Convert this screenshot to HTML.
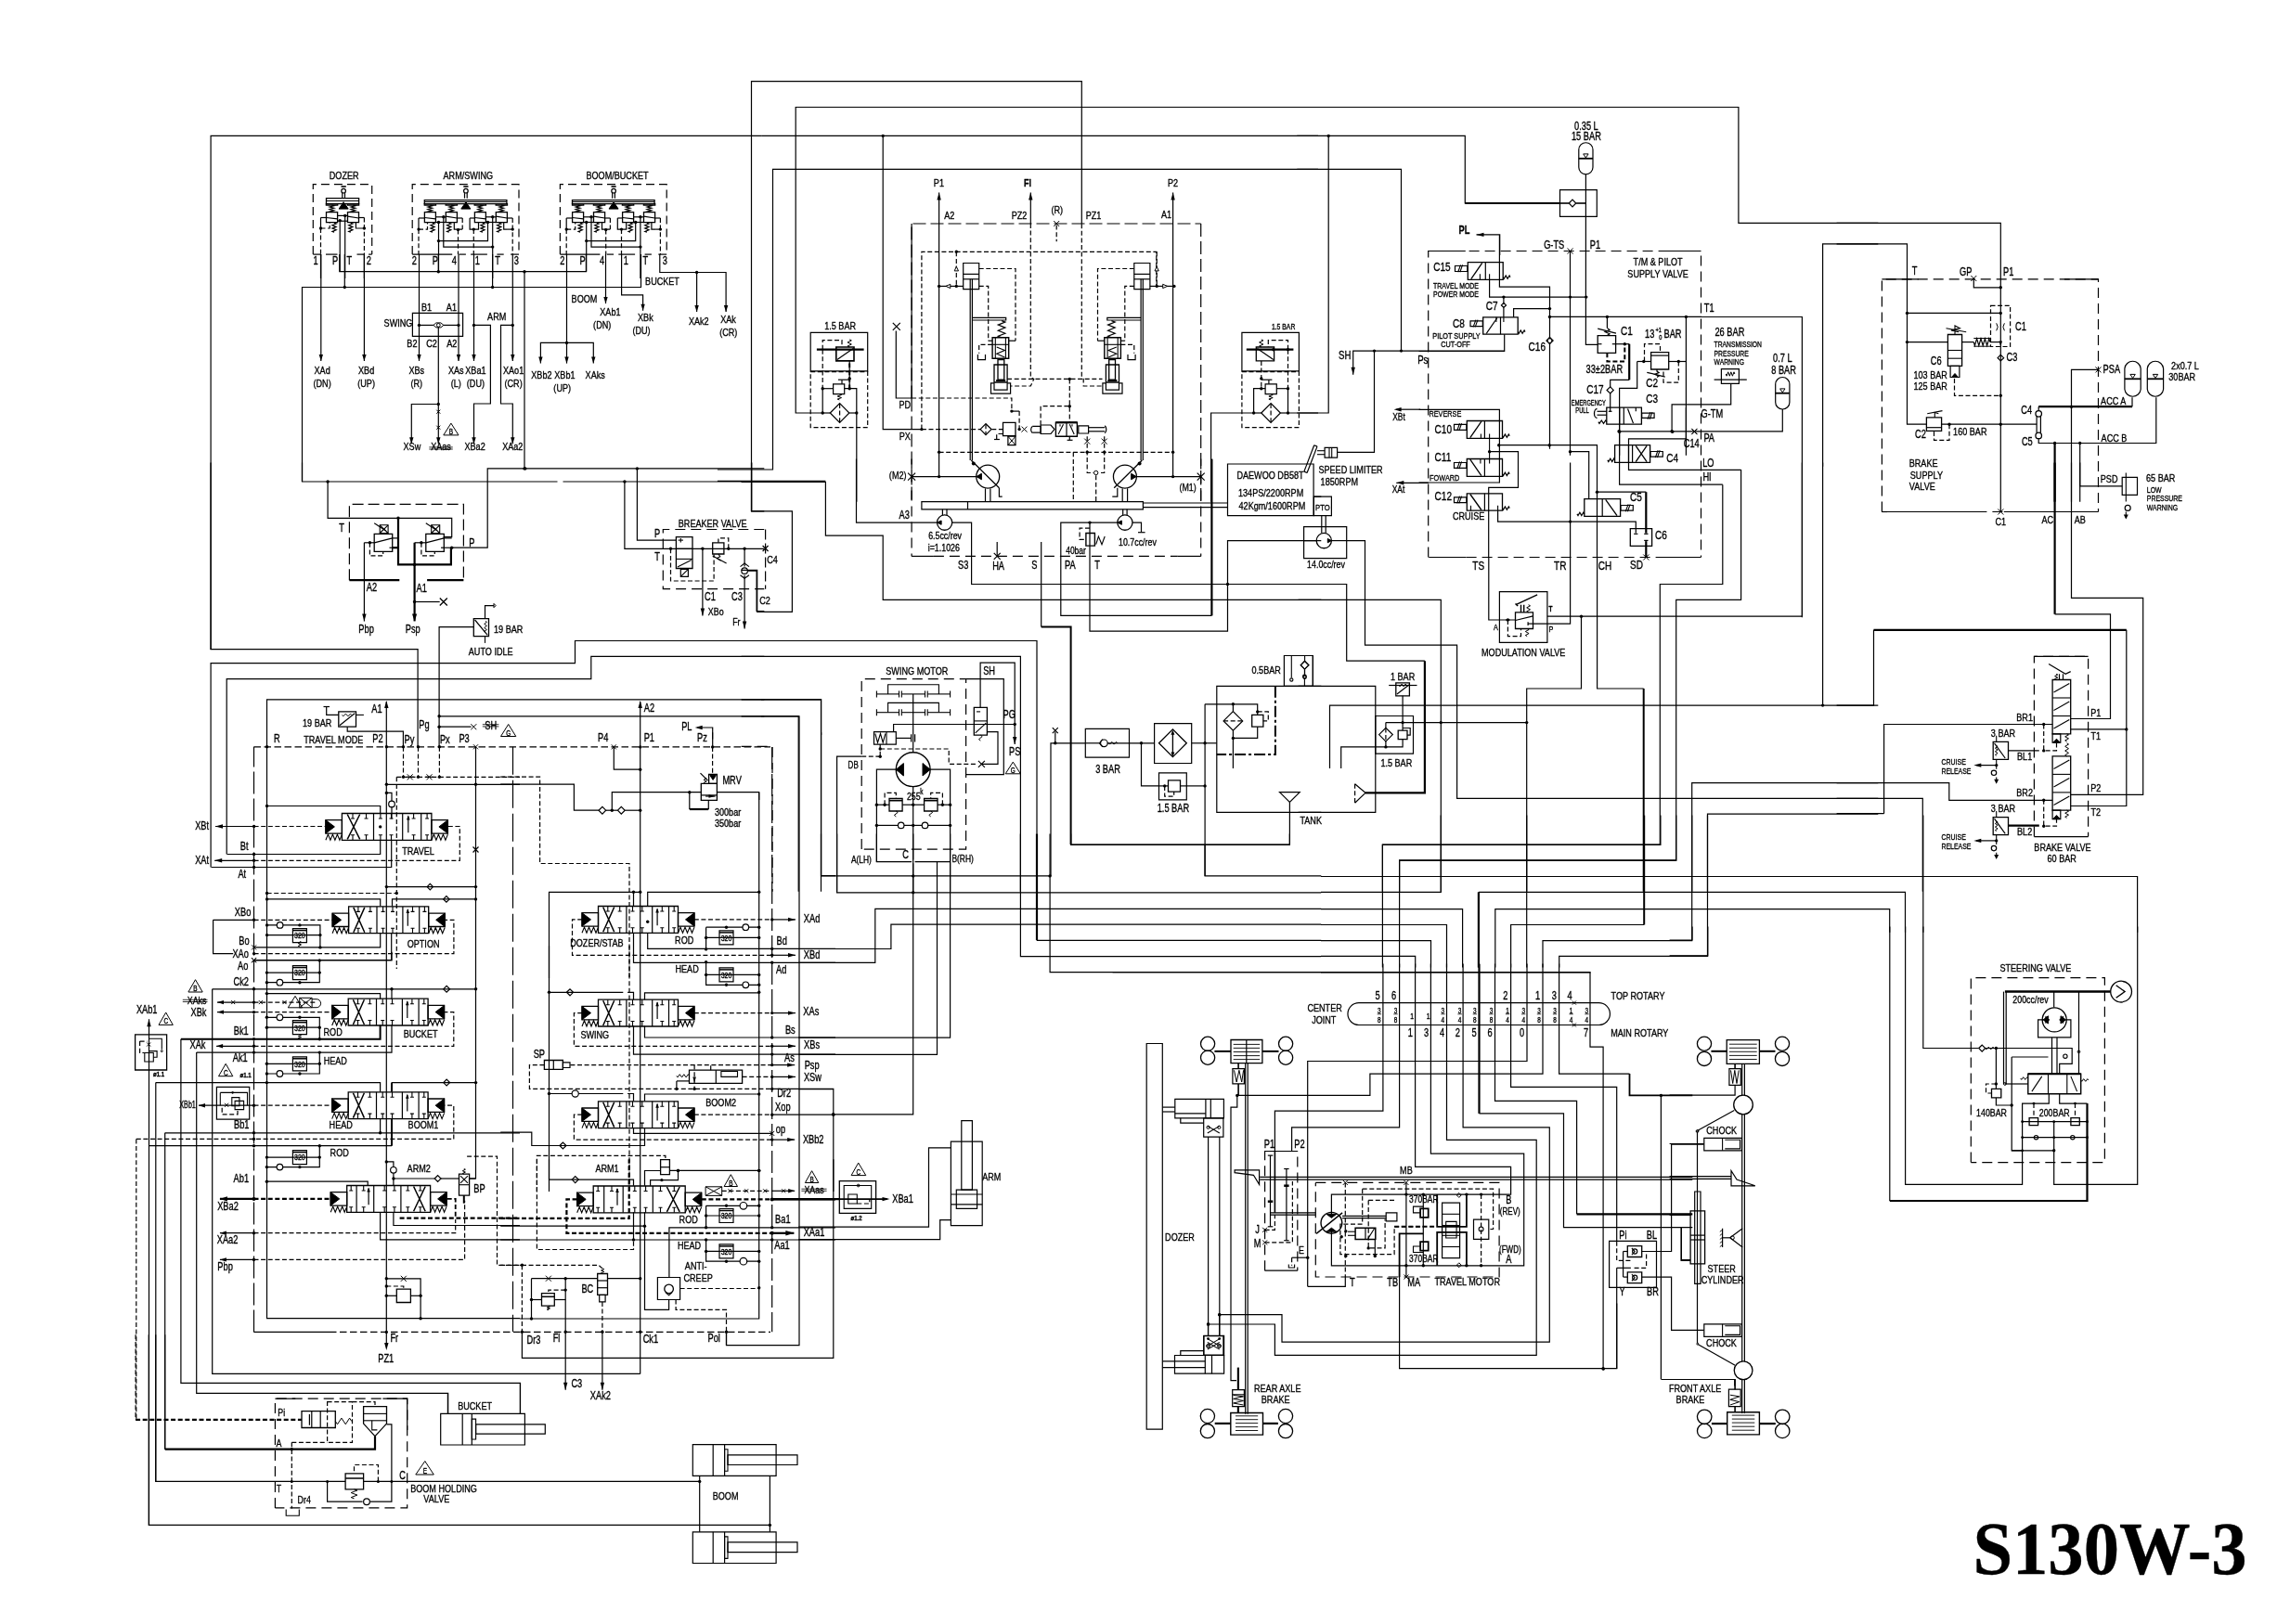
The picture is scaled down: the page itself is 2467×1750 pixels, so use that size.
<!DOCTYPE html>
<html><head><meta charset="utf-8"><style>
html,body{margin:0;padding:0;background:#fff}
svg{display:block;will-change:transform}
text{font-family:"Liberation Sans",sans-serif;fill:#000;stroke:#000;stroke-width:.35px;stroke-linejoin:round}
</style></head><body>
<svg width="2467" height="1750" viewBox="0 0 2467 1750" stroke="#000" fill="none" stroke-linecap="butt" stroke-linejoin="miter">
<rect x="0" y="0" width="2467" height="1750" fill="#fff" stroke="none"/>
<circle cx="370.1" cy="205.7" r="2.3055963110459023" fill="none" stroke-width="1.2"/>
<path d="M367.5 201.0L372.8 201.0" stroke-width="1.6" fill="none"/>
<path d="M368.8 208.1L368.8 213.7" stroke-width="1.2" fill="none"/>
<path d="M371.5 208.1L371.5 213.7" stroke-width="1.2" fill="none"/>
<path d="M351.5 213.7H386.6V219.6H351.5Z" stroke-width="1.3" fill="none"/>
<path d="M351.5 216.5L386.6 216.5" stroke-width="1.1" fill="none"/>
<polygon points="370.1,217.7 365.1,225.1 375.2,225.1" fill="#000" stroke-width="1"/>
<path d="M351.5 228.7H363.6V239.7H351.5Z" stroke-width="1.3" fill="none"/>
<path d="M351.3 219.6L363.8 219.6L363.8 221.1L351.3 221.1Z" stroke-width="1.1" fill="none"/>
<path d="M357.5 221.1L359.8 221.7L355.2 223.0L359.8 224.3L355.2 225.5L359.8 226.8L355.2 228.1L357.5 228.7" stroke-width="1.2" fill="none"/>
<path d="M351.5 234.5L363.6 235.8" stroke-width="1.2" fill="none"/>
<path d="M360.1 240.3L362.2 241.1L358.0 242.7L362.2 244.4L358.0 246.1L362.2 247.7L358.0 249.4L360.1 250.2" stroke-width="1.2" fill="none"/>
<path d="M374.5 228.7H386.5V239.7H374.5Z" stroke-width="1.3" fill="none"/>
<path d="M374.3 219.6L386.7 219.6L386.7 221.1L374.3 221.1Z" stroke-width="1.1" fill="none"/>
<path d="M380.5 221.1L382.8 221.7L378.2 223.0L382.8 224.3L378.2 225.5L382.8 226.8L378.2 228.1L380.5 228.7" stroke-width="1.2" fill="none"/>
<path d="M374.5 233.2L386.5 235.0" stroke-width="1.2" fill="none"/>
<path d="M377.8 240.3L379.9 241.1L375.7 242.7L379.9 244.4L375.7 246.1L379.9 247.7L375.7 249.4L377.8 250.2" stroke-width="1.2" fill="none"/>
<path d="M337.3 274.1L337.3 198.7L400.7 198.7L400.7 274.1" stroke-width="1.2" fill="none" stroke-dasharray="9 5"/>
<path d="M337.3 274.1L345.5 274.1" stroke-width="1.2" fill="none"/>
<path d="M351.0 274.1L363.5 274.1" stroke-width="1.2" fill="none"/>
<path d="M384.5 274.1L392.4 274.1" stroke-width="1.2" fill="none"/>
<path d="M397.1 274.1L400.7 274.1" stroke-width="1.2" fill="none"/>
<path d="M345.5 234.5L351.5 234.5" stroke-width="1.2" fill="none"/>
<path d="M345.5 234.5L345.5 246.0" stroke-width="1.2" fill="none"/>
<circle cx="345.5" cy="246.0" r="1.7" fill="#000" stroke="none"/>
<path d="M345.5 246.0L345.5 274.1" stroke-width="1.2" fill="none" stroke-dasharray="5 2.6"/>
<path d="M345.5 246.0L355.2 246.0L355.2 239.7" stroke-width="1.2" fill="none" stroke-dasharray="5 2.6"/>
<path d="M345.5 274.1L345.5 300.0" stroke-width="1.2" fill="none"/>
<path d="M386.6 234.5L392.4 234.5" stroke-width="1.2" fill="none"/>
<path d="M383.4 239.7L383.4 246.0L392.4 246.0" stroke-width="1.2" fill="none"/>
<circle cx="392.4" cy="246.0" r="1.7" fill="#000" stroke="none"/>
<path d="M392.4 234.5L392.4 274.1" stroke-width="1.2" fill="none" stroke-dasharray="5 2.6"/>
<path d="M392.4 274.1L392.4 300.0" stroke-width="1.2" fill="none"/>
<path d="M363.5 232.4L374.5 232.4" stroke-width="1.2" fill="none"/>
<path d="M363.5 238.2L374.5 238.2" stroke-width="1.2" fill="none"/>
<circle cx="371.7" cy="232.4" r="1.7" fill="#000" stroke="none"/>
<circle cx="366.2" cy="237.6" r="1.7" fill="#000" stroke="none"/>
<path d="M366.2 237.6L366.2 292.7" stroke-width="1.2" fill="none"/>
<path d="M371.7 232.4L371.7 300.0" stroke-width="1.2" fill="none"/>
<circle cx="501.9" cy="205.7" r="2.3055963110459023" fill="none" stroke-width="1.2"/>
<path d="M499.3 201.0L504.5 201.0" stroke-width="1.6" fill="none"/>
<path d="M500.5 208.1L500.5 213.7" stroke-width="1.2" fill="none"/>
<path d="M503.2 208.1L503.2 213.7" stroke-width="1.2" fill="none"/>
<path d="M457.3 215.6H545.9V219.6H457.3Z" stroke-width="1.3" fill="none"/>
<path d="M457.3 217.5L545.9 217.5" stroke-width="1.1" fill="none"/>
<polygon points="501.9,217.7 496.8,225.1 506.9,225.1" fill="#000" stroke-width="1"/>
<path d="M457.4 228.7H469.4V239.7H457.4Z" stroke-width="1.3" fill="none"/>
<path d="M457.2 219.6L469.6 219.6L469.6 221.1L457.2 221.1Z" stroke-width="1.1" fill="none"/>
<path d="M463.4 221.1L465.7 221.7L461.1 223.0L465.7 224.3L461.1 225.5L465.7 226.8L461.1 228.1L463.4 228.7" stroke-width="1.2" fill="none"/>
<path d="M457.4 234.5L469.4 235.8" stroke-width="1.2" fill="none"/>
<path d="M466.0 240.3L468.1 241.1L463.9 242.7L468.1 244.4L463.9 246.1L468.1 247.7L463.9 249.4L466.0 250.2" stroke-width="1.2" fill="none"/>
<path d="M480.3 228.7H492.4V239.7H480.3Z" stroke-width="1.3" fill="none"/>
<path d="M480.1 219.6L492.6 219.6L492.6 221.1L480.1 221.1Z" stroke-width="1.1" fill="none"/>
<path d="M486.3 221.1L488.6 221.7L484.0 223.0L488.6 224.3L484.0 225.5L488.6 226.8L484.0 228.1L486.3 228.7" stroke-width="1.2" fill="none"/>
<path d="M480.3 233.2L492.4 235.0" stroke-width="1.2" fill="none"/>
<path d="M483.7 240.3L485.8 241.1L481.6 242.7L485.8 244.4L481.6 246.1L485.8 247.7L481.6 249.4L483.7 250.2" stroke-width="1.2" fill="none"/>
<path d="M511.4 228.7H523.4V239.7H511.4Z" stroke-width="1.3" fill="none"/>
<path d="M511.1 219.6L523.6 219.6L523.6 221.1L511.1 221.1Z" stroke-width="1.1" fill="none"/>
<path d="M517.3 221.1L519.6 221.7L515.0 223.0L519.6 224.3L515.0 225.5L519.6 226.8L515.0 228.1L517.3 228.7" stroke-width="1.2" fill="none"/>
<path d="M511.4 234.5L523.4 235.8" stroke-width="1.2" fill="none"/>
<path d="M519.9 240.3L522.0 241.1L517.9 242.7L522.0 244.4L517.9 246.1L522.0 247.7L517.9 249.4L519.9 250.2" stroke-width="1.2" fill="none"/>
<path d="M534.3 228.7H546.4V239.7H534.3Z" stroke-width="1.3" fill="none"/>
<path d="M534.1 219.6L546.6 219.6L546.6 221.1L534.1 221.1Z" stroke-width="1.1" fill="none"/>
<path d="M540.3 221.1L542.6 221.7L538.0 223.0L542.6 224.3L538.0 225.5L542.6 226.8L538.0 228.1L540.3 228.7" stroke-width="1.2" fill="none"/>
<path d="M534.3 233.2L546.4 235.0" stroke-width="1.2" fill="none"/>
<path d="M537.7 240.3L539.8 241.1L535.6 242.7L539.8 244.4L535.6 246.1L539.8 247.7L535.6 249.4L537.7 250.2" stroke-width="1.2" fill="none"/>
<path d="M444.2 274.1L444.2 198.7L559.0 198.7L559.0 274.1" stroke-width="1.2" fill="none" stroke-dasharray="9 5"/>
<path d="M444.2 274.1L487.2 274.1" stroke-width="1.2" fill="none"/>
<path d="M494.5 274.1L501.9 274.1" stroke-width="1.2" fill="none"/>
<path d="M507.1 274.1L524.9 274.1" stroke-width="1.2" fill="none"/>
<path d="M535.4 274.1L542.7 274.1" stroke-width="1.2" fill="none"/>
<path d="M550.1 274.1L559.0 274.1" stroke-width="1.2" fill="none"/>
<path d="M451.0 235.0L457.3 235.0" stroke-width="1.2" fill="none"/>
<path d="M451.0 235.0L451.0 247.1" stroke-width="1.2" fill="none"/>
<circle cx="451.0" cy="247.1" r="1.7" fill="#000" stroke="none"/>
<path d="M451.0 247.1L451.0 274.1" stroke-width="1.2" fill="none" stroke-dasharray="5 2.6"/>
<path d="M451.0 247.1L460.5 247.1L460.5 239.7" stroke-width="1.2" fill="none" stroke-dasharray="5 2.6"/>
<path d="M492.4 235.0L498.2 235.0" stroke-width="1.2" fill="none"/>
<path d="M489.3 239.7L489.3 247.1L498.2 247.1" stroke-width="1.2" fill="none"/>
<path d="M498.2 235.0L498.2 247.1" stroke-width="1.2" fill="none" stroke-dasharray="5 2.6"/>
<circle cx="493.5" cy="247.6" r="1.7" fill="#000" stroke="none"/>
<path d="M493.5 247.6L493.5 274.1" stroke-width="1.2" fill="none" stroke-dasharray="5 2.6"/>
<path d="M506.1 235.0L511.8 235.0" stroke-width="1.2" fill="none"/>
<path d="M506.1 235.0L506.1 247.1L515.5 247.1L515.5 239.7" stroke-width="1.2" fill="none"/>
<circle cx="510.3" cy="247.1" r="1.7" fill="#000" stroke="none"/>
<path d="M510.3 247.1L510.3 274.1" stroke-width="1.2" fill="none" stroke-dasharray="5 2.6"/>
<path d="M545.9 235.0L552.2 235.0" stroke-width="1.2" fill="none"/>
<path d="M542.7 239.7L542.7 247.1L546.9 247.1" stroke-width="1.2" fill="none"/>
<path d="M552.2 235.0L552.2 274.1" stroke-width="1.2" fill="none" stroke-dasharray="5 2.6"/>
<path d="M546.9 247.1L552.2 247.1" stroke-width="1.2" fill="none" stroke-dasharray="5 2.6"/>
<circle cx="552.2" cy="247.1" r="1.7" fill="#000" stroke="none"/>
<path d="M469.4 233.8L480.4 233.8" stroke-width="1.2" fill="none"/>
<path d="M469.4 239.5L480.4 239.5" stroke-width="1.2" fill="none"/>
<path d="M522.8 233.8L534.4 233.8" stroke-width="1.2" fill="none"/>
<path d="M522.8 239.5L534.4 239.5" stroke-width="1.2" fill="none"/>
<circle cx="472.5" cy="239.5" r="1.7" fill="#000" stroke="none"/>
<circle cx="477.8" cy="233.8" r="1.7" fill="#000" stroke="none"/>
<circle cx="525.5" cy="239.5" r="1.7" fill="#000" stroke="none"/>
<circle cx="530.7" cy="233.8" r="1.7" fill="#000" stroke="none"/>
<circle cx="472.5" cy="259.6" r="1.7" fill="#000" stroke="none"/>
<circle cx="530.7" cy="266.1" r="1.7" fill="#000" stroke="none"/>
<path d="M472.5 239.5L472.5 292.7" stroke-width="1.2" fill="none"/>
<path d="M472.5 259.6L525.5 259.6L525.5 239.5" stroke-width="1.2" fill="none"/>
<path d="M477.8 233.8L477.8 266.1L530.7 266.1" stroke-width="1.2" fill="none"/>
<path d="M530.7 233.8L530.7 300.0" stroke-width="1.2" fill="none"/>
<circle cx="661.1" cy="205.7" r="2.3055963110459023" fill="none" stroke-width="1.2"/>
<path d="M658.5 201.0L663.7 201.0" stroke-width="1.6" fill="none"/>
<path d="M659.7 208.1L659.7 213.7" stroke-width="1.2" fill="none"/>
<path d="M662.4 208.1L662.4 213.7" stroke-width="1.2" fill="none"/>
<path d="M616.5 215.6H705.1V219.6H616.5Z" stroke-width="1.3" fill="none"/>
<path d="M616.5 217.5L705.1 217.5" stroke-width="1.1" fill="none"/>
<polygon points="661.1,217.7 656.0,225.1 666.1,225.1" fill="#000" stroke-width="1"/>
<path d="M616.6 228.7H628.6V239.7H616.6Z" stroke-width="1.3" fill="none"/>
<path d="M616.4 219.6L628.8 219.6L628.8 221.1L616.4 221.1Z" stroke-width="1.1" fill="none"/>
<path d="M622.6 221.1L624.9 221.7L620.3 223.0L624.9 224.3L620.3 225.5L624.9 226.8L620.3 228.1L622.6 228.7" stroke-width="1.2" fill="none"/>
<path d="M616.6 234.5L628.6 235.8" stroke-width="1.2" fill="none"/>
<path d="M625.2 240.3L627.3 241.1L623.1 242.7L627.3 244.4L623.1 246.1L627.3 247.7L623.1 249.4L625.2 250.2" stroke-width="1.2" fill="none"/>
<path d="M639.5 228.7H651.6V239.7H639.5Z" stroke-width="1.3" fill="none"/>
<path d="M639.3 219.6L651.8 219.6L651.8 221.1L639.3 221.1Z" stroke-width="1.1" fill="none"/>
<path d="M645.5 221.1L647.8 221.7L643.2 223.0L647.8 224.3L643.2 225.5L647.8 226.8L643.2 228.1L645.5 228.7" stroke-width="1.2" fill="none"/>
<path d="M639.5 233.2L651.6 235.0" stroke-width="1.2" fill="none"/>
<path d="M642.9 240.3L645.0 241.1L640.8 242.7L645.0 244.4L640.8 246.1L645.0 247.7L640.8 249.4L642.9 250.2" stroke-width="1.2" fill="none"/>
<path d="M670.6 228.7H682.6V239.7H670.6Z" stroke-width="1.3" fill="none"/>
<path d="M670.3 219.6L682.8 219.6L682.8 221.1L670.3 221.1Z" stroke-width="1.1" fill="none"/>
<path d="M676.5 221.1L678.8 221.7L674.2 223.0L678.8 224.3L674.2 225.5L678.8 226.8L674.2 228.1L676.5 228.7" stroke-width="1.2" fill="none"/>
<path d="M670.6 234.5L682.6 235.8" stroke-width="1.2" fill="none"/>
<path d="M679.1 240.3L681.2 241.1L677.1 242.7L681.2 244.4L677.1 246.1L681.2 247.7L677.1 249.4L679.1 250.2" stroke-width="1.2" fill="none"/>
<path d="M693.5 228.7H705.6V239.7H693.5Z" stroke-width="1.3" fill="none"/>
<path d="M693.3 219.6L705.8 219.6L705.8 221.1L693.3 221.1Z" stroke-width="1.1" fill="none"/>
<path d="M699.5 221.1L701.8 221.7L697.2 223.0L701.8 224.3L697.2 225.5L701.8 226.8L697.2 228.1L699.5 228.7" stroke-width="1.2" fill="none"/>
<path d="M693.5 233.2L705.6 235.0" stroke-width="1.2" fill="none"/>
<path d="M696.9 240.3L699.0 241.1L694.8 242.7L699.0 244.4L694.8 246.1L699.0 247.7L694.8 249.4L696.9 250.2" stroke-width="1.2" fill="none"/>
<path d="M603.4 274.1L603.4 198.7L718.2 198.7L718.2 274.1" stroke-width="1.2" fill="none" stroke-dasharray="9 5"/>
<path d="M603.4 274.1L646.4 274.1" stroke-width="1.2" fill="none"/>
<path d="M653.7 274.1L661.1 274.1" stroke-width="1.2" fill="none"/>
<path d="M666.3 274.1L684.1 274.1" stroke-width="1.2" fill="none"/>
<path d="M694.6 274.1L701.9 274.1" stroke-width="1.2" fill="none"/>
<path d="M709.3 274.1L718.2 274.1" stroke-width="1.2" fill="none"/>
<path d="M610.2 235.0L616.5 235.0" stroke-width="1.2" fill="none"/>
<path d="M610.2 235.0L610.2 247.1" stroke-width="1.2" fill="none"/>
<circle cx="610.2" cy="247.1" r="1.7" fill="#000" stroke="none"/>
<path d="M610.2 247.1L610.2 274.1" stroke-width="1.2" fill="none" stroke-dasharray="5 2.6"/>
<path d="M610.2 247.1L619.7 247.1L619.7 239.7" stroke-width="1.2" fill="none" stroke-dasharray="5 2.6"/>
<path d="M651.6 235.0L657.4 235.0" stroke-width="1.2" fill="none"/>
<path d="M648.5 239.7L648.5 247.1L657.4 247.1" stroke-width="1.2" fill="none"/>
<path d="M657.4 235.0L657.4 247.1" stroke-width="1.2" fill="none" stroke-dasharray="5 2.6"/>
<circle cx="652.7" cy="247.6" r="1.7" fill="#000" stroke="none"/>
<path d="M652.7 247.6L652.7 274.1" stroke-width="1.2" fill="none" stroke-dasharray="5 2.6"/>
<path d="M665.3 235.0L671.0 235.0" stroke-width="1.2" fill="none"/>
<path d="M665.3 235.0L665.3 247.1L674.7 247.1L674.7 239.7" stroke-width="1.2" fill="none"/>
<circle cx="669.5" cy="247.1" r="1.7" fill="#000" stroke="none"/>
<path d="M669.5 247.1L669.5 274.1" stroke-width="1.2" fill="none" stroke-dasharray="5 2.6"/>
<path d="M705.1 235.0L711.4 235.0" stroke-width="1.2" fill="none"/>
<path d="M701.9 239.7L701.9 247.1L706.1 247.1" stroke-width="1.2" fill="none"/>
<path d="M711.4 235.0L711.4 274.1" stroke-width="1.2" fill="none" stroke-dasharray="5 2.6"/>
<path d="M706.1 247.1L711.4 247.1" stroke-width="1.2" fill="none" stroke-dasharray="5 2.6"/>
<circle cx="711.4" cy="247.1" r="1.7" fill="#000" stroke="none"/>
<path d="M628.6 233.8L639.6 233.8" stroke-width="1.2" fill="none"/>
<path d="M628.6 239.5L639.6 239.5" stroke-width="1.2" fill="none"/>
<path d="M682.0 233.8L693.6 233.8" stroke-width="1.2" fill="none"/>
<path d="M682.0 239.5L693.6 239.5" stroke-width="1.2" fill="none"/>
<circle cx="631.7" cy="239.5" r="1.7" fill="#000" stroke="none"/>
<circle cx="637.0" cy="233.8" r="1.7" fill="#000" stroke="none"/>
<circle cx="684.7" cy="239.5" r="1.7" fill="#000" stroke="none"/>
<circle cx="689.9" cy="233.8" r="1.7" fill="#000" stroke="none"/>
<circle cx="631.7" cy="259.6" r="1.7" fill="#000" stroke="none"/>
<circle cx="689.9" cy="266.1" r="1.7" fill="#000" stroke="none"/>
<path d="M631.7 239.5L631.7 292.7" stroke-width="1.2" fill="none"/>
<path d="M631.7 259.6L684.7 259.6L684.7 239.5" stroke-width="1.2" fill="none"/>
<path d="M637.0 233.8L637.0 266.1L689.9 266.1" stroke-width="1.2" fill="none"/>
<path d="M689.9 233.8L689.9 300.0" stroke-width="1.2" fill="none"/>
<text transform="translate(370.7,193.3) scale(0.781,1)" text-anchor="middle" font-size="11.64">DOZER</text>
<text transform="translate(504.3,193.3) scale(0.781,1)" text-anchor="middle" font-size="11.64">ARM/SWING</text>
<text transform="translate(665.0,192.7) scale(0.781,1)" text-anchor="middle" font-size="11.64">BOOM/BUCKET</text>
<text transform="translate(340.1,284.6) scale(0.781,1)" text-anchor="middle" font-size="11.85">1</text>
<text transform="translate(361.2,284.6) scale(0.781,1)" text-anchor="middle" font-size="11.85">P</text>
<text transform="translate(376.4,284.6) scale(0.781,1)" text-anchor="middle" font-size="11.85">T</text>
<text transform="translate(397.3,284.6) scale(0.781,1)" text-anchor="middle" font-size="11.85">2</text>
<text transform="translate(446.3,284.6) scale(0.781,1)" text-anchor="middle" font-size="11.85">2</text>
<text transform="translate(468.8,284.6) scale(0.781,1)" text-anchor="middle" font-size="11.85">P</text>
<text transform="translate(489.4,284.6) scale(0.781,1)" text-anchor="middle" font-size="11.85">4</text>
<text transform="translate(514.3,284.6) scale(0.781,1)" text-anchor="middle" font-size="11.85">1</text>
<text transform="translate(536.0,284.6) scale(0.781,1)" text-anchor="middle" font-size="11.85">T</text>
<text transform="translate(556.3,284.6) scale(0.781,1)" text-anchor="middle" font-size="11.85">3</text>
<text transform="translate(605.9,284.6) scale(0.781,1)" text-anchor="middle" font-size="11.85">2</text>
<text transform="translate(627.6,284.6) scale(0.781,1)" text-anchor="middle" font-size="11.85">P</text>
<text transform="translate(648.5,284.6) scale(0.781,1)" text-anchor="middle" font-size="11.85">4</text>
<text transform="translate(674.2,284.6) scale(0.781,1)" text-anchor="middle" font-size="11.85">1</text>
<text transform="translate(695.4,284.6) scale(0.781,1)" text-anchor="middle" font-size="11.85">T</text>
<text transform="translate(716.2,284.6) scale(0.781,1)" text-anchor="middle" font-size="11.85">3</text>
<path d="M820.0 146.4L227.1 146.4L227.1 700.0" stroke-width="1.2" fill="none"/>
<path d="M365.8 274.0L365.8 292.7L631.4 292.7L631.4 274.0" stroke-width="1.2" fill="none"/>
<circle cx="472.3" cy="292.7" r="1.7" fill="#000" stroke="none"/>
<circle cx="565.0" cy="292.7" r="1.7" fill="#000" stroke="none"/>
<path d="M690.5 274.0L690.5 309.5L325.5 309.5L325.5 519.0" stroke-width="1.2" fill="none"/>
<circle cx="371.3" cy="309.5" r="1.7" fill="#000" stroke="none"/>
<circle cx="530.6" cy="309.5" r="1.7" fill="#000" stroke="none"/>
<path d="M371.3 274.0L371.3 309.5" stroke-width="1.2" fill="none"/>
<path d="M472.3 274.0L472.3 292.7" stroke-width="1.2" fill="none"/>
<path d="M530.6 274.0L530.6 309.5" stroke-width="1.2" fill="none"/>
<path d="M345.8 274.0L345.8 388.9" stroke-width="1.2" fill="none"/>
<polygon points="345.8,388.9 343.6,381.9 348.0,381.9" fill="#000" stroke="none"/>
<path d="M392.4 274.0L392.4 388.9" stroke-width="1.2" fill="none"/>
<polygon points="392.4,388.9 390.2,381.9 394.6,381.9" fill="#000" stroke="none"/>
<path d="M451.5 274.0L451.5 388.9" stroke-width="1.2" fill="none"/>
<polygon points="451.5,388.9 449.3,381.9 453.7,381.9" fill="#000" stroke="none"/>
<path d="M494.0 274.0L494.0 388.9" stroke-width="1.2" fill="none"/>
<polygon points="494.0,388.9 491.8,381.9 496.2,381.9" fill="#000" stroke="none"/>
<path d="M510.5 274.0L510.5 388.9" stroke-width="1.2" fill="none"/>
<polygon points="510.5,388.9 508.3,381.9 512.7,381.9" fill="#000" stroke="none"/>
<path d="M552.3 274.0L552.3 388.9" stroke-width="1.2" fill="none"/>
<polygon points="552.3,388.9 550.1,381.9 554.5,381.9" fill="#000" stroke="none"/>
<path d="M610.5 274.0L610.5 391.6" stroke-width="1.2" fill="none"/>
<path d="M582.4 391.6L582.4 369.4L639.3 369.4L639.3 391.6" stroke-width="1.2" fill="none"/>
<circle cx="610.5" cy="369.4" r="1.7" fill="#000" stroke="none"/>
<polygon points="582.4,391.6 580.2,384.6 584.6,384.6" fill="#000" stroke="none"/>
<polygon points="610.5,391.6 608.3,384.6 612.7,384.6" fill="#000" stroke="none"/>
<polygon points="639.3,391.6 637.1,384.6 641.5,384.6" fill="#000" stroke="none"/>
<path d="M652.5 274.0L652.5 327.1" stroke-width="1.2" fill="none"/>
<polygon points="652.5,327.1 650.3,320.1 654.7,320.1" fill="#000" stroke="none"/>
<path d="M669.6 274.0L669.6 317.9L692.6 317.9L692.6 334.7" stroke-width="1.2" fill="none"/>
<polygon points="692.6,334.7 690.4,327.7 694.8,327.7" fill="#000" stroke="none"/>
<path d="M710.8 274.0L710.8 293.5L782.1 293.5L782.1 336.1" stroke-width="1.2" fill="none"/>
<path d="M750.6 293.5L750.6 336.1" stroke-width="1.2" fill="none"/>
<circle cx="750.6" cy="293.5" r="1.7" fill="#000" stroke="none"/>
<polygon points="782.1,336.1 779.9,329.1 784.3,329.1" fill="#000" stroke="none"/>
<polygon points="750.6,336.1 748.4,329.1 752.8,329.1" fill="#000" stroke="none"/>
<path d="M444.4 337.4H498.6V362.4H444.4Z" stroke-width="1.2" fill="none"/>
<path d="M451.5 350.4L466.9 350.4" stroke-width="1.2" fill="none"/>
<path d="M477.8 350.4L494.0 350.4" stroke-width="1.2" fill="none"/>
<circle cx="451.5" cy="350.4" r="1.7" fill="#000" stroke="none"/>
<circle cx="494.0" cy="350.4" r="1.7" fill="#000" stroke="none"/>
<path d="M466.9 350.4l3 -2.5h5l3 2.5l-3 2.5h-5z" stroke-width="1" fill="none"/>
<circle cx="472.3" cy="350.4" r="1.8968647535430723" fill="none" stroke-width="1"/>
<path d="M472.3 352.3L472.3 478.3" stroke-width="1.2" fill="none"/>
<path d="M472.3 435.5L443.3 435.5L443.3 478.3" stroke-width="1.2" fill="none"/>
<circle cx="472.3" cy="435.5" r="1.7" fill="#000" stroke="none"/>
<polygon points="443.3,478.3 441.1,471.3 445.5,471.3" fill="#000" stroke="none"/>
<polygon points="472.3,478.3 470.1,471.3 474.5,471.3" fill="#000" stroke="none"/>
<path d="M470.3 441.7L474.3 445.7M470.3 445.7L474.3 441.7" stroke-width="1" fill="none"/>
<path d="M470.3 458.7L474.3 462.7M470.3 462.7L474.3 458.7" stroke-width="1" fill="none"/>
<path d="M510.5 350.4L528.4 350.4L528.4 435.0L510.5 435.0L510.5 478.3" stroke-width="1.2" fill="none"/>
<circle cx="510.5" cy="350.4" r="1.7" fill="#000" stroke="none"/>
<polygon points="510.5,478.3 508.3,471.3 512.7,471.3" fill="#000" stroke="none"/>
<path d="M552.3 350.4L539.5 350.4L539.5 435.0L552.3 435.0L552.3 478.3" stroke-width="1.2" fill="none"/>
<circle cx="552.3" cy="350.4" r="1.7" fill="#000" stroke="none"/>
<polygon points="552.3,478.3 550.1,471.3 554.5,471.3" fill="#000" stroke="none"/>
<path d="M565.0 292.7L565.0 504.9" stroke-width="1.2" fill="none"/>
<circle cx="565.0" cy="504.9" r="1.7" fill="#000" stroke="none"/>
<text transform="translate(459.6,335.3) scale(0.781,1)" text-anchor="middle" font-size="11.64">B1</text>
<text transform="translate(486.4,335.3) scale(0.781,1)" text-anchor="middle" font-size="11.64">A1</text>
<text transform="translate(429.0,352.3) scale(0.781,1)" text-anchor="middle" font-size="11.64">SWING</text>
<text transform="translate(443.9,373.5) scale(0.781,1)" text-anchor="middle" font-size="11.64">B2</text>
<text transform="translate(465.0,373.5) scale(0.781,1)" text-anchor="middle" font-size="11.64">C2</text>
<text transform="translate(486.7,373.5) scale(0.781,1)" text-anchor="middle" font-size="11.64">A2</text>
<text transform="translate(535.2,345.0) scale(0.781,1)" text-anchor="middle" font-size="11.64">ARM</text>
<text transform="translate(629.5,326.1) scale(0.781,1)" text-anchor="middle" font-size="11.64">BOOM</text>
<text transform="translate(713.5,307.1) scale(0.781,1)" text-anchor="middle" font-size="11.64">BUCKET</text>
<text transform="translate(347.1,403.0) scale(0.781,1)" text-anchor="middle" font-size="11.64">XAd</text>
<text transform="translate(347.1,417.4) scale(0.781,1)" text-anchor="middle" font-size="11.64">(DN)</text>
<text transform="translate(394.6,403.0) scale(0.781,1)" text-anchor="middle" font-size="11.64">XBd</text>
<text transform="translate(394.6,417.4) scale(0.781,1)" text-anchor="middle" font-size="11.64">(UP)</text>
<text transform="translate(448.8,403.0) scale(0.781,1)" text-anchor="middle" font-size="11.64">XBs</text>
<text transform="translate(448.8,417.4) scale(0.781,1)" text-anchor="middle" font-size="11.64">(R)</text>
<text transform="translate(491.3,403.0) scale(0.781,1)" text-anchor="middle" font-size="11.64">XAs</text>
<text transform="translate(491.3,417.4) scale(0.781,1)" text-anchor="middle" font-size="11.64">(L)</text>
<text transform="translate(512.4,403.0) scale(0.781,1)" text-anchor="middle" font-size="11.64">XBa1</text>
<text transform="translate(512.4,417.4) scale(0.781,1)" text-anchor="middle" font-size="11.64">(DU)</text>
<text transform="translate(553.1,403.0) scale(0.781,1)" text-anchor="middle" font-size="11.64">XAo1</text>
<text transform="translate(553.1,417.4) scale(0.781,1)" text-anchor="middle" font-size="11.64">(CR)</text>
<text transform="translate(583.4,407.9) scale(0.781,1)" text-anchor="middle" font-size="11.64">XBb2</text>
<text transform="translate(608.4,407.9) scale(0.781,1)" text-anchor="middle" font-size="11.64">XBb1</text>
<text transform="translate(605.7,422.0) scale(0.781,1)" text-anchor="middle" font-size="11.64">(UP)</text>
<text transform="translate(641.2,407.9) scale(0.781,1)" text-anchor="middle" font-size="11.64">XAks</text>
<text transform="translate(657.4,340.1) scale(0.781,1)" text-anchor="middle" font-size="11.64">XAb1</text>
<text transform="translate(648.7,354.2) scale(0.781,1)" text-anchor="middle" font-size="11.64">(DN)</text>
<text transform="translate(695.4,345.6) scale(0.781,1)" text-anchor="middle" font-size="11.64">XBk</text>
<text transform="translate(691.0,359.7) scale(0.781,1)" text-anchor="middle" font-size="11.64">(DU)</text>
<text transform="translate(752.8,349.6) scale(0.781,1)" text-anchor="middle" font-size="11.64">XAk2</text>
<text transform="translate(784.5,348.3) scale(0.781,1)" text-anchor="middle" font-size="11.64">XAk</text>
<text transform="translate(784.8,362.4) scale(0.781,1)" text-anchor="middle" font-size="11.64">(CR)</text>
<text transform="translate(443.9,485.1) scale(0.781,1)" text-anchor="middle" font-size="11.64">XSw</text>
<text transform="translate(475.0,485.1) scale(0.781,1)" text-anchor="middle" font-size="11.64">XAas</text>
<path d="M462.3 481.9L487.8 481.9" stroke-width="0.8" fill="none"/>
<path d="M462.3 484.0L487.8 484.0" stroke-width="0.8" fill="none"/>
<text transform="translate(511.6,485.1) scale(0.781,1)" text-anchor="middle" font-size="11.64">XBa2</text>
<text transform="translate(552.3,485.1) scale(0.781,1)" text-anchor="middle" font-size="11.64">XAa2</text>
<path d="M477.8 468.9L485.9 456.1L494.0 468.9Z" stroke-width="1" fill="none"/>
<text transform="translate(485.9,468.0) scale(0.781,1)" text-anchor="middle" font-size="8.24">B</text>
<path d="M809.5 551.0L809.5 87.6L1165.3 87.6L1165.3 241.2" stroke-width="1.2" fill="none"/>
<path d="M1420.0 115.5L857.2 115.5L857.2 445.0L886.2 445.0" stroke-width="1.2" fill="none"/>
<path d="M820.1 146.4L1420.0 146.4" stroke-width="1.2" fill="none"/>
<circle cx="951.2" cy="146.4" r="1.7" fill="#000" stroke="none"/>
<path d="M951.2 146.4L951.2 462.6L992.9 462.6" stroke-width="1.2" fill="none"/>
<circle cx="992.9" cy="462.6" r="1.7" fill="#000" stroke="none"/>
<path d="M1420.0 182.4L832.5 182.4L832.5 506.0L772.9 506.0" stroke-width="1.2" fill="none"/>
<path d="M772.9 518.4L889.4 518.4" stroke-width="1.2" fill="none"/>
<path d="M982.1 429.6L982.1 241.0L1293.7 241.0" stroke-width="1.2" fill="none" stroke-dasharray="14 5"/>
<path d="M982.1 241.0L982.1 429.6" stroke-width="1.2" fill="none"/>
<path d="M982.1 429.6L982.1 540.7" stroke-width="1.2" fill="none" stroke-dasharray="14 5"/>
<path d="M1293.7 241.0L1293.7 540.7" stroke-width="1.2" fill="none" stroke-dasharray="14 5"/>
<path d="M992.9 462.6L992.9 271.3L1245.8 271.3L1245.8 308.4" stroke-width="1.2" fill="none" stroke-dasharray="5 2.6"/>
<path d="M1011.6 207.4L1011.6 513.6" stroke-width="1.2" fill="none"/>
<path d="M1263.6 207.4L1263.6 513.6" stroke-width="1.2" fill="none"/>
<path d="M1110.3 207.4L1110.3 241.0" stroke-width="1.2" fill="none"/>
<polygon points="1011.6,207.4 1009.4,215.4 1013.8,215.4" fill="#000" stroke="none"/>
<polygon points="1110.3,207.4 1108.1,215.4 1112.5,215.4" fill="#000" stroke="none"/>
<polygon points="1263.6,207.4 1261.4,215.4 1265.8,215.4" fill="#000" stroke="none"/>
<path d="M1110.3 241.0L1110.3 406.5L1113.8 408.4L1110.3 416.0L1088.6 416.0" stroke-width="1.2" fill="none" stroke-dasharray="5 2.6"/>
<path d="M1165.3 241.2L1165.3 406.5L1167.2 408.4L1167.2 416.0L1187.5 416.0" stroke-width="1.2" fill="none" stroke-dasharray="5 2.6"/>
<text transform="translate(1011.4,200.6) scale(0.781,1)" text-anchor="middle" font-size="11.64">P1</text>
<text transform="translate(1107.0,200.6) scale(0.781,1)" text-anchor="middle" font-size="11.64" font-weight="bold">Fl</text>
<text transform="translate(1263.6,200.6) scale(0.781,1)" text-anchor="middle" font-size="11.64">P2</text>
<text transform="translate(1022.7,236.4) scale(0.781,1)" text-anchor="middle" font-size="11.64">A2</text>
<text transform="translate(1098.1,235.8) scale(0.781,1)" text-anchor="middle" font-size="11.64">PZ2</text>
<text transform="translate(1138.7,229.6) scale(0.781,1)" text-anchor="middle" font-size="11.64">(R)</text>
<text transform="translate(1178.0,235.8) scale(0.781,1)" text-anchor="middle" font-size="11.64">PZ1</text>
<text transform="translate(1256.6,235.0) scale(0.781,1)" text-anchor="middle" font-size="11.64">A1</text>
<path d="M1135.2 238.0L1141.2 244.0M1135.2 244.0L1141.2 238.0" stroke-width="1" fill="none"/>
<path d="M1138.2 242.6L1138.2 260.2" stroke-width="1.2" fill="none" stroke-dasharray="5 2.6"/>
<path d="M1037.7 283.5H1054.7V311.7H1037.7Z" stroke-width="1.2" fill="none"/>
<path d="M1037.7 295.4L1054.7 295.4" stroke-width="1.2" fill="none"/>
<path d="M1037.7 300.8L1054.7 300.8" stroke-width="1.2" fill="none"/>
<path d="M1045.2 300.8L1045.2 496.0" stroke-width="1.2" fill="none"/>
<path d="M1047.4 300.8L1047.4 496.0" stroke-width="1.2" fill="none"/>
<path d="M1011.6 308.4L1037.7 308.4" stroke-width="1.2" fill="none"/>
<circle cx="1011.6" cy="308.4" r="1.7" fill="#000" stroke="none"/>
<circle cx="1030.3" cy="308.4" r="1.7" fill="#000" stroke="none"/>
<path d="M1019.0 308.4L1023.8 306.3L1023.8 310.6Z" stroke-width="1" fill="#fff"/>
<path d="M1030.3 271.3L1030.3 308.4" stroke-width="1.2" fill="none" stroke-dasharray="5 2.6"/>
<path d="M1054.7 289.5L1094.0 289.5L1094.0 367.2" stroke-width="1.2" fill="none" stroke-dasharray="5 2.6"/>
<path d="M1054.7 308.4L1064.7 308.4L1064.7 367.2" stroke-width="1.2" fill="none" stroke-dasharray="5 2.6"/>
<path d="M1028.2 291.9L1030.3 287.3L1032.5 291.9Z" stroke-width="1" fill="#fff"/>
<path d="M1047.4 342.3L1083.7 342.3L1083.7 345.0L1047.4 345.0" stroke-width="1.2" fill="none"/>
<path d="M1079.1 345.6L1082.9 347.1L1075.3 350.1L1082.9 353.1L1075.3 356.2L1082.9 359.2L1075.3 362.2L1079.1 363.7" stroke-width="1.2" fill="none"/>
<path d="M1069.1 363.7H1086.7V386.2H1069.1Z" stroke-width="1.4" fill="none"/>
<path d="M1069.1 371.3L1086.7 371.3" stroke-width="1.1" fill="none"/>
<path d="M1072.3 363.7L1072.3 386.2" stroke-width="1.1" fill="none"/>
<path d="M1083.4 363.7L1083.4 386.2" stroke-width="1.1" fill="none"/>
<path d="M1073.7 374.0L1082.4 377.5L1073.7 381.3L1082.4 384.9" stroke-width="1.1" fill="none"/>
<path d="M1064.7 367.2L1069.1 367.2" stroke-width="1.2" fill="none"/>
<path d="M1086.7 367.2L1094.0 367.2" stroke-width="1.2" fill="none"/>
<path d="M1069.1 371.3L1054.7 371.3L1054.7 380.8" stroke-width="1.2" fill="none" stroke-dasharray="5 2.6"/>
<path d="M1053.4 382.1L1053.4 387.6L1061.5 387.6L1061.5 382.1" stroke-width="1.2" fill="none"/>
<path d="M1071.0 393.0H1085.1V412.0H1071.0Z" stroke-width="1.3" fill="none"/>
<path d="M1075.0 387.6H1081.8V409.2H1075.0Z" stroke-width="1.3" fill="none"/>
<path d="M1073.1 410.1L1083.2 410.1" stroke-width="2" fill="none"/>
<path d="M1067.5 412.8L1067.5 424.1L1088.6 424.1L1088.6 412.8L1085.1 412.8L1085.1 420.1L1071.0 420.1L1071.0 412.8Z" stroke-width="1.2" fill="none"/>
<path d="M1238.9 283.5H1221.8V311.7H1238.9Z" stroke-width="1.2" fill="none"/>
<path d="M1238.9 295.4L1221.8 295.4" stroke-width="1.2" fill="none"/>
<path d="M1238.9 300.8L1221.8 300.8" stroke-width="1.2" fill="none"/>
<path d="M1231.3 300.8L1231.3 496.0" stroke-width="1.2" fill="none"/>
<path d="M1229.1 300.8L1229.1 496.0" stroke-width="1.2" fill="none"/>
<path d="M1264.9 308.4L1238.9 308.4" stroke-width="1.2" fill="none"/>
<circle cx="1264.9" cy="308.4" r="1.7" fill="#000" stroke="none"/>
<circle cx="1246.2" cy="308.4" r="1.7" fill="#000" stroke="none"/>
<path d="M1257.6 308.4L1252.7 306.3L1252.7 310.6Z" stroke-width="1" fill="#fff"/>
<path d="M1246.2 271.3L1246.2 308.4" stroke-width="1.2" fill="none" stroke-dasharray="5 2.6"/>
<path d="M1221.8 289.5L1182.5 289.5L1182.5 367.2" stroke-width="1.2" fill="none" stroke-dasharray="5 2.6"/>
<path d="M1221.8 308.4L1211.8 308.4L1211.8 367.2" stroke-width="1.2" fill="none" stroke-dasharray="5 2.6"/>
<path d="M1248.3 291.9L1246.2 287.3L1244.0 291.9Z" stroke-width="1" fill="#fff"/>
<path d="M1229.1 342.3L1192.8 342.3L1192.8 345.0L1229.1 345.0" stroke-width="1.2" fill="none"/>
<path d="M1197.4 345.6L1201.2 347.1L1193.6 350.1L1201.2 353.1L1193.6 356.2L1201.2 359.2L1193.6 362.2L1197.4 363.7" stroke-width="1.2" fill="none"/>
<path d="M1207.4 363.7H1189.8V386.2H1207.4Z" stroke-width="1.4" fill="none"/>
<path d="M1207.4 371.3L1189.8 371.3" stroke-width="1.1" fill="none"/>
<path d="M1204.2 363.7L1204.2 386.2" stroke-width="1.1" fill="none"/>
<path d="M1193.1 363.7L1193.1 386.2" stroke-width="1.1" fill="none"/>
<path d="M1202.8 374.0L1194.1 377.5L1202.8 381.3L1194.1 384.9" stroke-width="1.1" fill="none"/>
<path d="M1211.8 367.2L1207.4 367.2" stroke-width="1.2" fill="none"/>
<path d="M1189.8 367.2L1182.5 367.2" stroke-width="1.2" fill="none"/>
<path d="M1207.4 371.3L1221.8 371.3L1221.8 380.8" stroke-width="1.2" fill="none" stroke-dasharray="5 2.6"/>
<path d="M1223.1 382.1L1223.1 387.6L1215.0 387.6L1215.0 382.1" stroke-width="1.2" fill="none"/>
<path d="M1205.5 393.0H1191.4V412.0H1205.5Z" stroke-width="1.3" fill="none"/>
<path d="M1201.5 387.6H1194.7V409.2H1201.5Z" stroke-width="1.3" fill="none"/>
<path d="M1203.4 410.1L1193.3 410.1" stroke-width="2" fill="none"/>
<path d="M1209.0 412.8L1209.0 424.1L1187.9 424.1L1187.9 412.8L1191.4 412.8L1191.4 420.1L1205.5 420.1L1205.5 412.8Z" stroke-width="1.2" fill="none"/>
<circle cx="1030.3" cy="271.3" r="1.7" fill="#000" stroke="none"/>
<path d="M1085.1 408.4L1187.5 408.4" stroke-width="1.2" fill="none" stroke-dasharray="5 2.6"/>
<circle cx="1152.3" cy="408.4" r="1.7" fill="#000" stroke="none"/>
<circle cx="1152.3" cy="437.7" r="1.7" fill="#000" stroke="none"/>
<path d="M1152.3 408.4L1152.3 455.3" stroke-width="1.2" fill="none" stroke-dasharray="5 2.6"/>
<path d="M1121.1 458.0L1121.1 437.7L1152.3 437.7" stroke-width="1.2" fill="none" stroke-dasharray="5 2.6"/>
<path d="M961.8 347.8L969.8 355.8M961.8 355.8L969.8 347.8" stroke-width="1.2" fill="none"/>
<path d="M965.3 356.4L965.3 429.0L982.1 429.0" stroke-width="1.2" fill="none"/>
<path d="M982.1 429.0L1089.9 429.0L1089.9 443.1" stroke-width="1.2" fill="none" stroke-dasharray="5 2.6"/>
<path d="M1098.1 443.1L1098.1 462.6" stroke-width="1.2" fill="none" stroke-dasharray="5 2.6"/>
<path d="M1089.9 443.1L1098.1 443.1" stroke-width="1.2" fill="none"/>
<circle cx="1089.9" cy="443.1" r="1.7" fill="#000" stroke="none"/>
<circle cx="1098.1" cy="462.6" r="1.7" fill="#000" stroke="none"/>
<path d="M992.9 462.6L1056.1 462.6" stroke-width="1.2" fill="none" stroke-dasharray="5 2.6"/>
<path d="M1068.3 462.6L1080.5 462.6" stroke-width="1.2" fill="none" stroke-dasharray="5 2.6"/>
<path d="M1056.1 462.6L1062.0 456.7L1068.0 462.6L1062.0 468.6Z" stroke-width="1.2" fill="none"/>
<path d="M1062.0 457.2L1062.0 468.0" stroke-width="1.2" fill="none" stroke-dasharray="5 2.6"/>
<path d="M1080.5 455.3H1094.0V469.7H1080.5Z" stroke-width="1.3" fill="none"/>
<path d="M1085.9 470.2H1094.0V479.7H1085.9Z" stroke-width="1.2" fill="none"/>
<path d="M1085.9 470.2L1094.0 479.7" stroke-width="1" fill="none"/>
<path d="M1085.9 479.7L1094.0 470.2" stroke-width="1" fill="none"/>
<path d="M1080.5 467.5L1073.7 467.5L1073.7 472.9" stroke-width="1.2" fill="none" stroke-dasharray="5 2.6"/>
<path d="M1071.0 473.5L1076.9 473.5" stroke-width="1.2" fill="none"/>
<path d="M1100.5 459.6L1106.5 465.6M1100.5 465.6L1106.5 459.6" stroke-width="1" fill="none"/>
<path d="M1112.2 459.4a3 4 0 0 0 0 7" stroke-width="1.2" fill="none"/>
<path d="M1112.2 459.4L1121.1 459.4L1121.1 466.1L1112.2 466.1" stroke-width="1.2" fill="none"/>
<path d="M1121.1 458.0L1121.1 467.5L1132.0 467.5L1136.0 462.6L1132.0 458.0L1121.1 458.0" stroke-width="1.2" fill="none"/>
<path d="M1137.4 455.3H1160.4V470.2H1137.4Z" stroke-width="1.4" fill="none"/>
<path d="M1149.0 455.3L1149.0 470.2" stroke-width="1.2" fill="none"/>
<path d="M1140.1 468.0L1145.5 457.2" stroke-width="1.1" fill="none"/>
<path d="M1152.3 457.2L1157.2 468.0" stroke-width="1.1" fill="none"/>
<path d="M1142.0 457.2L1142.0 459.4" stroke-width="1.1" fill="none"/>
<path d="M1155.0 457.2L1155.0 459.4" stroke-width="1.1" fill="none"/>
<path d="M1137.4 455.3L1160.4 455.3" stroke-width="2.2" fill="none"/>
<path d="M1161.8 458.8H1172.6V467.0H1161.8Z" stroke-width="1.2" fill="none"/>
<path d="M1172.6 460.7L1190.2 460.7" stroke-width="1.2" fill="none"/>
<path d="M1172.6 464.8L1190.2 464.8" stroke-width="1.2" fill="none"/>
<path d="M1190.2 458.8a3 4.5 0 0 1 0 8" stroke-width="1.2" fill="none"/>
<path d="M1152.3 470.2L1152.3 474.3" stroke-width="1.2" fill="none"/>
<path d="M1149.6 474.3L1155.5 474.3" stroke-width="1.2" fill="none"/>
<path d="M1168.2 472.6L1174.2 478.6M1168.2 478.6L1174.2 472.6" stroke-width="1" fill="none"/>
<path d="M1186.7 472.6L1192.7 478.6M1186.7 478.6L1192.7 472.6" stroke-width="1" fill="none"/>
<circle cx="1171.2" cy="487.3" r="1.7" fill="#000" stroke="none"/>
<circle cx="1189.7" cy="487.3" r="1.7" fill="#000" stroke="none"/>
<circle cx="1011.6" cy="487.3" r="1.7" fill="#000" stroke="none"/>
<circle cx="1263.6" cy="487.3" r="1.7" fill="#000" stroke="none"/>
<path d="M1011.6 487.3L1263.6 487.3" stroke-width="1.2" fill="none" stroke-dasharray="5 2.6"/>
<path d="M1156.3 487.3L1156.3 540.7" stroke-width="1.2" fill="none" stroke-dasharray="5 2.6"/>
<path d="M1171.2 470.2L1171.2 509.5L1178.0 509.5" stroke-width="1.2" fill="none" stroke-dasharray="5 2.6"/>
<path d="M1189.7 470.2L1189.7 509.5L1183.4 509.5" stroke-width="1.2" fill="none" stroke-dasharray="5 2.6"/>
<path d="M1180.7 512.2L1180.7 540.7" stroke-width="1.2" fill="none" stroke-dasharray="5 2.6"/>
<circle cx="1180.7" cy="509.5" r="2.167845432620654" fill="none" stroke-width="1"/>
<circle cx="1064.2" cy="513.6" r="12.465111237568761" fill="none" stroke-width="1.3"/>
<circle cx="1211.9" cy="513.6" r="12.465111237568761" fill="none" stroke-width="1.3"/>
<path d="M982.1 513.6L1052.0 513.6" stroke-width="1.2" fill="none"/>
<path d="M1224.1 513.6L1293.7 513.6" stroke-width="1.2" fill="none"/>
<circle cx="1011.6" cy="513.6" r="1.7" fill="#000" stroke="none"/>
<circle cx="1263.6" cy="513.6" r="1.7" fill="#000" stroke="none"/>
<polygon points="1052.0,513.6 1057.4,510.3 1057.4,516.8" fill="#000" stroke-width="1"/>
<polygon points="1224.1,513.6 1218.7,510.3 1218.7,516.8" fill="#000" stroke-width="1"/>
<path d="M1046.3 496.0L1076.4 525.8" stroke-width="1.3" fill="none"/>
<path d="M1230.3 496.0L1200.2 525.8" stroke-width="1.3" fill="none"/>
<circle cx="1048.8" cy="499.5" r="2" fill="#000" stroke="none"/>
<circle cx="1227.6" cy="499.5" r="2" fill="#000" stroke="none"/>
<path d="M978.1 509.6L986.1 517.6M978.1 517.6L986.1 509.6" stroke-width="1.2" fill="none"/>
<path d="M1289.7 509.6L1297.7 517.6M1289.7 517.6L1297.7 509.6" stroke-width="1.2" fill="none"/>
<text transform="translate(967.2,516.0) scale(0.781,1)" text-anchor="middle" font-size="11.64">(M2)</text>
<text transform="translate(974.8,440.4) scale(0.781,1)" text-anchor="middle" font-size="11.64">PD</text>
<text transform="translate(974.8,474.3) scale(0.781,1)" text-anchor="middle" font-size="11.64">PX</text>
<path d="M873.2 358.3H934.7V399.8H873.2Z" stroke-width="1.2" fill="none"/>
<path d="M873.2 400.6H934.7V460.7H873.2Z" stroke-width="1.2" fill="none" stroke-dasharray="5 2.6"/>
<text transform="translate(905.1,355.3) scale(0.781,1)" text-anchor="middle" font-size="11.64">1.5 BAR</text>
<path d="M1337.9 358.3H1399.4V399.8H1337.9Z" stroke-width="1.2" fill="none"/>
<path d="M1337.9 400.6H1399.4V460.7H1337.9Z" stroke-width="1.2" fill="none" stroke-dasharray="5 2.6"/>
<text transform="translate(1382.6,355.3) scale(0.781,1)" text-anchor="middle" font-size="8.76">1.5 BAR</text>
<path d="M879.9 376.7L930.6 376.7" stroke-width="2.2" fill="none"/>
<path d="M900.8 374.0H920.0V388.9H900.8Z" stroke-width="1.6" fill="none"/>
<path d="M901.9 387.6L919.2 375.4" stroke-width="1.2" fill="none"/>
<path d="M915.2 365.9L917.3 366.9L913.0 368.9L917.3 371.0L913.0 373.0L915.2 374.0" stroke-width="1" fill="none"/>
<path d="M886.2 376.7L886.2 366.7L907.0 366.7L907.0 374.0" stroke-width="1.2" fill="none" stroke-dasharray="5 2.6"/>
<path d="M886.2 376.7L886.2 418.7" stroke-width="1.2" fill="none" stroke-dasharray="5 2.6"/>
<path d="M915.2 388.9L915.2 418.7" stroke-width="1.2" fill="none" stroke-dasharray="5 2.6"/>
<path d="M915.2 391.6L915.2 418.7" stroke-width="2" fill="none" stroke-dasharray="5 2.6"/>
<path d="M897.6 413.8H909.7V424.7H897.6Z" stroke-width="1.2" fill="none"/>
<path d="M907.0 409.2L907.0 413.8" stroke-width="1.2" fill="none"/>
<path d="M903.0 409.2L915.2 409.2" stroke-width="1.2" fill="none"/>
<path d="M904.3 424.7L906.5 425.5L902.2 427.0L906.5 428.6L902.2 430.1L904.3 430.9" stroke-width="1" fill="none"/>
<circle cx="886.2" cy="418.7" r="1.7" fill="#000" stroke="none"/>
<circle cx="915.2" cy="418.7" r="1.7" fill="#000" stroke="none"/>
<circle cx="915.2" cy="407.9" r="1.7" fill="#000" stroke="none"/>
<circle cx="886.2" cy="445.0" r="1.7" fill="#000" stroke="none"/>
<circle cx="922.8" cy="445.0" r="1.7" fill="#000" stroke="none"/>
<path d="M886.2 418.7L897.6 418.7" stroke-width="1.2" fill="none"/>
<path d="M909.7 418.7L922.8 418.7L922.8 540.7" stroke-width="1.2" fill="none"/>
<path d="M886.2 418.7L886.2 445.0" stroke-width="1.2" fill="none"/>
<path d="M886.2 445.0L894.3 445.0" stroke-width="1.2" fill="none"/>
<path d="M915.2 445.0L922.8 445.0" stroke-width="1.2" fill="none"/>
<path d="M894.3 445.0L904.6 434.7L914.9 445.0L904.6 455.3Z" stroke-width="1.2" fill="none"/>
<path d="M904.6 435.0L904.6 455.3" stroke-width="1.2" fill="none" stroke-dasharray="5 2.6"/>
<path d="M1342.8 376.7L1393.4 376.7" stroke-width="2.2" fill="none"/>
<path d="M1353.3 374.0H1372.6V388.9H1353.3Z" stroke-width="1.3" fill="none"/>
<path d="M1354.4 375.4L1371.8 387.6" stroke-width="1.2" fill="none"/>
<path d="M1358.8 365.9L1360.9 366.9L1356.6 368.9L1360.9 371.0L1356.6 373.0L1358.8 374.0" stroke-width="1" fill="none"/>
<path d="M1387.5 376.7L1387.5 366.7L1366.3 366.7L1366.3 374.0" stroke-width="1.2" fill="none" stroke-dasharray="5 2.6"/>
<path d="M1387.5 376.7L1387.5 418.7" stroke-width="1.2" fill="none" stroke-dasharray="5 2.6"/>
<path d="M1358.8 388.9L1358.8 418.7" stroke-width="1.2" fill="none" stroke-dasharray="5 2.6"/>
<path d="M1363.1 413.8H1375.3V424.7H1363.1Z" stroke-width="1.2" fill="none"/>
<path d="M1366.9 409.2L1366.9 413.8" stroke-width="1.2" fill="none"/>
<path d="M1358.8 409.2L1370.4 409.2" stroke-width="1.2" fill="none"/>
<path d="M1369.1 424.7L1371.2 425.5L1366.9 427.0L1371.2 428.6L1366.9 430.1L1369.1 430.9" stroke-width="1" fill="none"/>
<circle cx="1387.5" cy="418.7" r="1.7" fill="#000" stroke="none"/>
<circle cx="1358.8" cy="418.7" r="1.7" fill="#000" stroke="none"/>
<circle cx="1358.8" cy="407.9" r="1.7" fill="#000" stroke="none"/>
<circle cx="1387.5" cy="445.0" r="1.7" fill="#000" stroke="none"/>
<circle cx="1350.6" cy="445.0" r="1.7" fill="#000" stroke="none"/>
<circle cx="1387.5" cy="376.7" r="1.7" fill="#000" stroke="none"/>
<circle cx="1371.8" cy="376.7" r="1.7" fill="#000" stroke="none"/>
<path d="M1375.3 418.7L1387.5 418.7" stroke-width="1.2" fill="none"/>
<path d="M1363.1 418.7L1350.6 418.7L1350.6 445.0" stroke-width="1.2" fill="none"/>
<path d="M1387.5 418.7L1387.5 445.0" stroke-width="1.2" fill="none"/>
<path d="M1387.5 445.0L1420.0 445.0" stroke-width="1.2" fill="none"/>
<path d="M1350.6 445.0L1358.8 445.0" stroke-width="1.2" fill="none"/>
<path d="M1379.4 445.0L1387.5 445.0" stroke-width="1.2" fill="none"/>
<path d="M1304.6 540.7L1304.6 445.0L1350.6 445.0" stroke-width="1.2" fill="none"/>
<path d="M1358.8 445.0L1369.1 434.7L1379.4 445.0L1369.1 455.3Z" stroke-width="1.2" fill="none"/>
<path d="M1369.1 435.0L1369.1 455.3" stroke-width="1.2" fill="none" stroke-dasharray="5 2.6"/>
<path d="M1397.3 115.5L1872.9 115.5L1872.9 240.4L2023.3 240.4" stroke-width="1.2" fill="none"/>
<path d="M1397.3 146.4L1578.3 146.4L1578.3 219.0L1680.5 219.0" stroke-width="1.2" fill="none"/>
<path d="M1578.3 219.0L1680.5 219.0" stroke-width="1.8" fill="none"/>
<circle cx="1431.2" cy="146.4" r="1.7" fill="#000" stroke="none"/>
<path d="M1431.2 146.4L1431.2 445.0L1397.3 445.0" stroke-width="1.2" fill="none"/>
<path d="M1397.3 182.4L1509.5 182.4L1509.5 378.1" stroke-width="1.2" fill="none"/>
<path d="M1457.7 403.8L1457.7 378.1L1620.8 378.1" stroke-width="1.2" fill="none"/>
<polygon points="1457.7,403.8 1455.5,395.8 1459.9,395.8" fill="#000" stroke="none"/>
<circle cx="1480.5" cy="378.1" r="1.7" fill="#000" stroke="none"/>
<circle cx="1509.5" cy="378.1" r="1.7" fill="#000" stroke="none"/>
<path d="M1480.5 378.1L1480.5 487.3L1440.6 487.3" stroke-width="1.2" fill="none"/>
<text transform="translate(1448.8,386.8) scale(0.781,1)" text-anchor="middle" font-size="12.36">SH</text>
<text transform="translate(1532.8,391.6) scale(0.781,1)" text-anchor="middle" font-size="12.36">Ps</text>
<path d="M1700.8 161.3a7.6 7.6 0 0 1 15.2 0V180.3a7.6 7.6 0 0 1 -15.2 0Z" stroke-width="1.2" fill="none"/>
<path d="M1700.8 170.8L1716.0 170.8" stroke-width="1.8" fill="none"/>
<path d="M1705.7 165.9L1711.1 165.9L1708.4 170.0Z" stroke-width="1" fill="none"/>
<text transform="translate(1708.9,139.6) scale(0.781,1)" text-anchor="middle" font-size="11.85">0.35 L</text>
<text transform="translate(1708.9,151.0) scale(0.781,1)" text-anchor="middle" font-size="11.85">15 BAR</text>
<path d="M1680.5 204.7H1720.3V233.4H1680.5Z" stroke-width="1.2" fill="none"/>
<path d="M1680.5 219.0L1689.9 219.0" stroke-width="1.6" fill="none"/>
<path d="M1698.1 219.0L1708.4 219.0" stroke-width="1.6" fill="none"/>
<path d="M1690.2 219.0L1694.0 215.2L1697.8 219.0L1694.0 222.8Z" stroke-width="1.2" fill="none"/>
<path d="M1708.4 187.9L1708.4 371.3L1721.1 371.3" stroke-width="1.2" fill="none"/>
<path d="M1590.5 252.9L1615.7 252.9L1615.7 275.1" stroke-width="1.2" fill="none"/>
<path d="M1538.7 600.6L1538.7 270.5L1832.5 270.5L1832.5 600.6" stroke-width="1.2" fill="none" stroke-dasharray="11 6"/>
<path d="M1538.7 270.5L1578.8 270.5" stroke-width="1.2" fill="none"/>
<path d="M1790.2 270.5L1832.5 270.5" stroke-width="1.2" fill="none"/>
<text transform="translate(1786.1,285.9) scale(0.781,1)" text-anchor="middle" font-size="11.64">T/M &amp; PILOT</text>
<text transform="translate(1786.1,299.0) scale(0.781,1)" text-anchor="middle" font-size="11.64">SUPPLY VALVE</text>
<text transform="translate(1674.2,267.8) scale(0.781,1)" text-anchor="middle" font-size="11.85">G-TS</text>
<text transform="translate(1718.4,267.8) scale(0.781,1)" text-anchor="middle" font-size="11.85">P1</text>
<path d="M1688.6 267.5L1694.6 273.5M1688.6 273.5L1694.6 267.5" stroke-width="1" fill="none"/>
<text transform="translate(1577.5,252.3) scale(0.781,1)" text-anchor="middle" font-size="11.85" font-weight="bold">PL</text>
<polygon points="1590.5,252.9 1598.5,250.7 1598.5,255.1" fill="#000" stroke="none"/>
<text transform="translate(1841.2,336.1) scale(0.781,1)" text-anchor="middle" font-size="11.85">T1</text>
<text transform="translate(1863.4,361.8) scale(0.781,1)" text-anchor="middle" font-size="11.85">26 BAR</text>
<text transform="translate(1846.6,374.0) scale(0.728,1)" text-anchor="start" font-size="9.27">TRANSMISSION</text>
<text transform="translate(1846.6,383.5) scale(0.728,1)" text-anchor="start" font-size="9.27">PRESSURE</text>
<text transform="translate(1846.6,393.0) scale(0.728,1)" text-anchor="start" font-size="9.27">WARNING</text>
<path d="M1854.4 397.6H1873.4V413.3H1854.4Z" stroke-width="1.2" fill="none"/>
<path d="M1846.6 409.2L1881.8 409.2" stroke-width="1.2" fill="none"/>
<path d="M1859.3 403.0L1860.1 405.2L1861.7 400.8L1863.3 405.2L1864.8 400.8L1866.4 405.2L1868.0 400.8L1868.8 403.0" stroke-width="1" fill="none"/>
<path d="M1864.7 413.3L1864.7 435.8L1801.1 435.8L1801.1 464.8" stroke-width="1.2" fill="none"/>
<circle cx="1801.1" cy="464.8" r="1.7" fill="#000" stroke="none"/>
<path d="M1912.7 414.1a7.6 7.6 0 0 1 15.2 0V433.4a7.6 7.6 0 0 1 -15.2 0Z" stroke-width="1.2" fill="none"/>
<path d="M1912.7 423.7L1927.9 423.7" stroke-width="1.8" fill="none"/>
<path d="M1917.6 418.9L1923.0 418.9L1920.3 422.9Z" stroke-width="1" fill="none"/>
<text transform="translate(1920.3,390.3) scale(0.781,1)" text-anchor="middle" font-size="11.85">0.7 L</text>
<text transform="translate(1921.6,402.5) scale(0.781,1)" text-anchor="middle" font-size="11.85">8 BAR</text>
<path d="M1920.3 440.9L1920.3 464.8L1744.1 464.8" stroke-width="1.2" fill="none"/>
<circle cx="1744.1" cy="464.8" r="1.7" fill="#000" stroke="none"/>
<path d="M1822.4 461.8L1828.4 467.8M1822.4 467.8L1828.4 461.8" stroke-width="1" fill="none"/>
<path d="M1832.5 341.5L1941.4 341.5L1941.4 665.3" stroke-width="1.2" fill="none"/>
<text transform="translate(1844.4,449.9) scale(0.781,1)" text-anchor="middle" font-size="11.85">G-TM</text>
<text transform="translate(1841.2,475.6) scale(0.781,1)" text-anchor="middle" font-size="11.85">PA</text>
<text transform="translate(1822.2,482.4) scale(0.781,1)" text-anchor="middle" font-size="11.85">C14</text>
<text transform="translate(1840.3,502.7) scale(0.781,1)" text-anchor="middle" font-size="11.85">LO</text>
<text transform="translate(1839.0,518.2) scale(0.781,1)" text-anchor="middle" font-size="11.85">HI</text>
<path d="M1581.3 282.6H1619.2V301.3H1581.3Z" stroke-width="1.3" fill="none"/>
<path d="M1600.3 282.6L1600.3 301.3" stroke-width="1.2" fill="none"/>
<path d="M1567.5 286.5H1580.8V292.5H1567.5Z" stroke-width="1.2" fill="none"/>
<path d="M1570.7 293.2L1573.5 285.4" stroke-width="1.1" fill="none"/>
<path d="M1572.8 293.2L1575.6 285.4" stroke-width="1.1" fill="none"/>
<path d="M1619.2 298.7L1620.2 300.4L1622.2 297.0L1624.1 300.4L1626.1 297.0L1627.0 298.7" stroke-width="1.2" fill="none"/>
<path d="M1584.8 300.6L1596.7 283.3" stroke-width="1.3" fill="none"/>
<path d="M1597.7 341.8H1635.2V360.2H1597.7Z" stroke-width="1.3" fill="none"/>
<path d="M1616.5 341.8L1616.5 360.2" stroke-width="1.2" fill="none"/>
<path d="M1584.0 345.8H1597.3V351.7H1584.0Z" stroke-width="1.2" fill="none"/>
<path d="M1587.1 352.4L1589.9 344.6" stroke-width="1.1" fill="none"/>
<path d="M1589.2 352.4L1592.0 344.6" stroke-width="1.1" fill="none"/>
<path d="M1635.2 357.6L1636.2 359.3L1638.2 355.9L1640.1 359.3L1642.1 355.9L1643.0 357.6" stroke-width="1.2" fill="none"/>
<path d="M1601.2 359.5L1612.9 342.5" stroke-width="1.3" fill="none"/>
<path d="M1594.4 295.3L1594.4 301.3" stroke-width="1.1" fill="none"/>
<path d="M1604.6 295.3L1604.6 301.3" stroke-width="1.1" fill="none"/>
<path d="M1611.9 341.8L1611.9 347.0" stroke-width="1.1" fill="none"/>
<path d="M1619.9 341.8L1619.9 347.0" stroke-width="1.1" fill="none"/>
<path d="M1615.4 253.1L1615.4 309.2L1669.5 309.2L1669.5 483.7" stroke-width="1.2" fill="none"/>
<path d="M1604.6 301.3L1604.6 320.1L1708.8 320.1" stroke-width="1.2" fill="none"/>
<circle cx="1619.9" cy="320.1" r="1.7" fill="#000" stroke="none"/>
<circle cx="1691.5" cy="320.1" r="1.7" fill="#000" stroke="none"/>
<circle cx="1708.8" cy="320.1" r="1.7" fill="#000" stroke="none"/>
<path d="M1619.9 320.1L1619.9 326.5" stroke-width="1.2" fill="none"/>
<path d="M1619.9 331.4L1619.9 341.8" stroke-width="1.2" fill="none"/>
<path d="M1630.6 341.8L1630.6 332.6L1669.5 332.6" stroke-width="1.2" fill="none"/>
<path d="M1617.4 328.9L1619.9 326.3L1622.5 328.9L1619.9 331.4Z" stroke-width="1.2" fill="none"/>
<circle cx="1669.5" cy="332.6" r="1.7" fill="#000" stroke="none"/>
<circle cx="1669.5" cy="341.4" r="1.7" fill="#000" stroke="none"/>
<path d="M1669.5 341.4L1833.1 341.4" stroke-width="1.2" fill="none"/>
<circle cx="1731.4" cy="341.4" r="1.7" fill="#000" stroke="none"/>
<circle cx="1816.4" cy="341.4" r="1.7" fill="#000" stroke="none"/>
<path d="M1620.7 360.2L1620.7 378.5L1528.6 378.5" stroke-width="1.2" fill="none"/>
<path d="M1666.1 367.1L1669.5 363.7L1672.9 367.1L1669.5 370.5Z" stroke-width="1.2" fill="none"/>
<path d="M1666.5 367.1h6" stroke-width="1" fill="#fff"/>
<path d="M1668.1 365.4H1670.9V369.0H1668.1Z" stroke-width="0" fill="#fff"/>
<path d="M1666.1 367.1L1669.5 363.7L1672.9 367.1L1669.5 370.5Z" stroke-width="1.2" fill="none"/>
<path d="M1691.5 270.8L1691.5 490.8" stroke-width="1.2" fill="none"/>
<path d="M1721.2 361.6H1740.6V380.3H1721.2Z" stroke-width="1.3" fill="none"/>
<path d="M1721.2 370.7L1725.5 370.7" stroke-width="1.2" fill="none"/>
<path d="M1736.8 370.7L1740.6 370.7" stroke-width="1.2" fill="none"/>
<path d="M1731.4 341.4L1731.4 353.4" stroke-width="1.2" fill="none"/>
<path d="M1731.4 353.4L1734.0 355.5L1729.0 357.6L1734.0 359.8L1731.4 361.6" stroke-width="1.2" fill="none"/>
<path d="M1721.2 354.1L1741.0 359.1" stroke-width="1.2" fill="none"/>
<path d="M1740.6 370.7L1755.2 370.7" stroke-width="1.2" fill="none"/>
<circle cx="1750.3" cy="370.7" r="1.7" fill="#000" stroke="none"/>
<path d="M1755.2 370.7L1755.2 409.3" stroke-width="2.2" fill="none"/>
<path d="M1755.2 409.3L1734.7 409.3L1734.7 417.1" stroke-width="1.2" fill="none"/>
<path d="M1734.7 423.9L1734.7 439.1" stroke-width="1.2" fill="none"/>
<path d="M1731.4 380.3L1731.4 389.5L1750.3 389.5L1750.3 370.7" stroke-width="2" fill="none" stroke-dasharray="5 2.6"/>
<path d="M1731.1 420.4L1734.7 416.9L1738.2 420.4L1734.7 423.9Z" stroke-width="1.2" fill="none"/>
<path d="M1778.6 379.6H1797.7V398.0H1778.6Z" stroke-width="1.3" fill="none"/>
<path d="M1778.6 383.1L1797.7 383.1" stroke-width="1.2" fill="none"/>
<path d="M1763.7 389.5L1778.6 389.5" stroke-width="1.2" fill="none"/>
<path d="M1797.7 389.5L1816.4 389.5" stroke-width="1.2" fill="none"/>
<circle cx="1770.8" cy="389.5" r="1.7" fill="#000" stroke="none"/>
<circle cx="1808.3" cy="389.5" r="1.7" fill="#000" stroke="none"/>
<path d="M1763.7 389.5L1763.7 418.3L1744.6 418.3L1744.6 490.8" stroke-width="1.2" fill="none"/>
<path d="M1816.4 341.4L1816.4 490.8" stroke-width="1.2" fill="none"/>
<path d="M1771.5 389.5L1771.5 370.7L1788.5 370.7L1788.5 379.6" stroke-width="1.2" fill="none" stroke-dasharray="5 2.6"/>
<path d="M1808.3 389.5L1808.3 412.2L1792.0 412.2L1792.0 398.0" stroke-width="1.2" fill="none" stroke-dasharray="5 2.6"/>
<path d="M1785.0 398.0L1785.0 400.1L1787.1 401.6L1782.8 403.3L1787.1 405.1L1785.0 406.5" stroke-width="1.2" fill="none"/>
<path d="M1774.3 401.3L1793.7 406.2" stroke-width="1.2" fill="none"/>
<path d="M1730.8 439.1H1768.4V457.1H1730.8Z" stroke-width="1.3" fill="none"/>
<path d="M1744.6 439.1L1744.6 457.1" stroke-width="1.2" fill="none"/>
<path d="M1749.3 439.1L1749.3 457.1" stroke-width="1.2" fill="none"/>
<path d="M1753.5 440.5L1759.5 456.1" stroke-width="1.2" fill="none"/>
<path d="M1734.7 439.1L1734.7 443.3" stroke-width="1.2" fill="none"/>
<path d="M1732.8 443.3L1736.5 443.3" stroke-width="1.2" fill="none"/>
<path d="M1762.3 439.1L1762.3 443.3" stroke-width="1.2" fill="none"/>
<path d="M1768.7 445.2H1782.1V450.4H1768.7Z" stroke-width="1.2" fill="none"/>
<path d="M1775.0 451.8L1777.9 444.1" stroke-width="1.1" fill="none"/>
<path d="M1777.2 451.8L1780.0 444.1" stroke-width="1.1" fill="none"/>
<path d="M1720.5 440.5a3 5 0 0 0 0 10" stroke-width="1.3" fill="none"/>
<path d="M1720.5 443.3L1730.8 443.3" stroke-width="1.2" fill="none"/>
<path d="M1720.5 447.2L1730.8 447.2" stroke-width="1.2" fill="none"/>
<path d="M1721.9 454.7L1723.0 456.4L1725.3 453.0L1727.5 456.4L1729.7 453.0L1730.8 454.7" stroke-width="1.2" fill="none"/>
<circle cx="1744.6" cy="465.3" r="1.7" fill="#000" stroke="none"/>
<circle cx="1801.7" cy="465.3" r="1.7" fill="#000" stroke="none"/>
<text transform="translate(1553.4,292.2) scale(0.781,1)" text-anchor="middle" font-size="12.88">C15</text>
<text transform="translate(1607.2,333.6) scale(0.781,1)" text-anchor="middle" font-size="12.88">C7</text>
<text transform="translate(1571.4,353.1) scale(0.781,1)" text-anchor="middle" font-size="12.88">C8</text>
<text transform="translate(1655.8,378.2) scale(0.781,1)" text-anchor="middle" font-size="12.88">C16</text>
<text transform="translate(1752.4,361.2) scale(0.781,1)" text-anchor="middle" font-size="12.88">C1</text>
<text transform="translate(1718.4,423.5) scale(0.781,1)" text-anchor="middle" font-size="12.88">C17</text>
<text transform="translate(1779.6,417.4) scale(0.781,1)" text-anchor="middle" font-size="12.88">C2</text>
<text transform="translate(1779.6,433.9) scale(0.781,1)" text-anchor="middle" font-size="12.88">C3</text>
<text transform="translate(1568.5,310.9) scale(0.749,1)" text-anchor="middle" font-size="9.27">TRAVEL MODE</text>
<text transform="translate(1568.5,319.7) scale(0.749,1)" text-anchor="middle" font-size="9.27">POWER MODE</text>
<text transform="translate(1569.0,365.4) scale(0.749,1)" text-anchor="middle" font-size="9.79">PILOT SUPPLY</text>
<text transform="translate(1568.0,373.9) scale(0.749,1)" text-anchor="middle" font-size="9.79">CUT-OFF</text>
<text transform="translate(1728.3,402.3) scale(0.781,1)" text-anchor="middle" font-size="11.85">33±2BAR</text>
<text transform="translate(1777.2,364.0) scale(0.781,1)" text-anchor="middle" font-size="11.85">13</text>
<text transform="translate(1786.7,357.6) scale(0.781,1)" text-anchor="middle" font-size="7.21">+1</text>
<text transform="translate(1788.9,366.4) scale(0.781,1)" text-anchor="middle" font-size="7.21">0</text>
<text transform="translate(1802.0,364.0) scale(0.781,1)" text-anchor="middle" font-size="11.85">BAR</text>
<text transform="translate(1711.3,436.7) scale(0.696,1)" text-anchor="middle" font-size="8.24">EMERGENCY</text>
<text transform="translate(1704.5,444.8) scale(0.696,1)" text-anchor="middle" font-size="8.24">PULL</text>
<path d="M1528.6 441.4L1615.4 441.4L1615.4 520.0L1528.6 520.0" stroke-width="1.2" fill="none"/>
<path d="M1580.3 453.5H1618.5V472.3H1580.3Z" stroke-width="1.3" fill="none"/>
<path d="M1599.4 453.5L1599.4 472.3" stroke-width="1.2" fill="none"/>
<path d="M1566.5 457.4H1579.9V463.4H1566.5Z" stroke-width="1.2" fill="none"/>
<path d="M1569.7 464.1L1572.5 456.3" stroke-width="1.1" fill="none"/>
<path d="M1571.8 464.1L1574.6 456.3" stroke-width="1.1" fill="none"/>
<path d="M1618.5 469.7L1619.5 471.4L1621.4 468.0L1623.4 471.4L1625.3 468.0L1626.3 469.7" stroke-width="1.2" fill="none"/>
<path d="M1583.8 471.6L1595.9 454.2" stroke-width="1.3" fill="none"/>
<path d="M1580.3 494.5H1618.5V513.4H1580.3Z" stroke-width="1.3" fill="none"/>
<path d="M1599.4 494.5L1599.4 513.4" stroke-width="1.2" fill="none"/>
<path d="M1566.5 498.5H1579.9V504.4H1566.5Z" stroke-width="1.2" fill="none"/>
<path d="M1569.7 505.2L1572.5 497.4" stroke-width="1.1" fill="none"/>
<path d="M1571.8 505.2L1574.6 497.4" stroke-width="1.1" fill="none"/>
<path d="M1618.5 510.8L1619.5 512.5L1621.4 509.1L1623.4 512.5L1625.3 509.1L1626.3 510.8" stroke-width="1.2" fill="none"/>
<path d="M1583.8 495.2L1595.9 512.7" stroke-width="1.3" fill="none"/>
<path d="M1580.3 531.8H1618.5V550.2H1580.3Z" stroke-width="1.3" fill="none"/>
<path d="M1599.4 531.8L1599.4 550.2" stroke-width="1.2" fill="none"/>
<path d="M1566.5 535.8H1579.9V541.7H1566.5Z" stroke-width="1.2" fill="none"/>
<path d="M1569.7 542.4L1572.5 534.6" stroke-width="1.1" fill="none"/>
<path d="M1571.8 542.4L1574.6 534.6" stroke-width="1.1" fill="none"/>
<path d="M1618.5 547.6L1619.5 549.3L1621.4 545.9L1623.4 549.3L1625.3 545.9L1626.3 547.6" stroke-width="1.2" fill="none"/>
<path d="M1583.8 532.5L1595.9 549.5" stroke-width="1.3" fill="none"/>
<path d="M1604.6 467.6L1604.6 499.5" stroke-width="1.1" fill="none"/>
<path d="M1595.4 467.6L1595.4 472.3" stroke-width="1.1" fill="none"/>
<path d="M1594.9 494.5L1594.9 499.5" stroke-width="1.1" fill="none"/>
<path d="M1584.5 544.8L1584.5 550.2" stroke-width="1.1" fill="none"/>
<path d="M1613.6 544.8L1613.6 550.2" stroke-width="1.1" fill="none"/>
<circle cx="1604.6" cy="486.7" r="1.7" fill="#000" stroke="none"/>
<path d="M1604.6 486.7L1635.5 486.7L1635.5 525.4L1603.7 525.4L1603.7 600.5" stroke-width="1.2" fill="none"/>
<circle cx="1614.7" cy="479.7" r="1.7" fill="#000" stroke="none"/>
<circle cx="1669.2" cy="479.7" r="1.7" fill="#000" stroke="none"/>
<path d="M1614.7 479.7L1720.5 479.7L1720.5 600.5" stroke-width="1.2" fill="none"/>
<circle cx="1691.5" cy="486.7" r="1.7" fill="#000" stroke="none"/>
<path d="M1691.5 486.7L1711.7 486.7L1711.7 537.7" stroke-width="1.2" fill="none"/>
<circle cx="1720.5" cy="530.2" r="1.7" fill="#000" stroke="none"/>
<path d="M1720.5 530.2L1773.3 530.2" stroke-width="1.2" fill="none"/>
<path d="M1773.3 530.2L1773.3 574.6" stroke-width="2.2" fill="none"/>
<path d="M1773.3 583.1L1773.3 600.5" stroke-width="2.2" fill="none"/>
<path d="M1706.8 537.7H1745.6V556.4H1706.8Z" stroke-width="1.3" fill="none"/>
<path d="M1726.2 537.7L1726.2 556.4" stroke-width="1.2" fill="none"/>
<path d="M1746.0 544.5H1759.3V550.2H1746.0Z" stroke-width="1.2" fill="none"/>
<path d="M1751.2 551.2L1754.1 543.4" stroke-width="1.1" fill="none"/>
<path d="M1753.4 551.2L1756.2 543.4" stroke-width="1.1" fill="none"/>
<path d="M1699.0 553.9L1700.0 555.6L1701.9 552.2L1703.8 555.6L1705.8 552.2L1706.8 553.9" stroke-width="1.2" fill="none"/>
<path d="M1729.7 538.4L1742.0 555.7" stroke-width="1.3" fill="none"/>
<path d="M1613.6 550.2L1613.6 562.1L1762.3 562.1L1762.3 574.6" stroke-width="1.2" fill="none"/>
<path d="M1760.2 575.3L1764.4 575.3" stroke-width="1.2" fill="none"/>
<path d="M1771.2 575.3L1775.5 575.3" stroke-width="1.2" fill="none"/>
<path d="M1771.2 582.4L1775.5 582.4" stroke-width="1.2" fill="none"/>
<circle cx="1691.5" cy="562.1" r="1.7" fill="#000" stroke="none"/>
<path d="M1756.3 569.6H1779.6V588.4H1756.3Z" stroke-width="1.3" fill="none"/>
<path d="M1770.3 597.5L1776.3 603.5M1770.3 603.5L1776.3 597.5" stroke-width="1" fill="none"/>
<path d="M1739.6 479.7H1777.6V498.4H1739.6Z" stroke-width="1.3" fill="none"/>
<path d="M1758.6 479.7L1758.6 498.4" stroke-width="1.2" fill="none"/>
<path d="M1778.0 486.5H1791.3V492.1H1778.0Z" stroke-width="1.2" fill="none"/>
<path d="M1783.3 493.1L1786.1 485.3" stroke-width="1.1" fill="none"/>
<path d="M1785.4 493.1L1788.2 485.3" stroke-width="1.1" fill="none"/>
<path d="M1731.8 495.8L1732.8 497.5L1734.8 494.1L1736.7 497.5L1738.7 494.1L1739.6 495.8" stroke-width="1.2" fill="none"/>
<path d="M1762.2 480.4L1774.1 497.6" stroke-width="1.3" fill="none"/>
<path d="M1762.2 497.6L1774.1 480.4" stroke-width="1.3" fill="none"/>
<path d="M1754.5 479.7L1754.5 498.4" stroke-width="1.2" fill="none"/>
<path d="M1816.4 439.3L1816.4 472.9L1754.5 472.9L1754.5 506.3L1875.6 506.3" stroke-width="1.2" fill="none"/>
<path d="M1744.6 439.3L1744.6 522.2L1855.8 522.2" stroke-width="1.2" fill="none"/>
<path d="M1822.3 462.2L1828.3 468.2M1822.3 468.2L1828.3 462.2" stroke-width="1" fill="none"/>
<path d="M1539.2 600.5L1579.6 600.5" stroke-width="1.2" fill="none"/>
<path d="M1792.0 600.5L1832.4 600.5" stroke-width="1.2" fill="none"/>
<path d="M1579.6 600.5L1792.0 600.5" stroke-width="1.2" fill="none" stroke-dasharray="11 6"/>
<text transform="translate(1554.8,466.9) scale(0.781,1)" text-anchor="middle" font-size="12.88">C10</text>
<text transform="translate(1554.4,497.4) scale(0.781,1)" text-anchor="middle" font-size="12.88">C11</text>
<text transform="translate(1554.8,539.2) scale(0.781,1)" text-anchor="middle" font-size="12.88">C12</text>
<text transform="translate(1762.3,540.3) scale(0.781,1)" text-anchor="middle" font-size="12.88">C5</text>
<text transform="translate(1801.7,498.4) scale(0.781,1)" text-anchor="middle" font-size="12.88">C4</text>
<text transform="translate(1789.5,580.9) scale(0.781,1)" text-anchor="middle" font-size="12.88">C6</text>
<text transform="translate(1556.9,448.8) scale(0.749,1)" text-anchor="middle" font-size="9.79">REVERSE</text>
<text transform="translate(1556.2,517.6) scale(0.749,1)" text-anchor="middle" font-size="9.79">FOWARD</text>
<text transform="translate(1582.1,560.4) scale(0.781,1)" text-anchor="middle" font-size="11.64">CRUISE</text>
<text transform="translate(1592.7,613.5) scale(0.781,1)" text-anchor="middle" font-size="12.88">TS</text>
<text transform="translate(1680.8,613.5) scale(0.781,1)" text-anchor="middle" font-size="12.88">TR</text>
<text transform="translate(1729.0,613.5) scale(0.781,1)" text-anchor="middle" font-size="12.88">CH</text>
<text transform="translate(1763.0,612.5) scale(0.781,1)" text-anchor="middle" font-size="12.88">SD</text>
<path d="M1404.9 508.1L1415.7 479.7" stroke-width="1.2" fill="none"/>
<path d="M1408.1 509.5L1419.0 481.1" stroke-width="1.2" fill="none"/>
<path d="M1404.9 508.1L1408.1 509.5" stroke-width="1.2" fill="none"/>
<path d="M1415.7 479.7L1419.0 481.1" stroke-width="1.2" fill="none"/>
<path d="M1427.1 482.4H1440.6V493.2H1427.1Z" stroke-width="1.2" fill="none"/>
<path d="M1419.0 485.7L1427.1 485.7" stroke-width="1.1" fill="none"/>
<path d="M1419.0 489.7L1427.1 489.7" stroke-width="1.1" fill="none"/>
<path d="M1432.0 482.4L1432.0 493.2" stroke-width="1.1" fill="none"/>
<path d="M1434.7 482.4L1434.7 493.2" stroke-width="1.1" fill="none"/>
<path d="M2023.3 262.9L1963.6 262.9L1963.6 502.7" stroke-width="1.2" fill="none"/>
<path d="M1504.3 441.2L1530.1 441.2" stroke-width="1.2" fill="none"/>
<polygon points="1501.6,441.2 1509.6,439.0 1509.6,443.4" fill="#000" stroke="none"/>
<text transform="translate(1507.0,452.6) scale(0.781,1)" text-anchor="middle" font-size="10.81">XBt</text>
<path d="M1875.6 506.0L1875.6 646.3L1805.7 646.3L1805.7 926.8L1507.6 926.8L1507.6 960.7" stroke-width="1.2" fill="none"/>
<path d="M1855.8 522.2L1855.8 629.5L1788.3 629.5L1788.3 910.0L1489.4 910.0L1489.4 960.7" stroke-width="1.2" fill="none"/>
<path d="M1941.4 498.6L1941.4 664.2L1666.9 664.2" stroke-width="1.2" fill="none"/>
<circle cx="1703.5" cy="664.2" r="1.7" fill="#000" stroke="none"/>
<path d="M1703.5 664.2L1703.5 742.0L1644.7 742.0L1644.7 960.7" stroke-width="1.2" fill="none"/>
<path d="M1720.6 600.3L1720.6 742.0L1770.7 742.0" stroke-width="1.2" fill="none"/>
<path d="M1770.7 742.0L1770.7 960.7" stroke-width="2" fill="none"/>
<path d="M1691.6 498.6L1691.6 672.1L1652.0 672.1" stroke-width="1.2" fill="none"/>
<path d="M1603.8 600.3L1603.8 668.0L1632.5 668.0" stroke-width="1.2" fill="none"/>
<circle cx="1624.4" cy="668.0" r="1.7" fill="#000" stroke="none"/>
<path d="M1963.6 498.6L1963.6 760.1" stroke-width="1.2" fill="none"/>
<circle cx="1963.6" cy="760.1" r="1.7" fill="#000" stroke="none"/>
<path d="M1432.5 827.9L1432.5 760.1L2023.3 760.1" stroke-width="1.2" fill="none"/>
<path d="M1492.9 778.6L1644.7 778.6" stroke-width="1.2" fill="none"/>
<circle cx="1552.3" cy="778.6" r="1.7" fill="#000" stroke="none"/>
<circle cx="1644.7" cy="778.6" r="1.7" fill="#000" stroke="none"/>
<path d="M1398.6 646.3L1552.3 646.3L1552.3 960.7" stroke-width="1.2" fill="none"/>
<path d="M1450.7 582.6L1470.5 582.6L1470.5 695.1L1569.6 695.1L1569.6 860.4L2023.3 860.4" stroke-width="1.2" fill="none"/>
<path d="M1398.6 629.5L1450.7 629.5L1450.7 712.2L1534.9 712.2" stroke-width="1.2" fill="none"/>
<path d="M1534.9 712.2L1534.9 854.4L1471.0 854.4" stroke-width="2.2" fill="none"/>
<path d="M1459.6 844.7L1471.0 854.4L1459.6 865.3" stroke-width="1.2" fill="none"/>
<path d="M1459.6 844.7L1459.6 865.3" stroke-width="1.2" fill="none" stroke-dasharray="5 2.6"/>
<path d="M2023.3 843.6L1822.7 843.6L1822.7 960.7" stroke-width="1.2" fill="none"/>
<path d="M2023.3 877.2L1839.5 877.2L1839.5 960.7" stroke-width="1.2" fill="none"/>
<path d="M1415.4 535.2H1434.4V555.6H1415.4Z" stroke-width="1.2" fill="none"/>
<text transform="translate(1424.9,550.4) scale(0.781,1)" text-anchor="middle" font-size="9.79">PTO</text>
<path d="M1423.8 555.6L1423.8 574.5" stroke-width="1.2" fill="none"/>
<path d="M1428.2 555.6L1428.2 574.5" stroke-width="1.2" fill="none"/>
<path d="M1404.6 567.7H1450.7V601.6H1404.6Z" stroke-width="1.2" fill="none"/>
<circle cx="1426.3" cy="582.6" r="8.129420372327452" fill="#fff" stroke-width="1.3"/>
<path d="M1404.6 582.6L1418.2 582.6" stroke-width="1.2" fill="none"/>
<path d="M1434.4 582.6L1450.7 582.6" stroke-width="1.2" fill="none"/>
<polygon points="1434.4,582.6 1430.3,580.5 1430.3,584.8" fill="#000" stroke-width="1"/>
<text transform="translate(1428.5,611.6) scale(0.781,1)" text-anchor="middle" font-size="11.33">14.0cc/rev</text>
<text transform="translate(1455.0,509.5) scale(0.781,1)" text-anchor="middle" font-size="11.64">SPEED LIMITER</text>
<text transform="translate(1442.8,523.0) scale(0.781,1)" text-anchor="middle" font-size="11.64">1850RPM</text>
<text transform="translate(1506.5,531.2) scale(0.781,1)" text-anchor="middle" font-size="10.81">XAt</text>
<polygon points="1504.3,520.3 1512.3,518.1 1512.3,522.5" fill="#000" stroke="none"/>
<path d="M1504.3 520.3L1538.7 520.3" stroke-width="1.2" fill="none"/>
<path d="M1615.4 637.7H1666.9V692.4H1615.4Z" stroke-width="1.2" fill="none"/>
<text transform="translate(1641.2,707.3) scale(0.781,1)" text-anchor="middle" font-size="11.64">MODULATION VALVE</text>
<path d="M1632.5 659.9H1651.5V677.5H1632.5Z" stroke-width="1.3" fill="none"/>
<path d="M1632.5 668.5L1651.5 663.9" stroke-width="1.2" fill="none"/>
<path d="M1646.1 672.1L1652.0 672.1" stroke-width="1.2" fill="none"/>
<path d="M1646.1 670.2L1646.1 674.0" stroke-width="1.2" fill="none"/>
<path d="M1656.1 640.9L1633.0 651.7" stroke-width="1.4" fill="none"/>
<path d="M1632.5 650.4L1635.2 653.1" stroke-width="1.4" fill="none"/>
<path d="M1638.5 651.7L1638.5 659.9" stroke-width="1.4" fill="none"/>
<path d="M1641.7 651.7L1641.7 659.9" stroke-width="1.4" fill="none"/>
<path d="M1646.6 651.7L1648.5 652.8L1644.7 654.8L1648.5 656.8L1644.7 658.9L1646.6 659.9" stroke-width="1" fill="none"/>
<path d="M1645.2 677.5L1647.1 678.5L1643.3 680.5L1647.1 682.6L1643.3 684.6L1645.2 685.6" stroke-width="1" fill="none"/>
<path d="M1624.4 668.0L1624.4 685.6L1638.5 685.6L1638.5 677.5" stroke-width="1.2" fill="none" stroke-dasharray="5 2.6"/>
<path d="M1622.2 668.0L1626.5 668.0" stroke-width="1.2" fill="none"/>
<text transform="translate(1611.4,678.8) scale(0.781,1)" text-anchor="middle" font-size="9.27">A</text>
<text transform="translate(1671.0,681.0) scale(0.781,1)" text-anchor="middle" font-size="9.27">P</text>
<text transform="translate(1670.4,658.5) scale(0.781,1)" text-anchor="middle" font-size="8.24" font-weight="bold">T</text>
<text transform="translate(1511.1,733.0) scale(0.781,1)" text-anchor="middle" font-size="11.64">1 BAR</text>
<path d="M1503.8 735.8H1518.4V749.8H1503.8Z" stroke-width="1.3" fill="none"/>
<path d="M1496.2 738.5L1526.5 738.5" stroke-width="1.2" fill="none"/>
<path d="M1504.9 747.9L1517.9 737.9" stroke-width="1.2" fill="none"/>
<path d="M1507.0 738.5L1508.1 739.8L1510.1 737.1L1512.1 739.8L1514.2 737.1L1515.2 738.5" stroke-width="1" fill="none"/>
<path d="M1511.1 749.8L1511.1 787.2" stroke-width="1.2" fill="none"/>
<circle cx="1511.1" cy="778.6" r="1.7" fill="#000" stroke="none"/>
<path d="M1481.8 771.5H1522.5V812.2H1481.8Z" stroke-width="1.2" fill="none"/>
<text transform="translate(1504.3,825.7) scale(0.781,1)" text-anchor="middle" font-size="11.64">1.5 BAR</text>
<path d="M1485.6 791.6L1492.9 784.3L1500.3 791.6L1492.9 798.9Z" stroke-width="1.2" fill="none"/>
<path d="M1492.9 784.5L1492.9 798.6" stroke-width="1.2" fill="none" stroke-dasharray="5 2.6"/>
<path d="M1492.9 778.6L1492.9 784.3" stroke-width="1.2" fill="none"/>
<path d="M1492.9 798.9L1492.9 804.9" stroke-width="1.2" fill="none"/>
<path d="M1511.1 796.7L1511.1 804.9L1444.7 804.9L1444.7 827.9" stroke-width="1.2" fill="none"/>
<circle cx="1492.9" cy="804.9" r="1.7" fill="#000" stroke="none"/>
<path d="M1506.2 787.2H1516.0V796.7H1506.2Z" stroke-width="1.3" fill="none"/>
<path d="M1511.1 784.5L1519.2 784.5L1519.2 792.1L1516.0 792.1" stroke-width="1.2" fill="none"/>
<path d="M1398.6 739.3L1481.8 739.3L1481.8 875.3L1398.6 875.3" stroke-width="1.2" fill="none"/>
<text transform="translate(1412.2,888.0) scale(0.781,1)" text-anchor="middle" font-size="11.64">TANK</text>
<path d="M1398.6 706.5L1414.4 706.5L1414.4 739.0" stroke-width="1.2" fill="none"/>
<path d="M1401.1 716.8L1405.4 712.4L1409.8 716.8L1405.4 721.1Z" stroke-width="1.1" fill="none"/>
<circle cx="1405.4" cy="729.0" r="1.8968647535430723" fill="none" stroke-width="1.1"/>
<path d="M1405.4 721.1L1405.4 727.1" stroke-width="1.1" fill="none"/>
<path d="M1405.4 730.9L1405.4 739.0" stroke-width="1.1" fill="none"/>
<path d="M982.1 494.6L982.1 599.4" stroke-width="1.2" fill="none" stroke-dasharray="11 6"/>
<path d="M1293.7 494.6L1293.7 599.4" stroke-width="1.2" fill="none" stroke-dasharray="11 6"/>
<path d="M982.1 599.4L1005.9 599.4" stroke-width="1.2" fill="none"/>
<path d="M1268.8 599.4L1293.7 599.4" stroke-width="1.2" fill="none"/>
<path d="M1005.9 599.4L1268.8 599.4" stroke-width="1.2" fill="none" stroke-dasharray="11 6"/>
<path d="M1076.4 525.7L1076.4 535.2L1079.7 535.2" stroke-width="1.2" fill="none"/>
<path d="M1198.3 535.2L1203.8 535.2L1203.8 525.7" stroke-width="1.2" fill="none"/>
<path d="M1061.5 526.3L1061.5 540.6" stroke-width="1.2" fill="none"/>
<path d="M1066.9 526.3L1066.9 540.6" stroke-width="1.2" fill="none"/>
<path d="M1209.2 526.3L1209.2 540.6" stroke-width="1.2" fill="none"/>
<path d="M1214.6 526.3L1214.6 540.6" stroke-width="1.2" fill="none"/>
<path d="M992.9 540.6H1231.4V548.8H992.9Z" stroke-width="1.2" fill="none"/>
<path d="M1042.5 540.6L1042.5 548.8" stroke-width="1.2" fill="none"/>
<path d="M1231.4 542.0L1322.5 542.0" stroke-width="1.2" fill="none"/>
<path d="M1231.4 546.6L1322.5 546.6" stroke-width="1.2" fill="none"/>
<path d="M1015.4 548.8L1015.4 555.0" stroke-width="1.2" fill="none"/>
<path d="M1020.0 548.8L1020.0 555.0" stroke-width="1.2" fill="none"/>
<path d="M1209.7 548.8L1209.7 555.0" stroke-width="1.2" fill="none"/>
<path d="M1214.1 548.8L1214.1 555.0" stroke-width="1.2" fill="none"/>
<circle cx="1017.6" cy="563.1" r="8.129420372327452" fill="none" stroke-width="1.3"/>
<polygon points="1009.5,563.1 1014.1,561.0 1014.1,565.3" fill="#000" stroke-width="1"/>
<circle cx="1211.9" cy="563.1" r="8.129420372327452" fill="none" stroke-width="1.3"/>
<polygon points="1203.8,563.1 1208.4,561.0 1208.4,565.3" fill="#000" stroke-width="1"/>
<path d="M922.5 494.6L922.5 563.1L1009.5 563.1" stroke-width="1.2" fill="none"/>
<path d="M1025.7 563.1L1046.6 563.1L1046.6 629.5L1400.2 629.5" stroke-width="1.2" fill="none"/>
<circle cx="1322.5" cy="629.5" r="1.7" fill="#000" stroke="none"/>
<path d="M1203.8 563.1L1142.8 563.1L1142.8 663.4L1305.4 663.4" stroke-width="1.2" fill="none"/>
<path d="M1305.4 494.6L1305.4 663.4" stroke-width="2.2" fill="none"/>
<path d="M1220.0 563.1L1229.5 563.1L1229.5 573.2" stroke-width="1.2" fill="none"/>
<path d="M1226.0 573.7L1233.6 573.7" stroke-width="1.2" fill="none"/>
<circle cx="1174.0" cy="563.1" r="1.7" fill="#000" stroke="none"/>
<path d="M1174.0 563.1L1174.0 680.2L1322.5 680.2L1322.5 582.6L1423.3 582.6" stroke-width="1.2" fill="none"/>
<path d="M1169.9 574.5H1179.4V588.1H1169.9Z" stroke-width="1.4" fill="none"/>
<path d="M1174.0 569.1L1163.1 569.1L1163.1 581.3L1169.9 581.3" stroke-width="1.2" fill="none" stroke-dasharray="5 2.6"/>
<path d="M1180.7 586.7L1183.4 578.0L1187.0 586.7L1190.2 578.0" stroke-width="1.1" fill="none"/>
<text transform="translate(974.2,558.8) scale(0.781,1)" text-anchor="middle" font-size="11.85">A3</text>
<text transform="translate(1037.7,612.5) scale(0.781,1)" text-anchor="middle" font-size="11.85">S3</text>
<text transform="translate(1075.6,613.8) scale(0.781,1)" text-anchor="middle" font-size="11.85">HA</text>
<text transform="translate(1114.3,613.3) scale(0.781,1)" text-anchor="middle" font-size="11.85">S</text>
<text transform="translate(1152.8,612.5) scale(0.781,1)" text-anchor="middle" font-size="11.85">PA</text>
<text transform="translate(1182.1,612.5) scale(0.781,1)" text-anchor="middle" font-size="11.85">T</text>
<text transform="translate(1018.1,581.3) scale(0.781,1)" text-anchor="middle" font-size="11.33">6.5cc/rev</text>
<text transform="translate(1016.8,593.5) scale(0.781,1)" text-anchor="middle" font-size="11.33">i=1.1026</text>
<text transform="translate(1225.4,588.1) scale(0.781,1)" text-anchor="middle" font-size="11.33">10.7cc/rev</text>
<text transform="translate(1159.0,596.7) scale(0.781,1)" text-anchor="middle" font-size="10.81">40bar</text>
<text transform="translate(1279.6,529.3) scale(0.781,1)" text-anchor="middle" font-size="11.33">(M1)</text>
<path d="M1070.7 595.9L1077.7 602.9M1070.7 602.9L1077.7 595.9" stroke-width="1.2" fill="none"/>
<path d="M1074.2 584.0L1074.2 599.4" stroke-width="1.2" fill="none"/>
<path d="M1121.7 584.0L1121.7 675.6" stroke-width="1.2" fill="none"/>
<path d="M1121.7 675.6L1153.6 675.6L1153.6 910.0" stroke-width="2" fill="none"/>
<path d="M1153.6 910.0L1389.4 910.0L1389.4 864.5" stroke-width="1.2" fill="none"/>
<path d="M1378.5 853.6L1400.2 853.6L1389.4 864.5Z" stroke-width="1.2" fill="none"/>
<path d="M1423.3 646.3L951.2 646.3L951.2 577.2L889.4 577.2L889.4 519.5L798.6 519.5" stroke-width="1.2" fill="none"/>
<path d="M809.5 498.6L809.5 550.9L853.4 550.9L853.4 659.3L815.7 659.3L815.7 614.4L798.6 614.4" stroke-width="1.2" fill="none"/>
<path d="M1322.5 500.0H1415.1V555.6H1322.5Z" stroke-width="1.2" fill="none"/>
<text transform="translate(1368.5,516.3) scale(0.781,1)" text-anchor="middle" font-size="11.64">DAEWOO DB58T</text>
<text transform="translate(1369.1,534.7) scale(0.781,1)" text-anchor="middle" font-size="11.64">134PS/2200RPM</text>
<text transform="translate(1370.4,549.3) scale(0.781,1)" text-anchor="middle" font-size="11.64">42Kgm/1600RPM</text>
<path d="M1415.1 535.2L1423.3 535.2" stroke-width="1.2" fill="none"/>
<path d="M798.6 690.5L1117.0 690.5L1117.0 960.7" stroke-width="1.2" fill="none"/>
<path d="M798.6 707.3L1099.4 707.3L1099.4 960.7" stroke-width="1.2" fill="none"/>
<path d="M798.6 753.9L884.5 753.9L884.5 960.7" stroke-width="1.2" fill="none"/>
<path d="M798.6 771.8L860.2 771.8L860.2 960.7" stroke-width="1.2" fill="none"/>
<path d="M798.6 804.3L832.0 804.3L832.0 960.7" stroke-width="1.2" fill="none" stroke-dasharray="11 6"/>
<path d="M928.2 915.1L928.2 731.7L1040.6 731.7L1040.6 915.1L928.2 915.1" stroke-width="1.2" fill="none" stroke-dasharray="11 6"/>
<text transform="translate(987.8,726.8) scale(0.781,1)" text-anchor="middle" font-size="11.64">SWING MOTOR</text>
<path d="M1056.1 762.3L1056.1 714.1L1093.2 714.1L1093.2 802.1" stroke-width="1.2" fill="none"/>
<polygon points="1093.2,802.1 1091.0,794.1 1095.4,794.1" fill="#000" stroke="none"/>
<text transform="translate(1065.6,726.8) scale(0.781,1)" text-anchor="middle" font-size="11.85">SH</text>
<path d="M1040.6 731.7L1081.3 731.7L1081.3 834.7L1040.6 834.7" stroke-width="1.2" fill="none"/>
<path d="M1049.3 762.3H1063.4V792.1H1049.3Z" stroke-width="1.3" fill="none"/>
<path d="M1049.3 776.9L1063.4 776.9" stroke-width="1.1" fill="none"/>
<path d="M1050.7 789.9L1062.3 779.1" stroke-width="1.1" fill="none"/>
<path d="M1052.0 766.9L1056.1 766.9" stroke-width="1.1" fill="none"/>
<path d="M1056.3 792.1L1058.2 793.6L1054.5 796.6L1056.3 798.1" stroke-width="1" fill="none"/>
<path d="M962.6 788.6L962.6 780.5L1093.2 780.5" stroke-width="1.2" fill="none"/>
<circle cx="1093.2" cy="780.5" r="1.7" fill="#000" stroke="none"/>
<path d="M1063.4 788.6L1075.0 788.6L1075.0 823.3L1057.4 823.3" stroke-width="1.2" fill="none"/>
<path d="M1053.9 819.8L1060.9 826.8M1053.9 826.8L1060.9 819.8" stroke-width="1.2" fill="none"/>
<text transform="translate(1087.2,774.2) scale(0.781,1)" text-anchor="middle" font-size="11.85">PG</text>
<text transform="translate(1093.2,813.8) scale(0.781,1)" text-anchor="middle" font-size="11.85">PS</text>
<path d="M1083.2 833.8L1091.3 821.1L1099.4 833.8Z" stroke-width="1" fill="none"/>
<text transform="translate(1091.3,833.3) scale(0.781,1)" text-anchor="middle" font-size="8.24">G</text>
<path d="M941.5 788.6H965.3V802.1H941.5Z" stroke-width="1.2" fill="none"/>
<path d="M955.0 788.6L955.0 802.1" stroke-width="1.1" fill="none"/>
<path d="M942.8 790.5L945.5 800.2L948.5 790.5L951.2 800.2L953.9 790.5" stroke-width="1.1" fill="none"/>
<path d="M965.3 795.4L981.6 795.4" stroke-width="1.2" fill="none"/>
<path d="M981.6 791.3L981.6 799.4" stroke-width="1.2" fill="none"/>
<path d="M985.6 791.3L985.6 799.4" stroke-width="1.2" fill="none"/>
<path d="M956.6 747.9L956.6 737.7L1011.4 737.7L1011.4 747.9" stroke-width="1.1" fill="none"/>
<path d="M944.4 747.9L968.5 747.9" stroke-width="1.1" fill="none"/>
<path d="M971.3 747.9L996.5 747.9" stroke-width="1.1" fill="none"/>
<path d="M999.2 747.9L1023.6 747.9" stroke-width="1.1" fill="none"/>
<path d="M944.4 744.4L944.4 751.5" stroke-width="1.1" fill="none"/>
<path d="M1023.6 744.4L1023.6 751.5" stroke-width="1.1" fill="none"/>
<path d="M968.5 744.4L968.5 751.5" stroke-width="1.1" fill="none"/>
<path d="M971.3 744.4L971.3 751.5" stroke-width="1.1" fill="none"/>
<path d="M996.5 744.4L996.5 751.5" stroke-width="1.1" fill="none"/>
<path d="M999.2 744.4L999.2 751.5" stroke-width="1.1" fill="none"/>
<path d="M956.6 767.7L956.6 757.4L1011.4 757.4L1011.4 767.7" stroke-width="1.1" fill="none"/>
<path d="M944.4 767.7L968.5 767.7" stroke-width="1.1" fill="none"/>
<path d="M971.3 767.7L996.5 767.7" stroke-width="1.1" fill="none"/>
<path d="M999.2 767.7L1023.6 767.7" stroke-width="1.1" fill="none"/>
<path d="M944.4 764.2L944.4 771.3" stroke-width="1.1" fill="none"/>
<path d="M1023.6 764.2L1023.6 771.3" stroke-width="1.1" fill="none"/>
<path d="M968.5 764.2L968.5 771.3" stroke-width="1.1" fill="none"/>
<path d="M971.3 764.2L971.3 771.3" stroke-width="1.1" fill="none"/>
<path d="M996.5 764.2L996.5 771.3" stroke-width="1.1" fill="none"/>
<path d="M999.2 764.2L999.2 771.3" stroke-width="1.1" fill="none"/>
<path d="M983.7 747.9L983.7 810.8" stroke-width="1.2" fill="none"/>
<circle cx="983.7" cy="829.2" r="18.42668617727556" fill="none" stroke-width="1.4"/>
<polygon points="965.3,829.2 973.4,822.5 973.4,836.0" fill="#000" stroke-width="1"/>
<polygon points="1002.2,829.2 994.0,822.5 994.0,836.0" fill="#000" stroke-width="1"/>
<path d="M901.6 960.7L901.6 815.2L928.2 815.2" stroke-width="1.2" fill="none"/>
<path d="M928.2 815.2L948.2 815.2" stroke-width="1.2" fill="none" stroke-dasharray="5 2.6"/>
<path d="M948.2 802.1L948.2 815.2" stroke-width="1.2" fill="none" stroke-dasharray="5 2.6"/>
<path d="M948.2 807.0L1022.2 807.0L1022.2 823.3L1052.0 823.3" stroke-width="1.2" fill="none" stroke-dasharray="5 2.6"/>
<circle cx="948.2" cy="807.0" r="1.7" fill="#000" stroke="none"/>
<circle cx="948.2" cy="815.2" r="1.7" fill="#000" stroke="none"/>
<path d="M965.3 829.2L944.4 829.2L944.4 928.7L982.1 928.7" stroke-width="1.2" fill="none"/>
<path d="M1002.2 829.2L1023.6 829.2L1023.6 960.7" stroke-width="1.2" fill="none"/>
<path d="M944.4 928.7L944.4 928.7" stroke-width="1.2" fill="none"/>
<path d="M944.4 867.2L958.0 867.2" stroke-width="1.2" fill="none"/>
<path d="M972.1 867.2L995.6 867.2" stroke-width="1.2" fill="none"/>
<path d="M1010.0 867.2L1023.6 867.2" stroke-width="1.2" fill="none"/>
<path d="M944.4 889.4L967.5 889.4" stroke-width="1.2" fill="none"/>
<path d="M974.0 889.4L993.2 889.4" stroke-width="1.2" fill="none"/>
<path d="M999.7 889.4L1023.6 889.4" stroke-width="1.2" fill="none"/>
<path d="M983.7 847.7L983.7 960.7" stroke-width="1.2" fill="none"/>
<path d="M985.6 928.7L1023.6 928.7" stroke-width="1.2" fill="none"/>
<circle cx="944.4" cy="867.2" r="1.7" fill="#000" stroke="none"/>
<circle cx="983.7" cy="867.2" r="1.7" fill="#000" stroke="none"/>
<circle cx="1023.6" cy="867.2" r="1.7" fill="#000" stroke="none"/>
<circle cx="944.4" cy="889.4" r="1.7" fill="#000" stroke="none"/>
<circle cx="983.7" cy="889.4" r="1.7" fill="#000" stroke="none"/>
<circle cx="1023.6" cy="889.4" r="1.7" fill="#000" stroke="none"/>
<circle cx="1015.4" cy="867.2" r="1.7" fill="#000" stroke="none"/>
<circle cx="953.1" cy="867.2" r="1.7" fill="#000" stroke="none"/>
<path d="M958.0 860.4H972.1V874.0H958.0Z" stroke-width="1.3" fill="none"/>
<path d="M995.6 860.4H1010.0V874.0H995.6Z" stroke-width="1.3" fill="none"/>
<path d="M958.0 862.6L972.1 862.6" stroke-width="1.8" fill="none"/>
<path d="M995.6 862.6L1010.0 862.6" stroke-width="1.8" fill="none"/>
<path d="M965.3 874.0L967.2 875.4L963.4 878.4L965.3 879.9" stroke-width="1" fill="none"/>
<path d="M1002.7 874.0L1004.6 875.4L1000.8 878.4L1002.7 879.9" stroke-width="1" fill="none"/>
<path d="M953.1 867.2L953.1 854.4L965.3 854.4L965.3 860.4" stroke-width="1.2" fill="none" stroke-dasharray="5 2.6"/>
<path d="M1015.4 867.2L1015.4 854.4L1002.7 854.4L1002.7 860.4" stroke-width="1.2" fill="none" stroke-dasharray="5 2.6"/>
<circle cx="970.7" cy="889.4" r="3.251768148930981" fill="none" stroke-width="1.2"/>
<circle cx="996.5" cy="889.4" r="3.251768148930981" fill="none" stroke-width="1.2"/>
<text transform="translate(984.3,862.3) scale(0.781,1)" text-anchor="middle" font-size="11.33">255</text>
<text transform="translate(992.9,856.3) scale(0.781,1)" text-anchor="middle" font-size="8.24">k</text>
<text transform="translate(919.2,828.4) scale(0.781,1)" text-anchor="middle" font-size="10.3">DB</text>
<text transform="translate(927.9,930.3) scale(0.781,1)" text-anchor="middle" font-size="10.81">A(LH)</text>
<text transform="translate(975.6,924.9) scale(0.781,1)" text-anchor="middle" font-size="11.85">C</text>
<text transform="translate(1037.1,928.7) scale(0.781,1)" text-anchor="middle" font-size="10.81">B(RH)</text>
<path d="M1169.3 785.3H1216.5V816.2H1169.3Z" stroke-width="1.2" fill="none"/>
<text transform="translate(1193.5,832.8) scale(0.781,1)" text-anchor="middle" font-size="11.85">3 BAR</text>
<path d="M1132.0 943.9L1132.0 800.8L1169.3 800.8" stroke-width="1.2" fill="none"/>
<path d="M1169.3 800.8L1184.3 800.8" stroke-width="1.2" fill="none"/>
<path d="M1192.9 800.8L1243.6 800.8" stroke-width="1.2" fill="none"/>
<path d="M1136.8 788.6L1136.8 800.8" stroke-width="1.2" fill="none"/>
<circle cx="1136.8" cy="800.8" r="1.7" fill="#000" stroke="none"/>
<path d="M1133.8 784.2L1139.8 790.2M1133.8 790.2L1139.8 784.2" stroke-width="1.2" fill="none"/>
<circle cx="1229.5" cy="800.8" r="1.7" fill="#000" stroke="none"/>
<circle cx="1189.4" cy="800.8" r="3.7937295070861445" fill="none" stroke-width="1.2"/>
<path d="M1184.3 800.8L1188.0 796.7" stroke-width="1.2" fill="none"/>
<path d="M1184.3 800.8L1188.0 804.9" stroke-width="1.2" fill="none"/>
<path d="M1194.3 800.8L1195.5 802.1L1197.8 799.4L1200.2 802.1L1202.6 799.4L1203.8 800.8" stroke-width="1" fill="none"/>
<path d="M1243.6 779.7H1283.7V822.5H1243.6Z" stroke-width="1.2" fill="none"/>
<path d="M1248.5 800.8L1263.4 785.9L1278.3 800.8L1263.4 815.7Z" stroke-width="1.3" fill="none"/>
<path d="M1263.4 787.8L1263.4 814.3" stroke-width="1.3" fill="none"/>
<polygon points="1263.4,786.7 1261.4,791.7 1265.4,791.7" fill="#000" stroke="none"/>
<polygon points="1263.4,815.4 1261.4,810.4 1265.4,810.4" fill="#000" stroke="none"/>
<path d="M1283.7 800.8L1298.1 800.8" stroke-width="1.2" fill="none"/>
<path d="M1229.5 800.8L1229.5 846.9L1248.5 846.9" stroke-width="1.2" fill="none"/>
<path d="M1278.3 846.9L1298.1 846.9" stroke-width="1.2" fill="none"/>
<path d="M1298.1 758.8L1298.1 943.9" stroke-width="1.2" fill="none"/>
<path d="M1298.1 758.8L1354.7 758.8L1354.7 770.4" stroke-width="1.2" fill="none"/>
<path d="M1298.1 800.8L1310.8 800.8" stroke-width="1.2" fill="none"/>
<circle cx="1298.1" cy="800.8" r="1.7" fill="#000" stroke="none"/>
<circle cx="1298.1" cy="846.9" r="1.7" fill="#000" stroke="none"/>
<path d="M1248.5 832.8H1278.3V861.8H1248.5Z" stroke-width="1.2" fill="none"/>
<path d="M1258.5 840.9H1271.5V853.1H1258.5Z" stroke-width="1.3" fill="none"/>
<text transform="translate(1263.9,874.8) scale(0.781,1)" text-anchor="middle" font-size="11.85">1.5 BAR</text>
<circle cx="1254.7" cy="846.9" r="1.7" fill="#000" stroke="none"/>
<path d="M1254.7 846.9L1254.7 858.2L1264.7 858.2L1264.7 853.1" stroke-width="1.2" fill="none" stroke-dasharray="5 2.6"/>
<path d="M1248.5 846.9L1258.5 846.9" stroke-width="1.2" fill="none"/>
<path d="M1271.5 846.9L1278.3 846.9" stroke-width="1.2" fill="none"/>
<path d="M1423.3 739.3L1310.8 739.3L1310.8 875.3L1423.3 875.3" stroke-width="1.2" fill="none"/>
<path d="M1318.1 776.9L1328.4 766.6L1338.7 776.9L1328.4 787.2Z" stroke-width="1.2" fill="none"/>
<path d="M1318.1 776.9L1338.7 776.9" stroke-width="1.2" fill="none" stroke-dasharray="5 2.6"/>
<path d="M1328.4 758.8L1328.4 766.6" stroke-width="1.2" fill="none"/>
<path d="M1328.4 787.2L1328.4 827.9" stroke-width="1.2" fill="none"/>
<path d="M1328.4 795.4L1354.7 795.4L1354.7 783.2" stroke-width="1.2" fill="none"/>
<circle cx="1328.4" cy="758.8" r="1.7" fill="#000" stroke="none"/>
<circle cx="1328.4" cy="795.4" r="1.7" fill="#000" stroke="none"/>
<circle cx="1354.7" cy="766.9" r="1.7" fill="#000" stroke="none"/>
<path d="M1348.7 770.4H1360.9V783.2H1348.7Z" stroke-width="1.3" fill="none"/>
<path d="M1354.7 766.9L1366.3 766.9L1366.3 776.9L1360.9 776.9" stroke-width="1.2" fill="none" stroke-dasharray="5 2.6"/>
<path d="M1373.9 739.8L1373.9 813.0L1310.8 813.0" stroke-width="2" fill="none" stroke-dasharray="12 3 3 3"/>
<path d="M1383.4 706.5H1414.3V739.3H1383.4Z" stroke-width="1.2" fill="none"/>
<text transform="translate(1364.2,725.5) scale(0.781,1)" text-anchor="middle" font-size="11.64">0.5BAR</text>
<path d="M1401.3 716.8L1405.6 712.4L1410.0 716.8L1405.6 721.1Z" stroke-width="1.1" fill="none"/>
<path d="M1391.3 706.5L1391.3 730.3" stroke-width="1.1" fill="none"/>
<path d="M1405.6 706.5L1405.6 712.4" stroke-width="1.1" fill="none"/>
<path d="M1405.6 721.1L1405.6 727.6" stroke-width="1.1" fill="none"/>
<circle cx="1391.3" cy="732.5" r="1.6258840744654905" fill="none" stroke-width="1.1"/>
<circle cx="1405.6" cy="729.8" r="1.6258840744654905" fill="none" stroke-width="1.1"/>
<path d="M227.1 498.6L227.1 699.7L450.1 699.7L450.1 804.9" stroke-width="1.2" fill="none"/>
<path d="M325.5 498.6L325.5 519.0L600.5 519.0" stroke-width="1.2" fill="none"/>
<path d="M606.5 519.0L823.3 519.0" stroke-width="1.2" fill="none"/>
<circle cx="353.1" cy="519.0" r="1.7" fill="#000" stroke="none"/>
<circle cx="672.9" cy="519.0" r="1.7" fill="#000" stroke="none"/>
<path d="M823.3 504.9L525.2 504.9L525.2 590.2L486.7 590.2" stroke-width="1.2" fill="none"/>
<circle cx="565.8" cy="504.9" r="1.7" fill="#000" stroke="none"/>
<circle cx="686.4" cy="504.9" r="1.7" fill="#000" stroke="none"/>
<path d="M353.1 519.0L353.1 558.3L486.7 558.3L486.7 578.6L477.8 578.6" stroke-width="1.2" fill="none"/>
<circle cx="429.0" cy="558.3" r="1.7" fill="#000" stroke="none"/>
<circle cx="486.7" cy="590.2" r="1.7" fill="#000" stroke="none"/>
<path d="M376.4 625.2L376.4 543.4L499.4 543.4L499.4 625.2" stroke-width="1.2" fill="none" stroke-dasharray="12 5"/>
<path d="M376.4 625.2L430.3 625.2" stroke-width="2.2" fill="none"/>
<path d="M460.1 625.2L499.4 625.2" stroke-width="2.2" fill="none"/>
<path d="M403.2 575.3H422.7V594.3H403.2Z" stroke-width="1.3" fill="none"/>
<path d="M403.2 584.8L422.7 579.9" stroke-width="1.2" fill="none"/>
<path d="M419.5 590.2L422.7 590.2" stroke-width="1.2" fill="none"/>
<path d="M409.2 565.8H418.1V574.5H409.2Z" stroke-width="1.1" fill="none"/>
<path d="M409.2 565.8L418.1 574.5" stroke-width="1.1" fill="none"/>
<path d="M409.2 574.5L418.1 565.8" stroke-width="1.1" fill="none"/>
<path d="M403.2 563.7L415.4 571.8" stroke-width="1.1" fill="none"/>
<path d="M398.4 584.8L398.4 598.9L412.7 598.9L412.7 594.3" stroke-width="1.2" fill="none" stroke-dasharray="5 2.6"/>
<circle cx="398.4" cy="584.8" r="1.7" fill="#000" stroke="none"/>
<path d="M458.8 575.3H478.3V594.3H458.8Z" stroke-width="1.3" fill="none"/>
<path d="M458.8 584.8L478.3 579.9" stroke-width="1.2" fill="none"/>
<path d="M475.0 590.2L478.3 590.2" stroke-width="1.2" fill="none"/>
<path d="M464.7 565.8H473.7V574.5H464.7Z" stroke-width="1.1" fill="none"/>
<path d="M464.7 565.8L473.7 574.5" stroke-width="1.1" fill="none"/>
<path d="M464.7 574.5L473.7 565.8" stroke-width="1.1" fill="none"/>
<path d="M458.8 563.7L471.0 571.8" stroke-width="1.1" fill="none"/>
<path d="M453.9 584.8L453.9 598.9L468.3 598.9L468.3 594.3" stroke-width="1.2" fill="none" stroke-dasharray="5 2.6"/>
<circle cx="453.9" cy="584.8" r="1.7" fill="#000" stroke="none"/>
<path d="M392.4 584.8L403.2 584.8" stroke-width="1.2" fill="none"/>
<path d="M392.4 584.8L392.4 669.4" stroke-width="1.2" fill="none"/>
<path d="M446.6 584.8L458.8 584.8" stroke-width="1.2" fill="none"/>
<polygon points="392.4,669.4 390.2,661.4 394.6,661.4" fill="#000" stroke="none"/>
<path d="M429.0 558.3L429.0 608.4L485.9 608.4L485.9 590.2" stroke-width="2.2" fill="none"/>
<path d="M446.6 584.8L446.6 608.4" stroke-width="2.2" fill="none"/>
<path d="M422.7 590.2L429.0 590.2" stroke-width="2.2" fill="none"/>
<path d="M446.6 608.4L446.6 669.4" stroke-width="2.2" fill="none"/>
<polygon points="446.6,669.4 444.0,661.4 449.2,661.4" fill="#000" stroke="none"/>
<path d="M422.7 579.9L429.0 579.9" stroke-width="1.2" fill="none"/>
<path d="M477.8 579.9L486.7 579.9" stroke-width="1.2" fill="none"/>
<path d="M446.6 648.5L473.7 648.5" stroke-width="1.2" fill="none"/>
<path d="M473.8 644.5L481.8 652.5M473.8 652.5L481.8 644.5" stroke-width="1.3" fill="none"/>
<circle cx="446.6" cy="648.5" r="1.7" fill="#000" stroke="none"/>
<circle cx="446.6" cy="608.4" r="1.7" fill="#000" stroke="none"/>
<path d="M477.8 590.2L486.7 590.2" stroke-width="1.2" fill="none"/>
<text transform="translate(368.0,572.6) scale(0.781,1)" text-anchor="middle" font-size="11.85">T</text>
<text transform="translate(508.4,588.9) scale(0.781,1)" text-anchor="middle" font-size="11.85">P</text>
<text transform="translate(400.5,636.8) scale(0.781,1)" text-anchor="middle" font-size="11.85">A2</text>
<text transform="translate(454.2,637.7) scale(0.781,1)" text-anchor="middle" font-size="11.85">A1</text>
<text transform="translate(394.6,681.6) scale(0.781,1)" text-anchor="middle" font-size="11.85">Pbp</text>
<text transform="translate(444.7,681.6) scale(0.781,1)" text-anchor="middle" font-size="11.85">Psp</text>
<text transform="translate(767.7,567.7) scale(0.781,1)" text-anchor="middle" font-size="11.64">BREAKER VALVE</text>
<path d="M823.3 570.5L714.3 570.5L714.3 634.7L823.3 634.7" stroke-width="1.2" fill="none" stroke-dasharray="11 6"/>
<path d="M686.4 504.9L686.4 582.1L728.4 582.1" stroke-width="1.2" fill="none"/>
<path d="M672.9 519.0L672.9 591.3L823.3 591.3" stroke-width="1.2" fill="none"/>
<circle cx="722.5" cy="591.3" r="1.7" fill="#000" stroke="none"/>
<circle cx="756.9" cy="591.3" r="1.7" fill="#000" stroke="none"/>
<circle cx="784.8" cy="591.3" r="1.7" fill="#000" stroke="none"/>
<circle cx="802.1" cy="591.3" r="1.7" fill="#000" stroke="none"/>
<path d="M728.4 578.6H746.0V612.5H728.4Z" stroke-width="1.3" fill="none"/>
<path d="M728.4 591.3L746.0 591.3" stroke-width="1.1" fill="none"/>
<path d="M728.4 602.4L746.0 602.4" stroke-width="1.1" fill="none"/>
<path d="M729.8 611.1L744.7 603.5" stroke-width="1.1" fill="none"/>
<path d="M733.3 579.9L733.3 584.5" stroke-width="1.1" fill="none"/>
<path d="M730.6 582.1L736.0 582.1" stroke-width="1.1" fill="none"/>
<path d="M733.3 613.3H741.4V621.4H733.3Z" stroke-width="1.2" fill="none"/>
<path d="M733.3 621.4L741.4 613.3" stroke-width="1.1" fill="none"/>
<path d="M767.7 584.8H779.9V597.0H767.7Z" stroke-width="1.3" fill="none"/>
<path d="M784.8 591.3L784.8 579.9L773.9 579.9L773.9 584.8" stroke-width="1.2" fill="none" stroke-dasharray="5 2.6"/>
<path d="M722.5 591.3L722.5 626.0L769.1 626.0L769.1 597.6" stroke-width="1.2" fill="none" stroke-dasharray="5 2.6"/>
<path d="M773.9 597.0L775.8 599.7L772.3 601.6L776.6 604.3" stroke-width="1.1" fill="none"/>
<path d="M767.7 598.9L782.6 607.0" stroke-width="1.1" fill="none"/>
<path d="M756.9 591.3L756.9 663.4" stroke-width="1.2" fill="none"/>
<path d="M802.1 591.3L802.1 610.6" stroke-width="1.2" fill="none"/>
<path d="M802.1 619.8L802.1 677.5" stroke-width="1.2" fill="none"/>
<polygon points="756.9,663.4 754.7,655.4 759.1,655.4" fill="#000" stroke="none"/>
<polygon points="802.1,677.5 799.9,669.5 804.3,669.5" fill="#000" stroke="none"/>
<circle cx="802.1" cy="615.2" r="3.251768148930981" fill="none" stroke-width="1.2"/>
<path d="M797.5 610.6L802.1 607.0L807.0 610.6" stroke-width="1.1" fill="none"/>
<path d="M797.5 619.8L802.1 623.3L807.0 619.8" stroke-width="1.1" fill="none"/>
<path d="M805.4 615.2L815.1 615.2L815.1 658.5L823.3 658.5" stroke-width="1.2" fill="none"/>
<text transform="translate(708.1,579.1) scale(0.781,1)" text-anchor="middle" font-size="11.85">P</text>
<text transform="translate(708.1,603.5) scale(0.781,1)" text-anchor="middle" font-size="11.85">T</text>
<text transform="translate(765.0,646.9) scale(0.781,1)" text-anchor="middle" font-size="11.85">C1</text>
<text transform="translate(794.0,646.9) scale(0.781,1)" text-anchor="middle" font-size="11.85">C3</text>
<text transform="translate(771.2,662.6) scale(0.781,1)" text-anchor="middle" font-size="11.33">XBo</text>
<text transform="translate(793.4,674.0) scale(0.781,1)" text-anchor="middle" font-size="11.33">Fr</text>
<path d="M809.7 498.6L809.7 550.9L823.3 550.9" stroke-width="1.2" fill="none"/>
<path d="M510.3 666.7H526.5V685.6H510.3Z" stroke-width="1.3" fill="none"/>
<path d="M511.6 668.0L525.2 684.3" stroke-width="1.2" fill="none"/>
<path d="M523.0 669.4L524.4 670.4L521.7 672.4L524.4 674.4L521.7 676.5L524.4 678.5L521.7 680.5L523.0 681.6" stroke-width="1" fill="none"/>
<path d="M522.5 685.6L522.5 692.9" stroke-width="1.1" fill="none"/>
<path d="M510.3 675.6L473.1 675.6L473.1 804.9" stroke-width="1.2" fill="none"/>
<path d="M522.5 666.7L522.5 652.6L532.0 652.6" stroke-width="1.2" fill="none"/>
<path d="M532.0 650.4L532.0 654.7L534.1 652.6Z" stroke-width="1" fill="none"/>
<text transform="translate(547.7,681.6) scale(0.781,1)" text-anchor="middle" font-size="11.64">19 BAR</text>
<text transform="translate(528.7,705.9) scale(0.781,1)" text-anchor="middle" font-size="11.64">AUTO IDLE</text>
<path d="M823.3 690.5L619.5 690.5L619.5 714.6L227.1 714.6L227.1 934.4" stroke-width="1.2" fill="none"/>
<path d="M823.3 707.3L636.8 707.3L636.8 731.7L244.2 731.7L244.2 920.6" stroke-width="1.2" fill="none"/>
<path d="M823.3 753.9L287.5 753.9L287.5 825.2" stroke-width="1.2" fill="none"/>
<path d="M823.3 771.8L473.1 771.8" stroke-width="1.2" fill="none"/>
<circle cx="473.1" cy="771.8" r="1.7" fill="#000" stroke="none"/>
<circle cx="473.1" cy="783.2" r="1.7" fill="#000" stroke="none"/>
<path d="M473.1 783.2L507.6 783.2" stroke-width="1.2" fill="none"/>
<path d="M507.3 780.2L513.3 786.2M507.3 786.2L513.3 780.2" stroke-width="1" fill="none"/>
<text transform="translate(528.7,785.9) scale(0.781,1)" text-anchor="middle" font-size="11.85">SH</text>
<path d="M519.8 780.7L537.4 780.7" stroke-width="0.8" fill="none"/>
<path d="M519.8 782.9L537.4 782.9" stroke-width="0.8" fill="none"/>
<path d="M539.5 793.5L547.7 780.5L555.8 793.5Z" stroke-width="1" fill="none"/>
<text transform="translate(547.7,792.7) scale(0.781,1)" text-anchor="middle" font-size="8.24">G</text>
<path d="M364.8 766.9H383.5V783.2H364.8Z" stroke-width="1.3" fill="none"/>
<path d="M365.8 781.8L382.1 768.8" stroke-width="1.2" fill="none"/>
<path d="M368.5 770.4L369.8 771.8L372.4 769.1L375.0 771.8L377.6 769.1L378.8 770.4" stroke-width="1" fill="none"/>
<path d="M383.5 770.4L391.9 770.4" stroke-width="1.1" fill="none"/>
<path d="M351.7 761.5L351.7 770.4L364.8 770.4" stroke-width="1.2" fill="none"/>
<path d="M348.5 761.5L355.0 761.5" stroke-width="1.2" fill="none"/>
<path d="M374.2 783.2L374.2 788.1L434.4 788.1L434.4 804.9" stroke-width="1.2" fill="none"/>
<text transform="translate(341.7,782.6) scale(0.781,1)" text-anchor="middle" font-size="11.64">19 BAR</text>
<text transform="translate(405.9,767.7) scale(0.781,1)" text-anchor="middle" font-size="11.85">A1</text>
<text transform="translate(699.4,766.9) scale(0.781,1)" text-anchor="middle" font-size="11.85">A2</text>
<text transform="translate(456.9,785.3) scale(0.781,1)" text-anchor="middle" font-size="11.85">Pg</text>
<text transform="translate(739.8,787.2) scale(0.781,1)" text-anchor="middle" font-size="11.85">PL</text>
<path d="M767.7 804.9L767.7 784.0L751.4 784.0" stroke-width="1.2" fill="none"/>
<polygon points="748.7,784.0 756.7,781.8 756.7,786.2" fill="#000" stroke="none"/>
<path d="M824.6 570.5V634.7" stroke-width="1.2" fill="none" stroke-dasharray="11 4"/>
<path d="M821.6 588.0L827.6 594.0M821.6 594.0L827.6 588.0" stroke-width="1.2" fill="none"/>
<text transform="translate(832.0,607.0) scale(0.781,1)" text-anchor="middle" font-size="11.64">C4</text>
<text transform="translate(824.0,651.0) scale(0.781,1)" text-anchor="middle" font-size="11.64">C2</text>
<path d="M287.5 825V1420.7H560" stroke-width="1.2" fill="none"/>
<path d="M416.3 756V1435.4" stroke-width="1.2" fill="none"/>
<polygon points="416.3,755.0 414.1,763.0 418.5,763.0" fill="#000" stroke="none"/>
<polygon points="416.3,1455.0 414.1,1447.0 418.5,1447.0" fill="#000" stroke="none"/>
<path d="M416.3 1435V1450" stroke-width="1.2" fill="none"/>
<path d="M512.5 804.8V1270H505.8" stroke-width="1.2" fill="none"/>
<path d="M510.0 802.3L515.0 807.3M510.0 807.3L515.0 802.3" stroke-width="1" fill="none"/>
<path d="M509.5 912.5L515.5 918.5M509.5 918.5L515.5 912.5" stroke-width="1.2" fill="none"/>
<path d="M273.5 1435.4V804.8" stroke-width="1.2" fill="none" stroke-dasharray="24 5"/>
<path d="M273.5 804.8H830" stroke-width="1.2" fill="none" stroke-dasharray="7.5 3.5"/>
<path d="M273.5 1435.4H355" stroke-width="1.2" fill="none"/>
<path d="M355 1435.4H830" stroke-width="1.2" fill="none" stroke-dasharray="7.5 3.5"/>
<path d="M552.5 804.8V1435" stroke-width="1.2" fill="none" stroke-dasharray="30 6"/>
<path d="M434.5 804.8L434.5 837.3" stroke-width="1.2" fill="none" stroke-dasharray="5 2.6"/>
<path d="M450.5 804.8L450.5 837.3" stroke-width="1.2" fill="none" stroke-dasharray="5 2.6"/>
<path d="M473.4 804.8L473.4 837.3" stroke-width="1.2" fill="none" stroke-dasharray="5 2.6"/>
<path d="M427.3 837.3L560.0 837.3" stroke-width="1.2" fill="none" stroke-dasharray="5 2.6"/>
<path d="M427.3 837.3L427.3 1044.1" stroke-width="1.2" fill="none" stroke-dasharray="5 2.6"/>
<circle cx="287.6" cy="804.8" r="1.7" fill="#000" stroke="none"/>
<circle cx="416.4" cy="804.8" r="1.7" fill="#000" stroke="none"/>
<circle cx="434.5" cy="804.8" r="1.7" fill="#000" stroke="none"/>
<circle cx="450.5" cy="804.8" r="1.7" fill="#000" stroke="none"/>
<circle cx="473.4" cy="804.8" r="1.7" fill="#000" stroke="none"/>
<circle cx="434.5" cy="837.3" r="1.7" fill="#000" stroke="none"/>
<circle cx="450.5" cy="837.3" r="1.7" fill="#000" stroke="none"/>
<circle cx="473.4" cy="837.3" r="1.7" fill="#000" stroke="none"/>
<path d="M438.7 834.3L444.7 840.3M438.7 840.3L444.7 834.3" stroke-width="1" fill="none"/>
<path d="M459.5 834.3L465.5 840.3M459.5 840.3L465.5 834.3" stroke-width="1" fill="none"/>
<path d="M438.5 837.3L445.7 837.3" stroke-width="1.2" fill="none"/>
<path d="M458.5 837.3L466.5 837.3" stroke-width="1.2" fill="none"/>
<path d="M416.4 845.3L560.0 845.3" stroke-width="1.2" fill="none"/>
<circle cx="416.4" cy="845.3" r="1.7" fill="#000" stroke="none"/>
<circle cx="512.5" cy="845.3" r="1.7" fill="#000" stroke="none"/>
<path d="M416.4 854.4L422.0 854.4L422.0 863.6" stroke-width="1.2" fill="none"/>
<path d="M422.0 869.3L422.0 882.4" stroke-width="1.2" fill="none"/>
<circle cx="416.4" cy="854.4" r="1.7" fill="#000" stroke="none"/>
<path d="M368.4 876.5H464.9V905.3H368.4Z" stroke-width="1.3" fill="none"/>
<path d="M350.9 883.7H368.4V898.1H350.9Z" stroke-width="1.3" fill="none"/>
<polygon points="350.9,883.7 360.4,890.9 350.9,898.1" fill="#000" stroke-width="1"/>
<path d="M464.9 883.7H482.4V898.1H464.9Z" stroke-width="1.3" fill="none"/>
<polygon points="482.4,883.7 472.9,890.9 482.4,898.1" fill="#000" stroke-width="1"/>
<path d="M350.9 905.3L353.4 899.1L355.9 905.3L358.4 899.1L360.9 905.3L363.4 899.1L365.9 905.3L368.4 899.1" stroke-width="1.1" fill="none"/>
<path d="M464.9 905.3L467.4 899.1L469.9 905.3L472.4 899.1L474.9 905.3L477.4 899.1L479.9 905.3L482.4 899.1" stroke-width="1.1" fill="none"/>
<path d="M402.5 876.5V905.3" stroke-width="1.2" fill="none"/>
<path d="M433.7 876.5V905.3" stroke-width="1.2" fill="none"/>
<path d="M453.7 876.5V905.3" stroke-width="1.2" fill="none"/>
<path d="M374.2 877.5L387.7 904.3M387.7 877.5L374.2 904.3" stroke-width="1.5" fill="none"/>
<path d="M394.5 876.5V882.0M392.5 882.0H396.5" stroke-width="1.1" fill="none"/>
<path d="M394.5 905.3V899.8M392.5 899.8H396.5" stroke-width="1.1" fill="none"/>
<path d="M409.9 876.5V882.0M407.9 882.0H411.9" stroke-width="1.1" fill="none"/>
<path d="M409.9 905.3V899.8M407.9 899.8H411.9" stroke-width="1.1" fill="none"/>
<path d="M421.5 876.5V882.0M419.5 882.0H423.5" stroke-width="1.1" fill="none"/>
<path d="M421.5 905.3V899.8M419.5 899.8H423.5" stroke-width="1.1" fill="none"/>
<path d="M445.6 876.5V882.0M443.6 882.0H447.6" stroke-width="1.1" fill="none"/>
<path d="M445.6 905.3V899.8M443.6 899.8H447.6" stroke-width="1.1" fill="none"/>
<path d="M460.1 876.5V882.0M458.1 882.0H462.1" stroke-width="1.1" fill="none"/>
<path d="M460.1 905.3V899.8M458.1 899.8H462.1" stroke-width="1.1" fill="none"/>
<path d="M380.0 876.5V882.0M378.0 882.0H382.0" stroke-width="1.1" fill="none"/>
<path d="M380.0 905.3V899.8M378.0 899.8H382.0" stroke-width="1.1" fill="none"/>
<path d="M439.8 879.5V897.3" stroke-width="1.2" fill="none"/>
<polygon points="439.8,878.5 438.0,883.5 441.6,883.5" fill="#000" stroke="none"/>
<path d="M287.6 868.5L409.7 868.5L409.7 876.5" stroke-width="1.2" fill="none"/>
<path d="M409.7 905.3L409.7 920.5L244.5 920.5" stroke-width="1.2" fill="none"/>
<path d="M227.5 934.5L421.7 934.5L421.7 905.3" stroke-width="1.2" fill="none"/>
<circle cx="287.6" cy="868.5" r="1.7" fill="#000" stroke="none"/>
<circle cx="409.7" cy="890.9" r="1.7" fill="#000" stroke="none"/>
<path d="M232.0 890.5L273.6 890.5" stroke-width="1.2" fill="none"/>
<path d="M231.2 927.3L273.6 927.3" stroke-width="1.2" fill="none"/>
<polygon points="232.0,890.5 240.0,888.3 240.0,892.7" fill="#000" stroke="none"/>
<polygon points="231.2,927.3 239.2,925.1 239.2,929.5" fill="#000" stroke="none"/>
<path d="M273.6 890.5L350.5 890.5" stroke-width="1.2" fill="none" stroke-dasharray="5 2.6"/>
<path d="M273.6 927.3L495.3 927.3L495.3 890.5L482.5 890.5" stroke-width="1.2" fill="none" stroke-dasharray="5 2.6"/>
<circle cx="273.6" cy="890.5" r="1.7" fill="#000" stroke="none"/>
<circle cx="273.6" cy="920.5" r="1.7" fill="#000" stroke="none"/>
<circle cx="273.6" cy="927.3" r="1.7" fill="#000" stroke="none"/>
<circle cx="273.6" cy="934.5" r="1.7" fill="#000" stroke="none"/>
<circle cx="422.0" cy="866.4" r="3.3" fill="#fff" stroke-width="1.2"/>
<path d="M375.6 976.9H461.7V1005.7H375.6Z" stroke-width="1.3" fill="none"/>
<path d="M358.1 984.1H375.6V998.5H358.1Z" stroke-width="1.3" fill="none"/>
<polygon points="358.1,984.1 367.6,991.3 358.1,998.5" fill="#000" stroke-width="1"/>
<path d="M461.7 984.1H479.2V998.5H461.7Z" stroke-width="1.3" fill="none"/>
<polygon points="479.2,984.1 469.7,991.3 479.2,998.5" fill="#000" stroke-width="1"/>
<path d="M358.1 1005.7L360.6 999.5L363.1 1005.7L365.6 999.5L368.1 1005.7L370.6 999.5L373.1 1005.7L375.6 999.5" stroke-width="1.1" fill="none"/>
<path d="M461.7 1005.7L464.2 999.5L466.7 1005.7L469.2 999.5L471.7 1005.7L474.2 999.5L476.7 1005.7L479.2 999.5" stroke-width="1.1" fill="none"/>
<path d="M406.0 976.9V1005.7" stroke-width="1.2" fill="none"/>
<path d="M433.9 976.9V1005.7" stroke-width="1.2" fill="none"/>
<path d="M451.7 976.9V1005.7" stroke-width="1.2" fill="none"/>
<path d="M380.8 977.9L392.8 1004.7M392.8 977.9L380.8 1004.7" stroke-width="1.5" fill="none"/>
<path d="M398.9 976.9V982.4M396.9 982.4H400.9" stroke-width="1.1" fill="none"/>
<path d="M398.9 1005.7V1000.2M396.9 1000.2H400.9" stroke-width="1.1" fill="none"/>
<path d="M412.6 976.9V982.4M410.6 982.4H414.6" stroke-width="1.1" fill="none"/>
<path d="M412.6 1005.7V1000.2M410.6 1000.2H414.6" stroke-width="1.1" fill="none"/>
<path d="M423.0 976.9V982.4M421.0 982.4H425.0" stroke-width="1.1" fill="none"/>
<path d="M423.0 1005.7V1000.2M421.0 1000.2H425.0" stroke-width="1.1" fill="none"/>
<path d="M444.5 976.9V982.4M442.5 982.4H446.5" stroke-width="1.1" fill="none"/>
<path d="M444.5 1005.7V1000.2M442.5 1000.2H446.5" stroke-width="1.1" fill="none"/>
<path d="M457.4 976.9V982.4M455.4 982.4H459.4" stroke-width="1.1" fill="none"/>
<path d="M457.4 1005.7V1000.2M455.4 1000.2H459.4" stroke-width="1.1" fill="none"/>
<path d="M385.9 976.9V982.4M383.9 982.4H387.9" stroke-width="1.1" fill="none"/>
<path d="M385.9 1005.7V1000.2M383.9 1000.2H387.9" stroke-width="1.1" fill="none"/>
<path d="M439.3 979.9V997.7" stroke-width="1.2" fill="none"/>
<polygon points="439.3,978.9 437.5,983.9 441.1,983.9" fill="#000" stroke="none"/>
<path d="M416.4 955.6L512.5 955.6" stroke-width="1.2" fill="none"/>
<path d="M287.6 968.9L409.7 968.9L409.7 976.6" stroke-width="1.2" fill="none"/>
<path d="M422.5 976.6L422.5 968.9L512.5 968.9" stroke-width="1.2" fill="none"/>
<circle cx="416.4" cy="955.6" r="1.7" fill="#000" stroke="none"/>
<circle cx="512.5" cy="955.6" r="1.7" fill="#000" stroke="none"/>
<circle cx="287.6" cy="968.9" r="1.7" fill="#000" stroke="none"/>
<circle cx="512.5" cy="968.9" r="1.7" fill="#000" stroke="none"/>
<circle cx="287.6" cy="962.5" r="1.7" fill="#000" stroke="none"/>
<circle cx="427.3" cy="962.5" r="1.7" fill="#000" stroke="none"/>
<path d="M287.6 962.5L427.3 962.5" stroke-width="1.2" fill="none" stroke-dasharray="5 2.6"/>
<path d="M460.1 955.6L463.3 952.4L466.5 955.6L463.3 958.8Z" stroke-width="1.2" fill="none"/>
<path d="M477.7 968.9L480.9 965.7L484.1 968.9L480.9 972.1Z" stroke-width="1.2" fill="none"/>
<path d="M229.6 991.3L273.6 991.3" stroke-width="1.2" fill="none"/>
<path d="M229.6 991.3L229.6 1027.6L251.2 1027.6" stroke-width="1.2" fill="none"/>
<path d="M273.6 991.3L357.7 991.3" stroke-width="1.2" fill="none" stroke-dasharray="5 2.6"/>
<path d="M273.6 1027.6L488.9 1027.6L488.9 991.3L479.3 991.3" stroke-width="1.2" fill="none" stroke-dasharray="5 2.6"/>
<path d="M287.6 996.9L344.9 996.9L344.9 1020.9" stroke-width="1.2" fill="none"/>
<path d="M287.6 1007.6L344.9 1007.6" stroke-width="1.2" fill="none"/>
<path d="M273.6 1020.9L409.7 1020.9L409.7 1005.4" stroke-width="1.2" fill="none"/>
<path d="M273.6 1034.5L421.7 1034.5L421.7 1005.4" stroke-width="1.2" fill="none"/>
<circle cx="273.6" cy="991.3" r="1.7" fill="#000" stroke="none"/>
<circle cx="287.6" cy="996.9" r="1.7" fill="#000" stroke="none"/>
<circle cx="322.9" cy="996.9" r="1.7" fill="#000" stroke="none"/>
<circle cx="287.6" cy="1007.6" r="1.7" fill="#000" stroke="none"/>
<circle cx="344.9" cy="1007.6" r="1.7" fill="#000" stroke="none"/>
<circle cx="344.9" cy="1020.9" r="1.7" fill="#000" stroke="none"/>
<circle cx="273.6" cy="1027.6" r="1.7" fill="#000" stroke="none"/>
<circle cx="301.6" cy="996.9" r="3.3" fill="#fff" stroke-width="1.2"/>
<path d="M315.4 1000.6H330.4V1015.6H315.4Z" stroke-width="1.2" fill="none"/>
<text transform="translate(322.9,1011.4) scale(0.802,1)" text-anchor="middle" font-size="8.76">320</text>
<path d="M315.4 1002.6H330.4" stroke-width="1.5" fill="none"/>
<path d="M322.9 1014.5L324.5 1015.2L321.3 1016.6L324.5 1018.0L321.3 1019.4L322.9 1020.1" stroke-width="1" fill="none"/>
<path d="M271.1 1018.4L276.1 1023.4M271.1 1023.4L276.1 1018.4" stroke-width="1" fill="none"/>
<path d="M271.1 1032.0L276.1 1037.0M271.1 1037.0L276.1 1032.0" stroke-width="1" fill="none"/>
<text transform="translate(298.4,800.0) scale(0.781,1)" text-anchor="middle" font-size="11.85">R</text>
<text transform="translate(359.3,800.5) scale(0.781,1)" text-anchor="middle" font-size="11.64">TRAVEL MODE</text>
<text transform="translate(407.0,800.0) scale(0.781,1)" text-anchor="middle" font-size="11.85">P2</text>
<text transform="translate(440.9,800.5) scale(0.781,1)" text-anchor="middle" font-size="11.85">Py</text>
<text transform="translate(479.3,800.5) scale(0.781,1)" text-anchor="middle" font-size="11.85">Px</text>
<text transform="translate(500.1,800.0) scale(0.781,1)" text-anchor="middle" font-size="11.85">P3</text>
<text transform="translate(217.6,894.0) scale(0.781,1)" text-anchor="middle" font-size="11.85">XBt</text>
<text transform="translate(263.2,916.1) scale(0.781,1)" text-anchor="middle" font-size="11.85">Bt</text>
<text transform="translate(217.6,931.3) scale(0.781,1)" text-anchor="middle" font-size="11.85">XAt</text>
<text transform="translate(260.8,945.7) scale(0.781,1)" text-anchor="middle" font-size="11.85">At</text>
<text transform="translate(261.6,986.8) scale(0.781,1)" text-anchor="middle" font-size="11.85">XBo</text>
<text transform="translate(262.9,1017.7) scale(0.781,1)" text-anchor="middle" font-size="11.85">Bo</text>
<text transform="translate(259.2,1032.1) scale(0.781,1)" text-anchor="middle" font-size="11.85">XAo</text>
<text transform="translate(450.5,920.9) scale(0.781,1)" text-anchor="middle" font-size="11.64">TRAVEL</text>
<text transform="translate(456.1,1021.4) scale(0.781,1)" text-anchor="middle" font-size="11.64">OPTION</text>
<path d="M273.5 1034.9L422.0 1034.9L422.0 1025.7" stroke-width="1.2" fill="none"/>
<path d="M271.0 1032.4L276.0 1037.4M271.0 1037.4L276.0 1032.4" stroke-width="1" fill="none"/>
<path d="M287.4 1048.1L344.3 1048.1" stroke-width="1.2" fill="none"/>
<path d="M344.3 1034.9L344.3 1058.7L287.4 1058.7" stroke-width="1.2" fill="none"/>
<path d="M315.4 1040.6H330.4V1055.6H315.4Z" stroke-width="1.2" fill="none"/>
<text transform="translate(322.9,1051.4) scale(0.802,1)" text-anchor="middle" font-size="8.76">320</text>
<path d="M315.4 1042.6H330.4" stroke-width="1.5" fill="none"/>
<circle cx="301.4" cy="1058.7" r="3.3" fill="#fff" stroke-width="1.2"/>
<circle cx="344.3" cy="1034.9" r="1.7" fill="#000" stroke="none"/>
<circle cx="287.4" cy="1048.1" r="1.7" fill="#000" stroke="none"/>
<circle cx="344.3" cy="1048.1" r="1.7" fill="#000" stroke="none"/>
<circle cx="287.4" cy="1058.7" r="1.7" fill="#000" stroke="none"/>
<circle cx="322.9" cy="1058.7" r="1.7" fill="#000" stroke="none"/>
<path d="M228.7 1065.8L422.0 1065.8" stroke-width="1.2" fill="none"/>
<path d="M422.0 1065.8L512.6 1065.8" stroke-width="1.2" fill="none"/>
<path d="M287.4 1070.6L409.6 1070.6L409.6 1076.7" stroke-width="1.2" fill="none"/>
<path d="M422.0 1065.8L422.0 1076.7" stroke-width="1.2" fill="none"/>
<circle cx="273.5" cy="1065.8" r="1.7" fill="#000" stroke="none"/>
<circle cx="422.0" cy="1065.8" r="1.7" fill="#000" stroke="none"/>
<circle cx="512.6" cy="1065.8" r="1.7" fill="#000" stroke="none"/>
<circle cx="287.4" cy="1070.6" r="1.7" fill="#000" stroke="none"/>
<path d="M477.7 1065.8L481.1 1062.4L484.6 1065.8L481.1 1069.2Z" stroke-width="1.2" fill="none"/>
<path d="M228.7 1065.8V1480.3H689.7" stroke-width="1.2" fill="none"/>
<path d="M375.2 1076.2H461.1V1105.0H375.2Z" stroke-width="1.3" fill="none"/>
<path d="M357.7 1083.4H375.2V1097.8H357.7Z" stroke-width="1.3" fill="none"/>
<polygon points="357.7,1083.4 367.2,1090.6 357.7,1097.8" fill="#000" stroke-width="1"/>
<path d="M461.1 1083.4H478.6V1097.8H461.1Z" stroke-width="1.3" fill="none"/>
<polygon points="478.6,1083.4 469.1,1090.6 478.6,1097.8" fill="#000" stroke-width="1"/>
<path d="M357.7 1105.0L360.2 1098.8L362.7 1105.0L365.2 1098.8L367.7 1105.0L370.2 1098.8L372.7 1105.0L375.2 1098.8" stroke-width="1.1" fill="none"/>
<path d="M461.1 1105.0L463.6 1098.8L466.1 1105.0L468.6 1098.8L471.1 1105.0L473.6 1098.8L476.1 1105.0L478.6 1098.8" stroke-width="1.1" fill="none"/>
<path d="M405.5 1076.2V1105.0" stroke-width="1.2" fill="none"/>
<path d="M433.4 1076.2V1105.0" stroke-width="1.2" fill="none"/>
<path d="M451.1 1076.2V1105.0" stroke-width="1.2" fill="none"/>
<path d="M380.4 1077.2L392.4 1104.0M392.4 1077.2L380.4 1104.0" stroke-width="1.5" fill="none"/>
<path d="M398.4 1076.2V1081.7M396.4 1081.7H400.4" stroke-width="1.1" fill="none"/>
<path d="M398.4 1105.0V1099.5M396.4 1099.5H400.4" stroke-width="1.1" fill="none"/>
<path d="M412.2 1076.2V1081.7M410.2 1081.7H414.2" stroke-width="1.1" fill="none"/>
<path d="M412.2 1105.0V1099.5M410.2 1099.5H414.2" stroke-width="1.1" fill="none"/>
<path d="M422.5 1076.2V1081.7M420.5 1081.7H424.5" stroke-width="1.1" fill="none"/>
<path d="M422.5 1105.0V1099.5M420.5 1099.5H424.5" stroke-width="1.1" fill="none"/>
<path d="M443.9 1076.2V1081.7M441.9 1081.7H445.9" stroke-width="1.1" fill="none"/>
<path d="M443.9 1105.0V1099.5M441.9 1099.5H445.9" stroke-width="1.1" fill="none"/>
<path d="M456.8 1076.2V1081.7M454.8 1081.7H458.8" stroke-width="1.1" fill="none"/>
<path d="M456.8 1105.0V1099.5M454.8 1099.5H458.8" stroke-width="1.1" fill="none"/>
<path d="M385.5 1076.2V1081.7M383.5 1081.7H387.5" stroke-width="1.1" fill="none"/>
<path d="M385.5 1105.0V1099.5M383.5 1099.5H387.5" stroke-width="1.1" fill="none"/>
<path d="M438.8 1079.2V1097.0" stroke-width="1.2" fill="none"/>
<polygon points="438.8,1078.2 437.0,1083.2 440.6,1083.2" fill="#000" stroke="none"/>
<path d="M234.0 1080.1L273.5 1080.1" stroke-width="1.2" fill="none"/>
<path d="M234.0 1090.6L273.5 1090.6" stroke-width="1.2" fill="none"/>
<polygon points="234.0,1080.1 241.0,1077.9 241.0,1082.3" fill="#000" stroke="none"/>
<polygon points="234.0,1090.6 241.0,1088.4 241.0,1092.8" fill="#000" stroke="none"/>
<circle cx="273.5" cy="1080.1" r="1.7" fill="#000" stroke="none"/>
<circle cx="273.5" cy="1090.6" r="1.7" fill="#000" stroke="none"/>
<path d="M273.5 1080.1L339.9 1080.1" stroke-width="1.2" fill="none" stroke-dasharray="5 2.6"/>
<path d="M273.5 1090.6L358.1 1090.6" stroke-width="1.2" fill="none" stroke-dasharray="5 2.6"/>
<path d="M249.2 1078.1L253.2 1082.1M249.2 1082.1L253.2 1078.1" stroke-width="1" fill="none"/>
<path d="M278.8 1078.1L282.8 1082.1M278.8 1082.1L282.8 1078.1" stroke-width="1" fill="none"/>
<path d="M304.5 1078.1L308.5 1082.1M304.5 1082.1L308.5 1078.1" stroke-width="1" fill="none"/>
<path d="M310.3 1085.8L318.0 1073.4L325.6 1085.8Z" stroke-width="1" fill="none"/>
<path d="M322.7 1075.3H336.1V1085.8H322.7Z" stroke-width="1" fill="none"/>
<path d="M322.7 1075.3L336.1 1085.8" stroke-width="1" fill="none"/>
<path d="M322.7 1085.8L336.1 1075.3" stroke-width="1" fill="none"/>
<path d="M336.1 1076.7h5a4 4 0 0 1 0 9h-5" stroke-width="1" fill="none"/>
<path d="M287.4 1096.3L344.3 1096.3L344.3 1119.8" stroke-width="1.2" fill="none"/>
<path d="M287.4 1107.2L344.3 1107.2" stroke-width="1.2" fill="none"/>
<circle cx="301.4" cy="1096.3" r="3.3" fill="#fff" stroke-width="1.2"/>
<path d="M315.4 1099.7H330.4V1114.7H315.4Z" stroke-width="1.2" fill="none"/>
<text transform="translate(322.9,1110.5) scale(0.802,1)" text-anchor="middle" font-size="8.76">320</text>
<path d="M315.4 1101.7H330.4" stroke-width="1.5" fill="none"/>
<path d="M322.9 1114.8L324.5 1115.4L321.4 1116.5L324.5 1117.6L321.4 1118.7L322.9 1119.2" stroke-width="1" fill="none"/>
<circle cx="287.4" cy="1096.3" r="1.7" fill="#000" stroke="none"/>
<circle cx="322.9" cy="1096.3" r="1.7" fill="#000" stroke="none"/>
<circle cx="287.4" cy="1107.2" r="1.7" fill="#000" stroke="none"/>
<circle cx="344.3" cy="1107.2" r="1.7" fill="#000" stroke="none"/>
<circle cx="344.3" cy="1119.8" r="1.7" fill="#000" stroke="none"/>
<circle cx="273.5" cy="1119.8" r="1.7" fill="#000" stroke="none"/>
<path d="M194.9 1119.8L409.6 1119.8L409.6 1104.4" stroke-width="2" fill="none"/>
<path d="M194.9 1119.8V1490.4H560.5V1523.4" stroke-width="1.2" fill="none"/>
<path d="M233.1 1127.3L273.5 1127.3" stroke-width="1.2" fill="none"/>
<polygon points="233.1,1127.3 240.1,1125.1 240.1,1129.5" fill="#000" stroke="none"/>
<circle cx="273.5" cy="1127.3" r="1.7" fill="#000" stroke="none"/>
<path d="M273.5 1127.3L488.8 1127.3L488.8 1090.6L478.9 1090.6" stroke-width="1.2" fill="none" stroke-dasharray="5 2.6"/>
<path d="M211.7 1134.1L422.0 1134.1L422.0 1104.4" stroke-width="1.2" fill="none"/>
<path d="M211.7 1134.1V1501.3H482.7V1523" stroke-width="1.2" fill="none"/>
<circle cx="273.5" cy="1134.1" r="1.7" fill="#000" stroke="none"/>
<circle cx="344.3" cy="1134.1" r="1.7" fill="#000" stroke="none"/>
<path d="M287.4 1146.3L344.3 1146.3" stroke-width="1.2" fill="none"/>
<path d="M344.3 1134.1L344.3 1157.0L287.4 1157.0" stroke-width="1.2" fill="none"/>
<path d="M315.4 1138.8H330.4V1153.8H315.4Z" stroke-width="1.2" fill="none"/>
<text transform="translate(322.9,1149.6) scale(0.802,1)" text-anchor="middle" font-size="8.76">320</text>
<path d="M315.4 1140.8H330.4" stroke-width="1.5" fill="none"/>
<circle cx="301.4" cy="1157.0" r="3.3" fill="#fff" stroke-width="1.2"/>
<circle cx="287.4" cy="1146.3" r="1.7" fill="#000" stroke="none"/>
<circle cx="344.3" cy="1146.3" r="1.7" fill="#000" stroke="none"/>
<circle cx="287.4" cy="1157.0" r="1.7" fill="#000" stroke="none"/>
<circle cx="322.9" cy="1157.0" r="1.7" fill="#000" stroke="none"/>
<circle cx="287.4" cy="1166.6" r="1.7" fill="#000" stroke="none"/>
<path d="M167.8 1166.6L409.6 1166.6L409.6 1176.5" stroke-width="1.2" fill="none"/>
<path d="M422.0 1166.6L512.6 1166.6" stroke-width="1.2" fill="none"/>
<path d="M422.0 1166.6L422.0 1176.5" stroke-width="2" fill="none"/>
<circle cx="512.6" cy="1166.6" r="1.7" fill="#000" stroke="none"/>
<path d="M477.7 1166.6L481.1 1163.1L484.6 1166.6L481.1 1170.0Z" stroke-width="1.2" fill="none"/>
<path d="M167.8 1166.6V1596.4" stroke-width="1.2" fill="none"/>
<path d="M375.2 1176.8H461.1V1205.6H375.2Z" stroke-width="1.3" fill="none"/>
<path d="M357.7 1184.0H375.2V1198.4H357.7Z" stroke-width="1.3" fill="none"/>
<polygon points="357.7,1184.0 367.2,1191.2 357.7,1198.4" fill="#000" stroke-width="1"/>
<path d="M461.1 1184.0H478.6V1198.4H461.1Z" stroke-width="1.3" fill="none"/>
<polygon points="478.6,1184.0 469.1,1191.2 478.6,1198.4" fill="#000" stroke-width="1"/>
<path d="M357.7 1205.6L360.2 1199.4L362.7 1205.6L365.2 1199.4L367.7 1205.6L370.2 1199.4L372.7 1205.6L375.2 1199.4" stroke-width="1.1" fill="none"/>
<path d="M461.1 1205.6L463.6 1199.4L466.1 1205.6L468.6 1199.4L471.1 1205.6L473.6 1199.4L476.1 1205.6L478.6 1199.4" stroke-width="1.1" fill="none"/>
<path d="M405.5 1176.8V1205.6" stroke-width="1.2" fill="none"/>
<path d="M433.4 1176.8V1205.6" stroke-width="1.2" fill="none"/>
<path d="M451.1 1176.8V1205.6" stroke-width="1.2" fill="none"/>
<path d="M380.4 1177.8L392.4 1204.6M392.4 1177.8L380.4 1204.6" stroke-width="1.5" fill="none"/>
<path d="M398.4 1176.8V1182.3M396.4 1182.3H400.4" stroke-width="1.1" fill="none"/>
<path d="M398.4 1205.6V1200.1M396.4 1200.1H400.4" stroke-width="1.1" fill="none"/>
<path d="M412.2 1176.8V1182.3M410.2 1182.3H414.2" stroke-width="1.1" fill="none"/>
<path d="M412.2 1205.6V1200.1M410.2 1200.1H414.2" stroke-width="1.1" fill="none"/>
<path d="M422.5 1176.8V1182.3M420.5 1182.3H424.5" stroke-width="1.1" fill="none"/>
<path d="M422.5 1205.6V1200.1M420.5 1200.1H424.5" stroke-width="1.1" fill="none"/>
<path d="M443.9 1176.8V1182.3M441.9 1182.3H445.9" stroke-width="1.1" fill="none"/>
<path d="M443.9 1205.6V1200.1M441.9 1200.1H445.9" stroke-width="1.1" fill="none"/>
<path d="M456.8 1176.8V1182.3M454.8 1182.3H458.8" stroke-width="1.1" fill="none"/>
<path d="M456.8 1205.6V1200.1M454.8 1200.1H458.8" stroke-width="1.1" fill="none"/>
<path d="M385.5 1176.8V1182.3M383.5 1182.3H387.5" stroke-width="1.1" fill="none"/>
<path d="M385.5 1205.6V1200.1M383.5 1200.1H387.5" stroke-width="1.1" fill="none"/>
<path d="M438.8 1179.8V1197.6" stroke-width="1.2" fill="none"/>
<polygon points="438.8,1178.8 437.0,1183.8 440.6,1183.8" fill="#000" stroke="none"/>
<path d="M214.0 1191.2L273.5 1191.2" stroke-width="1.2" fill="none"/>
<polygon points="214.0,1191.2 221.0,1189.0 221.0,1193.4" fill="#000" stroke="none"/>
<circle cx="273.5" cy="1191.2" r="1.7" fill="#000" stroke="none"/>
<path d="M273.5 1191.2L358.1 1191.2" stroke-width="1.2" fill="none" stroke-dasharray="5 2.6"/>
<path d="M233.4 1171.3H268.7V1206.1H233.4Z" stroke-width="1.2" fill="none"/>
<path d="M249.8 1182.6H257.9V1191.8H249.8Z" stroke-width="1.1" fill="none"/>
<path d="M253.1 1186.4H262.6V1195.6H253.1Z" stroke-width="1.1" fill="none"/>
<path d="M237.3 1177.4L266.5 1177.4L266.5 1191.2" stroke-width="1.1" fill="none"/>
<path d="M237.3 1177.4L237.3 1191.2" stroke-width="1.1" fill="none"/>
<path d="M239.2 1193.7L239.2 1200.9L256.0 1200.9L256.0 1195.6" stroke-width="1.2" fill="none" stroke-dasharray="5 2.6"/>
<circle cx="250.6" cy="1177.4" r="0.9541984732824427" fill="none" stroke-width="1"/>
<path d="M242.1 1188.8L246.1 1192.8M242.1 1192.8L246.1 1188.8" stroke-width="1" fill="none"/>
<path d="M177.7 1220.8L560.0 1220.8" stroke-width="1.2" fill="none"/>
<path d="M409.6 1220.8L409.6 1205.1" stroke-width="1.2" fill="none"/>
<circle cx="273.5" cy="1220.8" r="1.7" fill="#000" stroke="none"/>
<circle cx="409.6" cy="1220.8" r="1.7" fill="#000" stroke="none"/>
<path d="M177.7 1220.8V1561.4" stroke-width="1.2" fill="none"/>
<path d="M146.8 1227.4L488.8 1227.4L488.8 1191.2L478.9 1191.2" stroke-width="1.2" fill="none" stroke-dasharray="5 2.6"/>
<circle cx="273.5" cy="1227.4" r="1.7" fill="#000" stroke="none"/>
<path d="M146.8 1227.4V1529.9" stroke-width="1.2" fill="none" stroke-dasharray="5 2.6"/>
<path d="M160.5 1234.7L422.0 1234.7" stroke-width="1.2" fill="none"/>
<path d="M422.0 1234.7L422.0 1205.1" stroke-width="2" fill="none"/>
<circle cx="273.5" cy="1234.7" r="1.7" fill="#000" stroke="none"/>
<circle cx="344.3" cy="1234.7" r="1.7" fill="#000" stroke="none"/>
<path d="M160.5 1098.2V1643.4" stroke-width="1.2" fill="none"/>
<polygon points="160.5,1098.2 158.3,1106.2 162.7,1106.2" fill="#000" stroke="none"/>
<path d="M287.4 1247.1L344.3 1247.1" stroke-width="1.2" fill="none"/>
<path d="M344.3 1234.7L344.3 1257.6L287.4 1257.6" stroke-width="1.2" fill="none"/>
<path d="M315.4 1239.6H330.4V1254.6H315.4Z" stroke-width="1.2" fill="none"/>
<text transform="translate(322.9,1250.4) scale(0.802,1)" text-anchor="middle" font-size="8.76">320</text>
<path d="M315.4 1241.6H330.4" stroke-width="1.5" fill="none"/>
<circle cx="301.4" cy="1257.6" r="3.3" fill="#fff" stroke-width="1.2"/>
<circle cx="287.4" cy="1247.1" r="1.7" fill="#000" stroke="none"/>
<circle cx="344.3" cy="1247.1" r="1.7" fill="#000" stroke="none"/>
<circle cx="287.4" cy="1257.6" r="1.7" fill="#000" stroke="none"/>
<circle cx="322.9" cy="1257.6" r="1.7" fill="#000" stroke="none"/>
<circle cx="287.4" cy="1273.2" r="1.7" fill="#000" stroke="none"/>
<path d="M373.7 1277.5H463.6V1306.3H373.7Z" stroke-width="1.3" fill="none"/>
<path d="M356.2 1284.7H373.7V1299.1H356.2Z" stroke-width="1.3" fill="none"/>
<polygon points="356.2,1284.7 365.7,1291.9 356.2,1299.1" fill="#000" stroke-width="1"/>
<path d="M463.6 1284.7H481.1V1299.1H463.6Z" stroke-width="1.3" fill="none"/>
<polygon points="481.1,1284.7 471.6,1291.9 481.1,1299.1" fill="#000" stroke-width="1"/>
<path d="M356.2 1306.3L358.7 1300.1L361.2 1306.3L363.7 1300.1L366.2 1306.3L368.7 1300.1L371.2 1306.3L373.7 1300.1" stroke-width="1.1" fill="none"/>
<path d="M463.6 1306.3L466.1 1300.1L468.6 1306.3L471.1 1300.1L473.6 1306.3L476.1 1300.1L478.6 1306.3L481.1 1300.1" stroke-width="1.1" fill="none"/>
<path d="M431.9 1277.5V1306.3" stroke-width="1.2" fill="none"/>
<path d="M402.7 1277.5V1306.3" stroke-width="1.2" fill="none"/>
<path d="M384.1 1277.5V1306.3" stroke-width="1.2" fill="none"/>
<path d="M458.2 1278.5L445.6 1305.3M445.6 1278.5L458.2 1305.3" stroke-width="1.5" fill="none"/>
<path d="M439.3 1277.5V1283.0M437.3 1283.0H441.3" stroke-width="1.1" fill="none"/>
<path d="M439.3 1306.3V1300.8M437.3 1300.8H441.3" stroke-width="1.1" fill="none"/>
<path d="M424.9 1277.5V1283.0M422.9 1283.0H426.9" stroke-width="1.1" fill="none"/>
<path d="M424.9 1306.3V1300.8M422.9 1300.8H426.9" stroke-width="1.1" fill="none"/>
<path d="M414.2 1277.5V1283.0M412.2 1283.0H416.2" stroke-width="1.1" fill="none"/>
<path d="M414.2 1306.3V1300.8M412.2 1300.8H416.2" stroke-width="1.1" fill="none"/>
<path d="M391.7 1277.5V1283.0M389.7 1283.0H393.7" stroke-width="1.1" fill="none"/>
<path d="M391.7 1306.3V1300.8M389.7 1300.8H393.7" stroke-width="1.1" fill="none"/>
<path d="M378.2 1277.5V1283.0M376.2 1283.0H380.2" stroke-width="1.1" fill="none"/>
<path d="M378.2 1306.3V1300.8M376.2 1300.8H380.2" stroke-width="1.1" fill="none"/>
<path d="M452.8 1277.5V1283.0M450.8 1283.0H454.8" stroke-width="1.1" fill="none"/>
<path d="M452.8 1306.3V1300.8M450.8 1300.8H454.8" stroke-width="1.1" fill="none"/>
<path d="M397.1 1280.5V1298.3" stroke-width="1.2" fill="none"/>
<polygon points="397.1,1279.5 395.3,1284.5 398.9,1284.5" fill="#000" stroke="none"/>
<path d="M287.4 1273.2L396.2 1273.2L396.2 1277.6" stroke-width="1.2" fill="none"/>
<path d="M236.9 1291.9L273.5 1291.9" stroke-width="2.2" fill="none"/>
<polygon points="236.9,1291.9 244.9,1289.3 244.9,1294.5" fill="#000" stroke="none"/>
<circle cx="273.5" cy="1291.9" r="2" fill="#000" stroke="none"/>
<path d="M273.5 1291.9L356.1 1291.9" stroke-width="2.2" fill="none" stroke-dasharray="5 2.6"/>
<path d="M416.3 1251.9L423.9 1251.9L423.9 1257.6" stroke-width="1.2" fill="none"/>
<path d="M423.9 1264.3L423.9 1277.6" stroke-width="1.2" fill="none"/>
<path d="M423.9 1270.0L468.2 1270.0" stroke-width="1.2" fill="none"/>
<path d="M475.0 1270.0L494.5 1270.0" stroke-width="1.2" fill="none"/>
<path d="M505.6 1270.0L512.6 1270.0" stroke-width="1.2" fill="none"/>
<circle cx="416.3" cy="1251.9" r="1.7" fill="#000" stroke="none"/>
<circle cx="423.9" cy="1270.0" r="1.7" fill="#000" stroke="none"/>
<circle cx="423.9" cy="1260.8" r="3.3" fill="#fff" stroke-width="1.2"/>
<path d="M468.2 1270.0L471.6 1266.6L475.0 1270.0L471.6 1273.4Z" stroke-width="1.2" fill="none"/>
<path d="M494.5 1265.2H505.6V1288.1H494.5Z" stroke-width="1.3" fill="none"/>
<path d="M494.5 1276.7L505.6 1276.7" stroke-width="1.1" fill="none"/>
<path d="M496.0 1267.1L504.0 1274.8" stroke-width="1.1" fill="none"/>
<path d="M496.0 1274.8L504.0 1267.1" stroke-width="1.1" fill="none"/>
<path d="M499.8 1259.5L501.4 1260.2L498.3 1261.7L501.4 1263.1L498.3 1264.5L499.8 1265.2" stroke-width="1" fill="none"/>
<path d="M499.8 1288.1L499.8 1296.7" stroke-width="2" fill="none"/>
<path d="M503.1 1246.1L535.5 1246.1L535.5 1312.0" stroke-width="1.2" fill="none" stroke-dasharray="5 2.6"/>
<path d="M481.7 1291.9L490.7 1291.9L490.7 1312.0" stroke-width="1.8" fill="none" stroke-dasharray="5 2.6"/>
<path d="M430.6 1312.6L560.0 1312.6" stroke-width="2.2" fill="none" stroke-dasharray="5 2.6"/>
<path d="M145.6 1114.8H179.6V1153.0H145.6Z" stroke-width="1.3" fill="none"/>
<text transform="translate(158.2,1091.6) scale(0.781,1)" text-anchor="middle" font-size="11.85">XAb1</text>
<text transform="translate(171.0,1159.9) scale(0.781,1)" text-anchor="middle" font-size="7.73" font-weight="bold">ø1.1</text>
<path d="M150.6 1122.1L150.6 1134.5L155.8 1134.5" stroke-width="1.2" fill="none" stroke-dasharray="5 2.6"/>
<path d="M150.6 1122.1L158.6 1122.1" stroke-width="1.2" fill="none" stroke-dasharray="5 2.6"/>
<path d="M155.8 1134.5H165.3V1144.0H155.8Z" stroke-width="1.1" fill="none"/>
<path d="M160.5 1119.2L174.3 1119.2L174.3 1130.7" stroke-width="1.1" fill="none"/>
<path d="M165.3 1139.3L169.1 1139.3L169.1 1132.6L160.5 1132.6" stroke-width="1.1" fill="none"/>
<circle cx="174.3" cy="1132.6" r="0.9541984732824427" fill="none" stroke-width="1"/>
<path d="M158.2 1123.5L162.2 1127.5M158.2 1127.5L162.2 1123.5" stroke-width="1" fill="none"/>
<path d="M171.0 1104.4L178.7 1091.0L186.3 1104.4Z" stroke-width="1" fill="none"/>
<text transform="translate(178.7,1103.4) scale(0.781,1)" text-anchor="middle" font-size="8.24">C</text>
<path d="M202.9 1069.0L210.5 1055.7L218.2 1069.0Z" stroke-width="1" fill="none"/>
<text transform="translate(210.5,1068.1) scale(0.781,1)" text-anchor="middle" font-size="8.24">B</text>
<path d="M235.5 1159.7L243.2 1146.3L250.8 1159.7Z" stroke-width="1" fill="none"/>
<text transform="translate(243.2,1158.7) scale(0.781,1)" text-anchor="middle" font-size="8.24">C</text>
<text transform="translate(264.5,1161.2) scale(0.781,1)" text-anchor="middle" font-size="7.73" font-weight="bold">ø1.1</text>
<text transform="translate(261.7,1045.4) scale(0.781,1)" text-anchor="middle" font-size="11.85">Ao</text>
<text transform="translate(259.8,1062.2) scale(0.781,1)" text-anchor="middle" font-size="11.85">Ck2</text>
<text transform="translate(212.1,1081.6) scale(0.781,1)" text-anchor="middle" font-size="11.33">XAks</text>
<path d="M196.8 1077.3L223.5 1077.3" stroke-width="0.8" fill="none"/>
<path d="M196.8 1079.5L223.5 1079.5" stroke-width="0.8" fill="none"/>
<text transform="translate(214.0,1095.4) scale(0.781,1)" text-anchor="middle" font-size="11.85">XBk</text>
<text transform="translate(259.8,1115.4) scale(0.781,1)" text-anchor="middle" font-size="11.85">Bk1</text>
<text transform="translate(213.0,1129.7) scale(0.781,1)" text-anchor="middle" font-size="11.85">XAk</text>
<text transform="translate(258.8,1144.0) scale(0.781,1)" text-anchor="middle" font-size="11.85">Ak1</text>
<text transform="translate(202.1,1193.7) scale(0.696,1)" text-anchor="middle" font-size="10.3">XBb1</text>
<text transform="translate(260.2,1216.2) scale(0.781,1)" text-anchor="middle" font-size="11.85">Bb1</text>
<text transform="translate(259.8,1274.4) scale(0.781,1)" text-anchor="middle" font-size="11.85">Ab1</text>
<text transform="translate(245.5,1304.0) scale(0.781,1)" text-anchor="middle" font-size="11.85">XBa2</text>
<text transform="translate(358.6,1116.0) scale(0.781,1)" text-anchor="middle" font-size="11.64">ROD</text>
<text transform="translate(361.3,1146.5) scale(0.781,1)" text-anchor="middle" font-size="11.64">HEAD</text>
<text transform="translate(453.1,1117.9) scale(0.781,1)" text-anchor="middle" font-size="11.64">BUCKET</text>
<text transform="translate(367.2,1215.8) scale(0.781,1)" text-anchor="middle" font-size="11.64">HEAD</text>
<text transform="translate(456.0,1215.8) scale(0.781,1)" text-anchor="middle" font-size="11.64">BOOM1</text>
<text transform="translate(365.7,1246.1) scale(0.781,1)" text-anchor="middle" font-size="11.64">ROD</text>
<text transform="translate(451.2,1263.3) scale(0.781,1)" text-anchor="middle" font-size="11.64">ARM2</text>
<text transform="translate(516.5,1285.3) scale(0.781,1)" text-anchor="middle" font-size="11.85">BP</text>
<path d="M236.9 1328.7L273.5 1328.7" stroke-width="1.2" fill="none"/>
<path d="M236.9 1357.4L273.5 1357.4" stroke-width="1.2" fill="none"/>
<polygon points="236.9,1328.7 243.9,1326.5 243.9,1330.9" fill="#000" stroke="none"/>
<polygon points="236.9,1357.4 243.9,1355.2 243.9,1359.6" fill="#000" stroke="none"/>
<circle cx="273.5" cy="1328.7" r="1.7" fill="#000" stroke="none"/>
<circle cx="273.5" cy="1357.4" r="1.7" fill="#000" stroke="none"/>
<path d="M273.5 1328.7L490.7 1328.7L490.7 1313.9" stroke-width="1.2" fill="none" stroke-dasharray="5 2.6"/>
<path d="M273.5 1357.4L500.6 1357.4L500.6 1293.8" stroke-width="1.2" fill="none" stroke-dasharray="5 2.6"/>
<path d="M409.6 1306.2L409.6 1335.8L560.0 1335.8" stroke-width="1.2" fill="none"/>
<path d="M423.9 1306.2L423.9 1320.5L560.0 1320.5" stroke-width="1.2" fill="none"/>
<path d="M416.3 1377.8L453.1 1377.8L453.1 1420.7" stroke-width="1.2" fill="none"/>
<path d="M416.3 1396.3L427.3 1396.3" stroke-width="1.2" fill="none"/>
<path d="M442.4 1396.3L453.1 1396.3" stroke-width="1.2" fill="none"/>
<path d="M427.3 1389.2H442.4V1403.5H427.3Z" stroke-width="1.3" fill="none"/>
<path d="M431.8 1374.8L437.8 1380.8M431.8 1380.8L437.8 1374.8" stroke-width="1" fill="none"/>
<path d="M416.3 1386.0L434.8 1386.0L434.8 1389.2" stroke-width="1.2" fill="none" stroke-dasharray="5 2.6"/>
<circle cx="416.3" cy="1377.8" r="1.7" fill="#000" stroke="none"/>
<circle cx="416.3" cy="1386.0" r="1.7" fill="#000" stroke="none"/>
<circle cx="416.3" cy="1396.3" r="1.7" fill="#000" stroke="none"/>
<circle cx="453.1" cy="1396.3" r="1.7" fill="#000" stroke="none"/>
<circle cx="453.1" cy="1420.7" r="1.7" fill="#000" stroke="none"/>
<circle cx="416.3" cy="1435.4" r="1.7" fill="#000" stroke="none"/>
<text transform="translate(424.8,1445.5) scale(0.781,1)" text-anchor="middle" font-size="11.85">Fr</text>
<text transform="translate(415.7,1468.1) scale(0.781,1)" text-anchor="middle" font-size="11.85">PZ1</text>
<text transform="translate(245.1,1340.0) scale(0.781,1)" text-anchor="middle" font-size="11.85">XAa2</text>
<text transform="translate(242.6,1368.6) scale(0.781,1)" text-anchor="middle" font-size="11.85">Pbp</text>
<path d="M689.7 756V1480.5" stroke-width="1.2" fill="none"/>
<polygon points="689.7,755.0 687.5,763.0 691.9,763.0" fill="#000" stroke="none"/>
<path d="M831.7 804.9V1435.2" stroke-width="1.2" fill="none" stroke-dasharray="24 5"/>
<path d="M817.7 853.7V1421H560" stroke-width="1.2" fill="none"/>
<path d="M820 771.8H861V1449.6H782.5V1435.2" stroke-width="1.2" fill="none"/>
<path d="M820 753.9H884.6V792" stroke-width="1.2" fill="none"/>
<path d="M539.2 837.2L581.6 837.2L581.6 930.5L678.0 930.5L678.0 1054.1" stroke-width="1.2" fill="none" stroke-dasharray="5 2.6"/>
<path d="M539.2 845.2L618.4 845.2L618.4 873.2L644.9 873.2" stroke-width="1.2" fill="none"/>
<path d="M652.9 873.2L665.3 873.2" stroke-width="1.2" fill="none"/>
<path d="M673.3 873.2L689.7 873.2" stroke-width="1.2" fill="none"/>
<path d="M645.0 873.2L648.9 869.4L652.7 873.2L648.9 877.1Z" stroke-width="1.2" fill="none"/>
<path d="M665.5 873.2L669.3 869.4L673.2 873.2L669.3 877.1Z" stroke-width="1.2" fill="none"/>
<circle cx="659.3" cy="873.2" r="1.7" fill="#000" stroke="none"/>
<circle cx="689.7" cy="873.2" r="1.7" fill="#000" stroke="none"/>
<path d="M661.3 804.9L661.3 829.2L689.7 829.2" stroke-width="1.2" fill="none"/>
<path d="M658.8 802.4L663.8 807.4M658.8 807.4L663.8 802.4" stroke-width="1" fill="none"/>
<circle cx="689.7" cy="829.2" r="1.7" fill="#000" stroke="none"/>
<circle cx="689.7" cy="804.9" r="1.7" fill="#000" stroke="none"/>
<circle cx="767.6" cy="804.9" r="1.7" fill="#000" stroke="none"/>
<path d="M659.3 873.2L659.3 853.7L755.3 853.7" stroke-width="1.2" fill="none"/>
<path d="M772.4 853.7L817.7 853.7L817.7 862.0" stroke-width="1.2" fill="none"/>
<circle cx="742.8" cy="853.7" r="1.7" fill="#000" stroke="none"/>
<path d="M742.8 853.7L742.8 872.0" stroke-width="1.2" fill="none"/>
<path d="M742.8 872.0L763.3 872.0" stroke-width="2.2" fill="none"/>
<path d="M763.3 872.0L763.3 862.4" stroke-width="1.2" fill="none"/>
<path d="M755.3 844.4H772.4V862.4H755.3Z" stroke-width="1.3" fill="none"/>
<path d="M755.3 856.9L772.4 856.9" stroke-width="1.2" fill="none"/>
<polygon points="770.5,858.0 763.5,856.2 763.5,859.8" fill="#000" stroke="none"/>
<path d="M760.1 858.0L770.5 858.0" stroke-width="1.2" fill="none"/>
<path d="M763.6 834.5H772.4V844.4H763.6Z" stroke-width="1.3" fill="none"/>
<polygon points="764.9,835.6 771.3,835.6 768.1,840.4" fill="#000" stroke-width="1"/>
<path d="M754.5 833.2L762.5 841.2" stroke-width="1.2" fill="none"/>
<path d="M759.6 838.0L761.2 838.8L758.0 840.4L761.2 842.0L758.0 843.6L759.6 844.4" stroke-width="1" fill="none"/>
<path d="M767.6 804.9L767.6 834.8" stroke-width="1.2" fill="none" stroke-dasharray="5 2.6"/>
<path d="M767.6 789.2L767.6 796.4" stroke-width="1.2" fill="none"/>
<text transform="translate(649.7,799.3) scale(0.781,1)" text-anchor="middle" font-size="11.85">P4</text>
<text transform="translate(699.3,799.3) scale(0.781,1)" text-anchor="middle" font-size="11.85">P1</text>
<text transform="translate(756.4,799.3) scale(0.781,1)" text-anchor="middle" font-size="11.85">Pz</text>
<text transform="translate(788.6,844.7) scale(0.781,1)" text-anchor="middle" font-size="11.85">MRV</text>
<text transform="translate(784.1,879.3) scale(0.781,1)" text-anchor="middle" font-size="11.64">300bar</text>
<text transform="translate(784.1,891.3) scale(0.781,1)" text-anchor="middle" font-size="11.64">350bar</text>
<path d="M591.5 1054.1L591.5 961.3L689.7 961.3" stroke-width="1.2" fill="none"/>
<path d="M697.7 976.5L697.7 961.3L817.7 961.3" stroke-width="1.2" fill="none"/>
<path d="M682.5 961.3L682.5 976.5" stroke-width="1.2" fill="none"/>
<circle cx="682.5" cy="961.3" r="1.7" fill="#000" stroke="none"/>
<circle cx="689.7" cy="961.3" r="1.7" fill="#000" stroke="none"/>
<circle cx="817.7" cy="961.3" r="1.7" fill="#000" stroke="none"/>
<path d="M644.5 976.5H730.5V1005.3H644.5Z" stroke-width="1.3" fill="none"/>
<path d="M627.0 983.7H644.5V998.1H627.0Z" stroke-width="1.3" fill="none"/>
<polygon points="627.0,983.7 636.5,990.9 627.0,998.1" fill="#000" stroke-width="1"/>
<path d="M730.5 983.7H748.0V998.1H730.5Z" stroke-width="1.3" fill="none"/>
<polygon points="748.0,983.7 738.5,990.9 748.0,998.1" fill="#000" stroke-width="1"/>
<path d="M627.0 1005.3L629.5 999.1L632.0 1005.3L634.5 999.1L637.0 1005.3L639.5 999.1L642.0 1005.3L644.5 999.1" stroke-width="1.1" fill="none"/>
<path d="M730.5 1005.3L733.0 999.1L735.5 1005.3L738.0 999.1L740.5 1005.3L743.0 999.1L745.5 1005.3L748.0 999.1" stroke-width="1.1" fill="none"/>
<path d="M674.9 976.5V1005.3" stroke-width="1.2" fill="none"/>
<path d="M702.7 976.5V1005.3" stroke-width="1.2" fill="none"/>
<path d="M720.5 976.5V1005.3" stroke-width="1.2" fill="none"/>
<path d="M649.7 977.5L661.7 1004.3M661.7 977.5L649.7 1004.3" stroke-width="1.5" fill="none"/>
<path d="M667.7 976.5V982.0M665.7 982.0H669.7" stroke-width="1.1" fill="none"/>
<path d="M667.7 1005.3V999.8M665.7 999.8H669.7" stroke-width="1.1" fill="none"/>
<path d="M681.5 976.5V982.0M679.5 982.0H683.5" stroke-width="1.1" fill="none"/>
<path d="M681.5 1005.3V999.8M679.5 999.8H683.5" stroke-width="1.1" fill="none"/>
<path d="M691.8 976.5V982.0M689.8 982.0H693.8" stroke-width="1.1" fill="none"/>
<path d="M691.8 1005.3V999.8M689.8 999.8H693.8" stroke-width="1.1" fill="none"/>
<path d="M713.3 976.5V982.0M711.3 982.0H715.3" stroke-width="1.1" fill="none"/>
<path d="M713.3 1005.3V999.8M711.3 999.8H715.3" stroke-width="1.1" fill="none"/>
<path d="M726.2 976.5V982.0M724.2 982.0H728.2" stroke-width="1.1" fill="none"/>
<path d="M726.2 1005.3V999.8M724.2 999.8H728.2" stroke-width="1.1" fill="none"/>
<path d="M654.8 976.5V982.0M652.8 982.0H656.8" stroke-width="1.1" fill="none"/>
<path d="M654.8 1005.3V999.8M652.8 999.8H656.8" stroke-width="1.1" fill="none"/>
<path d="M708.1 979.5V997.3" stroke-width="1.2" fill="none"/>
<polygon points="708.1,978.5 706.3,983.5 709.9,983.5" fill="#000" stroke="none"/>
<path d="M627.2 990.9L616.5 990.9L616.5 1029.3L831.7 1029.3" stroke-width="1.2" fill="none" stroke-dasharray="5 2.6"/>
<path d="M747.8 990.9L831.7 990.9" stroke-width="1.2" fill="none" stroke-dasharray="5 2.6"/>
<path d="M831.7 990.9L857.0 990.9" stroke-width="1.2" fill="none"/>
<path d="M831.7 1029.3L857.0 1029.3" stroke-width="1.2" fill="none"/>
<polygon points="857.0,990.9 849.0,988.7 849.0,993.1" fill="#000" stroke="none"/>
<polygon points="857.0,1029.3 849.0,1027.1 849.0,1031.5" fill="#000" stroke="none"/>
<path d="M697.7 1005.3L697.7 1022.4L900.0 1022.4" stroke-width="1.2" fill="none"/>
<path d="M682.5 1005.3L682.5 1037.3L900.0 1037.3" stroke-width="1.2" fill="none"/>
<path d="M760.6 999.2L760.6 1022.9" stroke-width="1.2" fill="none"/>
<path d="M760.6 999.2L817.7 999.2" stroke-width="1.2" fill="none"/>
<path d="M760.6 1010.4L817.7 1010.4" stroke-width="1.2" fill="none"/>
<circle cx="803.3" cy="999.2" r="3.3" fill="#fff" stroke-width="1.2"/>
<path d="M775.0 1002.9H790.0V1017.9H775.0Z" stroke-width="1.2" fill="none"/>
<text transform="translate(782.5,1013.7) scale(0.802,1)" text-anchor="middle" font-size="8.76">320</text>
<path d="M775.0 1004.9H790.0" stroke-width="1.5" fill="none"/>
<text transform="translate(782.5,1013.3) scale(0.781,1)" text-anchor="middle" font-size="8.24"></text>
<circle cx="760.6" cy="1010.4" r="1.7" fill="#000" stroke="none"/>
<circle cx="817.7" cy="999.2" r="1.7" fill="#000" stroke="none"/>
<circle cx="817.7" cy="1010.4" r="1.7" fill="#000" stroke="none"/>
<circle cx="760.6" cy="1022.9" r="1.7" fill="#000" stroke="none"/>
<circle cx="782.5" cy="999.2" r="1.7" fill="#000" stroke="none"/>
<circle cx="831.7" cy="990.9" r="1.7" fill="#000" stroke="none"/>
<circle cx="831.7" cy="1022.4" r="1.7" fill="#000" stroke="none"/>
<circle cx="831.7" cy="1029.3" r="1.7" fill="#000" stroke="none"/>
<circle cx="831.7" cy="1037.3" r="1.7" fill="#000" stroke="none"/>
<circle cx="697.7" cy="993.3" r="1.7" fill="#000" stroke="none"/>
<text transform="translate(642.9,1020.2) scale(0.781,1)" text-anchor="middle" font-size="11.64">DOZER/STAB</text>
<text transform="translate(737.2,1017.3) scale(0.781,1)" text-anchor="middle" font-size="11.64">ROD</text>
<text transform="translate(874.6,994.1) scale(0.781,1)" text-anchor="middle" font-size="11.85">XAd</text>
<text transform="translate(842.2,1017.6) scale(0.781,1)" text-anchor="middle" font-size="11.85">Bd</text>
<text transform="translate(874.6,1032.5) scale(0.781,1)" text-anchor="middle" font-size="11.85">XBd</text>
<path d="M884.6 789.2L884.6 943.7L900.0 943.7" stroke-width="1.2" fill="none"/>
<path d="M591.5 1019.2L591.5 1284.1" stroke-width="1.2" fill="none"/>
<path d="M678.0 1019.2L678.0 1284.1" stroke-width="1.2" fill="none" stroke-dasharray="5 2.6"/>
<path d="M760.6 1036.8L760.6 1061.3L817.7 1061.3" stroke-width="1.2" fill="none"/>
<path d="M760.6 1050.4L817.7 1050.4" stroke-width="1.2" fill="none"/>
<path d="M775.0 1042.9H790.0V1057.9H775.0Z" stroke-width="1.2" fill="none"/>
<text transform="translate(782.5,1053.7) scale(0.802,1)" text-anchor="middle" font-size="8.76">320</text>
<path d="M775.0 1044.9H790.0" stroke-width="1.5" fill="none"/>
<circle cx="803.3" cy="1061.3" r="3.3" fill="#fff" stroke-width="1.2"/>
<circle cx="760.6" cy="1036.8" r="1.7" fill="#000" stroke="none"/>
<circle cx="760.6" cy="1050.4" r="1.7" fill="#000" stroke="none"/>
<circle cx="817.7" cy="1050.4" r="1.7" fill="#000" stroke="none"/>
<circle cx="817.7" cy="1061.3" r="1.7" fill="#000" stroke="none"/>
<circle cx="782.5" cy="1061.3" r="1.7" fill="#000" stroke="none"/>
<circle cx="817.7" cy="1069.3" r="1.7" fill="#000" stroke="none"/>
<circle cx="591.5" cy="1069.3" r="1.7" fill="#000" stroke="none"/>
<path d="M591.5 1069.3L671.3 1069.3" stroke-width="1.2" fill="none"/>
<path d="M676.1 1069.3L682.5 1069.3L682.5 1077.3" stroke-width="1.2" fill="none"/>
<path d="M694.5 1077.3L694.5 1069.9L817.7 1069.9" stroke-width="1.2" fill="none"/>
<path d="M610.4 1069.3L614.0 1065.8L617.5 1069.3L614.0 1072.8Z" stroke-width="1.2" fill="none"/>
<path d="M644.5 1077.2H730.5V1106.0H644.5Z" stroke-width="1.3" fill="none"/>
<path d="M627.0 1084.4H644.5V1098.8H627.0Z" stroke-width="1.3" fill="none"/>
<polygon points="627.0,1084.4 636.5,1091.6 627.0,1098.8" fill="#000" stroke-width="1"/>
<path d="M730.5 1084.4H748.0V1098.8H730.5Z" stroke-width="1.3" fill="none"/>
<polygon points="748.0,1084.4 738.5,1091.6 748.0,1098.8" fill="#000" stroke-width="1"/>
<path d="M627.0 1106.0L629.5 1099.8L632.0 1106.0L634.5 1099.8L637.0 1106.0L639.5 1099.8L642.0 1106.0L644.5 1099.8" stroke-width="1.1" fill="none"/>
<path d="M730.5 1106.0L733.0 1099.8L735.5 1106.0L738.0 1099.8L740.5 1106.0L743.0 1099.8L745.5 1106.0L748.0 1099.8" stroke-width="1.1" fill="none"/>
<path d="M674.9 1077.2V1106.0" stroke-width="1.2" fill="none"/>
<path d="M702.7 1077.2V1106.0" stroke-width="1.2" fill="none"/>
<path d="M720.5 1077.2V1106.0" stroke-width="1.2" fill="none"/>
<path d="M649.7 1078.2L661.7 1105.0M661.7 1078.2L649.7 1105.0" stroke-width="1.5" fill="none"/>
<path d="M667.7 1077.2V1082.7M665.7 1082.7H669.7" stroke-width="1.1" fill="none"/>
<path d="M667.7 1106.0V1100.5M665.7 1100.5H669.7" stroke-width="1.1" fill="none"/>
<path d="M681.5 1077.2V1082.7M679.5 1082.7H683.5" stroke-width="1.1" fill="none"/>
<path d="M681.5 1106.0V1100.5M679.5 1100.5H683.5" stroke-width="1.1" fill="none"/>
<path d="M691.8 1077.2V1082.7M689.8 1082.7H693.8" stroke-width="1.1" fill="none"/>
<path d="M691.8 1106.0V1100.5M689.8 1100.5H693.8" stroke-width="1.1" fill="none"/>
<path d="M713.3 1077.2V1082.7M711.3 1082.7H715.3" stroke-width="1.1" fill="none"/>
<path d="M713.3 1106.0V1100.5M711.3 1100.5H715.3" stroke-width="1.1" fill="none"/>
<path d="M726.2 1077.2V1082.7M724.2 1082.7H728.2" stroke-width="1.1" fill="none"/>
<path d="M726.2 1106.0V1100.5M724.2 1100.5H728.2" stroke-width="1.1" fill="none"/>
<path d="M654.8 1077.2V1082.7M652.8 1082.7H656.8" stroke-width="1.1" fill="none"/>
<path d="M654.8 1106.0V1100.5M652.8 1100.5H656.8" stroke-width="1.1" fill="none"/>
<path d="M708.1 1080.2V1098.0" stroke-width="1.2" fill="none"/>
<polygon points="708.1,1079.2 706.3,1084.2 709.9,1084.2" fill="#000" stroke="none"/>
<path d="M747.8 1091.6L831.7 1091.6" stroke-width="1.2" fill="none" stroke-dasharray="5 2.6"/>
<path d="M627.2 1091.6L618.4 1091.6L618.4 1127.3L831.7 1127.3" stroke-width="1.2" fill="none" stroke-dasharray="5 2.6"/>
<path d="M831.7 1091.6L857.0 1091.6" stroke-width="1.2" fill="none"/>
<path d="M831.7 1127.3L857.0 1127.3" stroke-width="1.2" fill="none"/>
<polygon points="857.0,1091.6 849.0,1089.4 849.0,1093.8" fill="#000" stroke="none"/>
<polygon points="857.0,1127.3 849.0,1125.1 849.0,1129.5" fill="#000" stroke="none"/>
<path d="M694.5 1105.6L694.5 1118.0L900.0 1118.0" stroke-width="1.2" fill="none"/>
<path d="M682.5 1105.6L682.5 1136.1L900.0 1136.1" stroke-width="1.2" fill="none"/>
<circle cx="831.7" cy="1091.6" r="1.7" fill="#000" stroke="none"/>
<circle cx="831.7" cy="1118.0" r="1.7" fill="#000" stroke="none"/>
<circle cx="831.7" cy="1127.3" r="1.7" fill="#000" stroke="none"/>
<circle cx="831.7" cy="1136.1" r="1.7" fill="#000" stroke="none"/>
<circle cx="831.7" cy="1147.6" r="1.7" fill="#000" stroke="none"/>
<circle cx="831.7" cy="1160.4" r="1.7" fill="#000" stroke="none"/>
<circle cx="831.7" cy="1173.4" r="1.7" fill="#000" stroke="none"/>
<circle cx="831.7" cy="1201.2" r="1.7" fill="#000" stroke="none"/>
<circle cx="831.7" cy="1228.1" r="1.7" fill="#000" stroke="none"/>
<path d="M586.4 1142.5H606.4V1152.4H586.4Z" stroke-width="1.3" fill="none"/>
<path d="M596.3 1142.5L596.3 1152.4" stroke-width="1.2" fill="none"/>
<path d="M606.4 1144.9H614.0V1150.5H606.4Z" stroke-width="1.2" fill="none"/>
<text transform="translate(580.8,1139.7) scale(0.781,1)" text-anchor="middle" font-size="11.85">SP</text>
<path d="M614.4 1147.6L831.7 1147.6" stroke-width="1.2" fill="none" stroke-dasharray="5 2.6"/>
<path d="M586.4 1147.6L570.4 1147.6L570.4 1173.4L831.7 1173.4" stroke-width="1.2" fill="none" stroke-dasharray="5 2.6"/>
<path d="M799.6 1160.4L831.7 1160.4" stroke-width="1.2" fill="none" stroke-dasharray="5 2.6"/>
<path d="M748.1 1147.6L748.1 1173.4" stroke-width="1.2" fill="none" stroke-dasharray="5 2.6"/>
<path d="M765.7 1153.2L765.7 1147.6" stroke-width="1.2" fill="none" stroke-dasharray="5 2.6"/>
<path d="M831.7 1147.6L856.2 1147.6" stroke-width="1.2" fill="none"/>
<path d="M831.7 1160.4L857.0 1160.4" stroke-width="1.2" fill="none"/>
<polygon points="856.2,1147.6 848.2,1145.4 848.2,1149.8" fill="#000" stroke="none"/>
<polygon points="857.0,1160.4 849.0,1158.2 849.0,1162.6" fill="#000" stroke="none"/>
<path d="M742.5 1153.2H799.6V1167.3H742.5Z" stroke-width="1.3" fill="none"/>
<path d="M771.3 1153.2L771.3 1167.3" stroke-width="1.2" fill="none"/>
<path d="M776.9 1154.5H794.5V1160.4H776.9Z" stroke-width="1.1" fill="none"/>
<path d="M728.9 1159.3L730.0 1160.9L732.3 1157.7L734.6 1160.9L736.8 1157.7L739.1 1160.9L741.4 1157.7L742.5 1159.3" stroke-width="1" fill="none"/>
<path d="M728.9 1164.9L742.5 1164.9" stroke-width="1.2" fill="none"/>
<path d="M728.9 1164.9L728.9 1173.4" stroke-width="1.2" fill="none"/>
<circle cx="728.9" cy="1173.4" r="1.7" fill="#000" stroke="none"/>
<circle cx="748.1" cy="1173.4" r="1.7" fill="#000" stroke="none"/>
<polygon points="748.1,1166.5 746.3,1160.5 749.9,1160.5" fill="#000" stroke="none"/>
<path d="M831.7 1173.4L897.8 1173.4L897.8 1284.1" stroke-width="1.2" fill="none"/>
<path d="M591.5 1178.5L671.3 1178.5" stroke-width="1.2" fill="none"/>
<path d="M676.1 1178.5L682.5 1178.5L682.5 1186.5" stroke-width="1.2" fill="none"/>
<path d="M694.5 1186.5L694.5 1179.0L817.7 1179.0" stroke-width="1.2" fill="none"/>
<circle cx="591.5" cy="1178.5" r="1.7" fill="#000" stroke="none"/>
<circle cx="817.7" cy="1179.0" r="1.7" fill="#000" stroke="none"/>
<circle cx="619.7" cy="1178.5" r="3.6" fill="#fff" stroke-width="1.2"/>
<path d="M644.5 1186.8H730.5V1215.6H644.5Z" stroke-width="1.3" fill="none"/>
<path d="M627.0 1194.0H644.5V1208.4H627.0Z" stroke-width="1.3" fill="none"/>
<polygon points="627.0,1194.0 636.5,1201.2 627.0,1208.4" fill="#000" stroke-width="1"/>
<path d="M730.5 1194.0H748.0V1208.4H730.5Z" stroke-width="1.3" fill="none"/>
<polygon points="748.0,1194.0 738.5,1201.2 748.0,1208.4" fill="#000" stroke-width="1"/>
<path d="M627.0 1215.6L629.5 1209.4L632.0 1215.6L634.5 1209.4L637.0 1215.6L639.5 1209.4L642.0 1215.6L644.5 1209.4" stroke-width="1.1" fill="none"/>
<path d="M730.5 1215.6L733.0 1209.4L735.5 1215.6L738.0 1209.4L740.5 1215.6L743.0 1209.4L745.5 1215.6L748.0 1209.4" stroke-width="1.1" fill="none"/>
<path d="M674.9 1186.8V1215.6" stroke-width="1.2" fill="none"/>
<path d="M702.7 1186.8V1215.6" stroke-width="1.2" fill="none"/>
<path d="M720.5 1186.8V1215.6" stroke-width="1.2" fill="none"/>
<path d="M649.7 1187.8L661.7 1214.6M661.7 1187.8L649.7 1214.6" stroke-width="1.5" fill="none"/>
<path d="M667.7 1186.8V1192.3M665.7 1192.3H669.7" stroke-width="1.1" fill="none"/>
<path d="M667.7 1215.6V1210.1M665.7 1210.1H669.7" stroke-width="1.1" fill="none"/>
<path d="M681.5 1186.8V1192.3M679.5 1192.3H683.5" stroke-width="1.1" fill="none"/>
<path d="M681.5 1215.6V1210.1M679.5 1210.1H683.5" stroke-width="1.1" fill="none"/>
<path d="M691.8 1186.8V1192.3M689.8 1192.3H693.8" stroke-width="1.1" fill="none"/>
<path d="M691.8 1215.6V1210.1M689.8 1210.1H693.8" stroke-width="1.1" fill="none"/>
<path d="M713.3 1186.8V1192.3M711.3 1192.3H715.3" stroke-width="1.1" fill="none"/>
<path d="M713.3 1215.6V1210.1M711.3 1210.1H715.3" stroke-width="1.1" fill="none"/>
<path d="M726.2 1186.8V1192.3M724.2 1192.3H728.2" stroke-width="1.1" fill="none"/>
<path d="M726.2 1215.6V1210.1M724.2 1210.1H728.2" stroke-width="1.1" fill="none"/>
<path d="M654.8 1186.8V1192.3M652.8 1192.3H656.8" stroke-width="1.1" fill="none"/>
<path d="M654.8 1215.6V1210.1M652.8 1210.1H656.8" stroke-width="1.1" fill="none"/>
<path d="M708.1 1189.8V1207.6" stroke-width="1.2" fill="none"/>
<polygon points="708.1,1188.8 706.3,1193.8 709.9,1193.8" fill="#000" stroke="none"/>
<path d="M747.8 1201.2L831.7 1201.2" stroke-width="1.2" fill="none" stroke-dasharray="5 2.6"/>
<path d="M627.2 1201.2L618.4 1201.2L618.4 1228.1L831.7 1228.1" stroke-width="1.2" fill="none" stroke-dasharray="5 2.6"/>
<path d="M831.7 1201.2L897.8 1201.2" stroke-width="1.2" fill="none"/>
<path d="M831.7 1228.1L856.2 1228.1" stroke-width="1.2" fill="none"/>
<circle cx="897.8" cy="1201.2" r="1.7" fill="#000" stroke="none"/>
<polygon points="856.2,1228.1 848.2,1225.9 848.2,1230.3" fill="#000" stroke="none"/>
<path d="M682.5 1215.3L682.5 1221.4L831.7 1221.4" stroke-width="1.2" fill="none"/>
<path d="M829.2 1218.9L834.2 1223.9M829.2 1223.9L834.2 1218.9" stroke-width="1" fill="none"/>
<path d="M539.2 1220.1L572.8 1220.1L572.8 1234.5L694.5 1234.5L694.5 1215.3" stroke-width="1.2" fill="none"/>
<path d="M602.9 1234.5L606.4 1231.0L610.0 1234.5L606.4 1238.0Z" stroke-width="1.2" fill="none"/>
<path d="M578.4 1284.1L578.4 1245.4L716.9 1245.4L716.9 1249.7" stroke-width="1.2" fill="none" stroke-dasharray="5 2.6"/>
<path d="M711.6 1249.7H721.4V1265.7H711.6Z" stroke-width="1.3" fill="none"/>
<path d="M711.6 1257.7L721.4 1257.7" stroke-width="1.2" fill="none"/>
<path d="M721.4 1261.4L817.7 1261.4" stroke-width="1.2" fill="none"/>
<circle cx="730.5" cy="1261.4" r="1.7" fill="#000" stroke="none"/>
<circle cx="817.7" cy="1261.4" r="1.7" fill="#000" stroke="none"/>
<path d="M780.1 1278.5L787.3 1265.7L794.5 1278.5Z" stroke-width="1" fill="none"/>
<text transform="translate(787.3,1277.7) scale(0.781,1)" text-anchor="middle" font-size="8.24">B</text>
<path d="M867.4 1274.5L874.6 1261.7L881.8 1274.5Z" stroke-width="1" fill="none"/>
<text transform="translate(874.6,1273.7) scale(0.781,1)" text-anchor="middle" font-size="8.24">B</text>
<text transform="translate(740.1,1047.7) scale(0.781,1)" text-anchor="middle" font-size="11.64">HEAD</text>
<text transform="translate(841.7,1048.5) scale(0.781,1)" text-anchor="middle" font-size="11.85">Ad</text>
<text transform="translate(873.8,1093.6) scale(0.781,1)" text-anchor="middle" font-size="11.85">XAs</text>
<text transform="translate(851.3,1113.6) scale(0.781,1)" text-anchor="middle" font-size="11.85">Bs</text>
<text transform="translate(874.6,1129.7) scale(0.781,1)" text-anchor="middle" font-size="11.85">XBs</text>
<text transform="translate(850.5,1144.1) scale(0.781,1)" text-anchor="middle" font-size="11.85">As</text>
<text transform="translate(874.6,1151.7) scale(0.781,1)" text-anchor="middle" font-size="11.85">Psp</text>
<text transform="translate(875.4,1164.5) scale(0.781,1)" text-anchor="middle" font-size="11.85">XSw</text>
<text transform="translate(844.6,1182.2) scale(0.781,1)" text-anchor="middle" font-size="11.85">Dr2</text>
<text transform="translate(843.3,1196.9) scale(0.781,1)" text-anchor="middle" font-size="11.85">Xop</text>
<text transform="translate(840.9,1220.6) scale(0.781,1)" text-anchor="middle" font-size="11.85">op</text>
<text transform="translate(876.2,1231.8) scale(0.781,1)" text-anchor="middle" font-size="11.85">XBb2</text>
<text transform="translate(640.8,1118.9) scale(0.781,1)" text-anchor="middle" font-size="11.64">SWING</text>
<text transform="translate(776.6,1192.1) scale(0.781,1)" text-anchor="middle" font-size="11.64">BOOM2</text>
<text transform="translate(654.0,1262.7) scale(0.781,1)" text-anchor="middle" font-size="11.64">ARM1</text>
<path d="M639.2 1278.0H738.2V1306.8H639.2Z" stroke-width="1.3" fill="none"/>
<path d="M621.7 1285.2H639.2V1299.6H621.7Z" stroke-width="1.3" fill="none"/>
<polygon points="621.7,1285.2 631.2,1292.4 621.7,1299.6" fill="#000" stroke-width="1"/>
<path d="M738.2 1285.2H755.7V1299.6H738.2Z" stroke-width="1.3" fill="none"/>
<polygon points="755.7,1285.2 746.2,1292.4 755.7,1299.6" fill="#000" stroke-width="1"/>
<path d="M621.7 1306.8L624.2 1300.6L626.7 1306.8L629.2 1300.6L631.7 1306.8L634.2 1300.6L636.7 1306.8L639.2 1300.6" stroke-width="1.1" fill="none"/>
<path d="M738.2 1306.8L740.7 1300.6L743.2 1306.8L745.7 1300.6L748.2 1306.8L750.7 1300.6L753.2 1306.8L755.7 1300.6" stroke-width="1.1" fill="none"/>
<path d="M703.3 1278.0V1306.8" stroke-width="1.2" fill="none"/>
<path d="M671.2 1278.0V1306.8" stroke-width="1.2" fill="none"/>
<path d="M650.7 1278.0V1306.8" stroke-width="1.2" fill="none"/>
<path d="M732.2 1279.0L718.4 1305.8M718.4 1279.0L732.2 1305.8" stroke-width="1.5" fill="none"/>
<path d="M711.5 1278.0V1283.5M709.5 1283.5H713.5" stroke-width="1.1" fill="none"/>
<path d="M711.5 1306.8V1301.3M709.5 1301.3H713.5" stroke-width="1.1" fill="none"/>
<path d="M695.6 1278.0V1283.5M693.6 1283.5H697.6" stroke-width="1.1" fill="none"/>
<path d="M695.6 1306.8V1301.3M693.6 1301.3H697.6" stroke-width="1.1" fill="none"/>
<path d="M683.8 1278.0V1283.5M681.8 1283.5H685.8" stroke-width="1.1" fill="none"/>
<path d="M683.8 1306.8V1301.3M681.8 1301.3H685.8" stroke-width="1.1" fill="none"/>
<path d="M659.0 1278.0V1283.5M657.0 1283.5H661.0" stroke-width="1.1" fill="none"/>
<path d="M659.0 1306.8V1301.3M657.0 1301.3H661.0" stroke-width="1.1" fill="none"/>
<path d="M644.2 1278.0V1283.5M642.2 1283.5H646.2" stroke-width="1.1" fill="none"/>
<path d="M644.2 1306.8V1301.3M642.2 1301.3H646.2" stroke-width="1.1" fill="none"/>
<path d="M726.3 1278.0V1283.5M724.3 1283.5H728.3" stroke-width="1.1" fill="none"/>
<path d="M726.3 1306.8V1301.3M724.3 1301.3H728.3" stroke-width="1.1" fill="none"/>
<path d="M665.0 1281.0V1298.8" stroke-width="1.2" fill="none"/>
<polygon points="665.0,1280.0 663.2,1285.0 666.8,1285.0" fill="#000" stroke="none"/>
<path d="M591.5 1249.2L591.5 1271.1L676.1 1271.1" stroke-width="1.2" fill="none"/>
<path d="M676.1 1271.1L682.5 1271.1L682.5 1277.7" stroke-width="1.2" fill="none"/>
<path d="M694.5 1277.7L694.5 1261.5L711.6 1261.5" stroke-width="1.2" fill="none"/>
<path d="M700.6 1277.7L700.6 1271.6L730.5 1271.6L730.5 1261.5" stroke-width="1.2" fill="none"/>
<path d="M616.2 1271.1L619.7 1267.6L623.2 1271.1L619.7 1274.7Z" stroke-width="1.2" fill="none"/>
<circle cx="712.9" cy="1271.6" r="1.7" fill="#000" stroke="none"/>
<circle cx="730.5" cy="1261.5" r="1.7" fill="#000" stroke="none"/>
<circle cx="817.7" cy="1261.5" r="1.7" fill="#000" stroke="none"/>
<path d="M721.4 1261.5L817.7 1261.5" stroke-width="1.2" fill="none"/>
<path d="M760.1 1278.8H777.7V1288.4H760.1Z" stroke-width="1" fill="none"/>
<path d="M760.1 1278.8L777.7 1288.4" stroke-width="1" fill="none"/>
<path d="M760.1 1288.4L777.7 1278.8" stroke-width="1" fill="none"/>
<path d="M777.7 1283.3L831.7 1283.3" stroke-width="1.2" fill="none" stroke-dasharray="5 2.6"/>
<path d="M831.7 1283.3L856.2 1283.3" stroke-width="1.2" fill="none"/>
<polygon points="856.2,1283.3 849.2,1281.1 849.2,1285.5" fill="#000" stroke="none"/>
<path d="M784.5 1281.3L788.5 1285.3M784.5 1285.3L788.5 1281.3" stroke-width="1" fill="none"/>
<path d="M802.1 1281.3L806.1 1285.3M802.1 1285.3L806.1 1281.3" stroke-width="1" fill="none"/>
<path d="M822.1 1281.3L826.1 1285.3M822.1 1285.3L826.1 1281.3" stroke-width="1" fill="none"/>
<path d="M842.1 1281.3L846.1 1285.3M842.1 1285.3L846.1 1281.3" stroke-width="1" fill="none"/>
<text transform="translate(877.0,1285.5) scale(0.781,1)" text-anchor="middle" font-size="11.33">XAas</text>
<path d="M863.4 1281.2L890.6 1281.2" stroke-width="0.8" fill="none"/>
<path d="M863.4 1283.3L890.6 1283.3" stroke-width="0.8" fill="none"/>
<path d="M755.8 1292.4L831.7 1292.4" stroke-width="2.2" fill="none" stroke-dasharray="5 2.6"/>
<path d="M831.7 1292.4L900.0 1292.4" stroke-width="2.2" fill="none"/>
<circle cx="831.7" cy="1292.4" r="2" fill="#000" stroke="none"/>
<path d="M621.6 1292.4L610.4 1292.4L610.4 1328.8L831.7 1328.8" stroke-width="2.2" fill="none" stroke-dasharray="5 2.6"/>
<path d="M831.7 1328.8L855.4 1328.8" stroke-width="2.2" fill="none"/>
<polygon points="855.4,1328.8 846.4,1326.0 846.4,1331.6" fill="#000" stroke="none"/>
<circle cx="831.7" cy="1328.8" r="2" fill="#000" stroke="none"/>
<path d="M539.2 1312.8L677.7 1312.8L677.7 1249.2" stroke-width="2.2" fill="none" stroke-dasharray="5 2.6"/>
<path d="M539.2 1321.2L694.5 1321.2" stroke-width="1.2" fill="none"/>
<path d="M694.5 1306.3L694.5 1411.4L720.6 1411.4L720.6 1400.5" stroke-width="1.2" fill="none"/>
<circle cx="694.5" cy="1321.2" r="1.7" fill="#000" stroke="none"/>
<path d="M720.9 1376.5L720.9 1322.8L900.0 1322.8" stroke-width="1.2" fill="none"/>
<circle cx="760.6" cy="1322.8" r="1.7" fill="#000" stroke="none"/>
<circle cx="831.7" cy="1322.8" r="1.7" fill="#000" stroke="none"/>
<path d="M760.6 1299.3L760.6 1322.8" stroke-width="1.2" fill="none"/>
<path d="M760.6 1299.3L817.7 1299.3" stroke-width="1.2" fill="none"/>
<path d="M760.6 1310.0L817.7 1310.0" stroke-width="1.2" fill="none"/>
<circle cx="800.9" cy="1299.3" r="3.8" fill="#fff" stroke-width="1.2"/>
<path d="M775.0 1302.5H790.0V1317.5H775.0Z" stroke-width="1.2" fill="none"/>
<text transform="translate(782.5,1313.3) scale(0.802,1)" text-anchor="middle" font-size="8.76">320</text>
<path d="M775.0 1304.5H790.0" stroke-width="1.5" fill="none"/>
<path d="M539.2 1336.0L900.0 1336.0" stroke-width="1.2" fill="none"/>
<path d="M682.5 1306.3L682.5 1336.0" stroke-width="1.2" fill="none"/>
<circle cx="682.5" cy="1336.0" r="1.7" fill="#000" stroke="none"/>
<circle cx="760.6" cy="1336.0" r="1.7" fill="#000" stroke="none"/>
<circle cx="831.7" cy="1336.0" r="1.7" fill="#000" stroke="none"/>
<path d="M760.6 1336.0L760.6 1359.2L817.7 1359.2" stroke-width="1.2" fill="none"/>
<path d="M760.6 1348.4L817.7 1348.4" stroke-width="1.2" fill="none"/>
<circle cx="800.9" cy="1359.2" r="3.8" fill="#fff" stroke-width="1.2"/>
<path d="M775.0 1340.9H790.0V1355.9H775.0Z" stroke-width="1.2" fill="none"/>
<text transform="translate(782.5,1351.7) scale(0.802,1)" text-anchor="middle" font-size="8.76">320</text>
<path d="M775.0 1342.9H790.0" stroke-width="1.5" fill="none"/>
<circle cx="760.6" cy="1310.0" r="1.7" fill="#000" stroke="none"/>
<circle cx="817.7" cy="1299.3" r="1.7" fill="#000" stroke="none"/>
<circle cx="817.7" cy="1310.0" r="1.7" fill="#000" stroke="none"/>
<circle cx="782.5" cy="1299.3" r="1.7" fill="#000" stroke="none"/>
<circle cx="760.6" cy="1348.4" r="1.7" fill="#000" stroke="none"/>
<circle cx="817.7" cy="1348.4" r="1.7" fill="#000" stroke="none"/>
<circle cx="817.7" cy="1359.2" r="1.7" fill="#000" stroke="none"/>
<circle cx="782.5" cy="1359.2" r="1.7" fill="#000" stroke="none"/>
<circle cx="817.7" cy="1387.7" r="1.7" fill="#000" stroke="none"/>
<path d="M578.4 1249.2L578.4 1346.5L682.5 1346.5L682.5 1336.0" stroke-width="1.2" fill="none" stroke-dasharray="5 2.6"/>
<path d="M539.2 1363.3L644.9 1363.3L648.9 1366.9" stroke-width="1.2" fill="none" stroke-dasharray="5 2.6"/>
<path d="M562.4 1363.3L562.4 1435.2" stroke-width="1.2" fill="none" stroke-dasharray="5 2.6"/>
<circle cx="562.4" cy="1363.3" r="1.7" fill="#000" stroke="none"/>
<path d="M572.5 1377.7L643.7 1377.7" stroke-width="1.2" fill="none"/>
<path d="M654.5 1377.7L689.7 1377.7" stroke-width="1.2" fill="none"/>
<path d="M572.5 1377.7L572.5 1421.0" stroke-width="1.2" fill="none"/>
<path d="M572.5 1400.5L583.5 1400.5" stroke-width="1.2" fill="none"/>
<path d="M597.3 1400.5L609.2 1400.5" stroke-width="1.2" fill="none"/>
<path d="M587.9 1374.7L593.9 1380.7M587.9 1380.7L593.9 1374.7" stroke-width="1" fill="none"/>
<circle cx="609.2" cy="1377.7" r="1.7" fill="#000" stroke="none"/>
<circle cx="689.7" cy="1377.7" r="1.7" fill="#000" stroke="none"/>
<circle cx="609.2" cy="1390.1" r="1.7" fill="#000" stroke="none"/>
<circle cx="572.5" cy="1400.5" r="1.7" fill="#000" stroke="none"/>
<circle cx="572.5" cy="1421.0" r="1.7" fill="#000" stroke="none"/>
<path d="M643.7 1372.5H654.5V1395.3H643.7Z" stroke-width="1.3" fill="none"/>
<path d="M643.7 1380.0L654.5 1380.0" stroke-width="1.2" fill="none"/>
<path d="M643.7 1387.7L654.5 1387.7" stroke-width="1.2" fill="none"/>
<path d="M645.7 1395.3H652.1V1402.9H645.7Z" stroke-width="1.2" fill="none"/>
<path d="M649.2 1366.9L650.8 1367.6L647.6 1369.0L650.8 1370.4L647.6 1371.8L649.2 1372.5" stroke-width="1" fill="none"/>
<path d="M583.5 1393.7H597.3V1407.2H583.5Z" stroke-width="1.3" fill="none"/>
<path d="M583.5 1397.3L597.3 1397.3" stroke-width="1.5" fill="none"/>
<path d="M609.2 1390.1L590.9 1390.1L590.9 1393.7" stroke-width="1.2" fill="none" stroke-dasharray="5 2.6"/>
<path d="M590.9 1407.2L592.5 1407.8L589.3 1408.9L592.5 1410.0L589.3 1411.1L590.9 1411.7" stroke-width="1" fill="none"/>
<path d="M609.2 1377.7V1497.8" stroke-width="1.2" fill="none"/>
<polygon points="609.2,1497.8 607.0,1489.8 611.4,1489.8" fill="#000" stroke="none"/>
<path d="M648.9 1402.9L648.9 1435.2" stroke-width="1.2" fill="none" stroke-dasharray="5 2.6"/>
<path d="M648.9 1435.2L648.9 1497.8" stroke-width="1.2" fill="none"/>
<polygon points="648.9,1497.8 646.7,1489.8 651.1,1489.8" fill="#000" stroke="none"/>
<circle cx="562.4" cy="1435.2" r="1.7" fill="#000" stroke="none"/>
<circle cx="609.2" cy="1435.2" r="1.7" fill="#000" stroke="none"/>
<circle cx="648.9" cy="1435.2" r="1.7" fill="#000" stroke="none"/>
<circle cx="689.7" cy="1435.2" r="1.7" fill="#000" stroke="none"/>
<circle cx="782.5" cy="1435.2" r="1.7" fill="#000" stroke="none"/>
<path d="M708.4 1376.5H732.6V1400.5H708.4Z" stroke-width="1.2" fill="none"/>
<circle cx="720.6" cy="1388.9" r="4.802305106451096" fill="none" stroke-width="1.3"/>
<path d="M716.9 1392.5L720.6 1395.7L724.1 1392.5" stroke-width="1.1" fill="none"/>
<path d="M732.6 1388.5L817.7 1388.5" stroke-width="1.2" fill="none" stroke-dasharray="5 2.6"/>
<path d="M728.1 1400.5L728.1 1411.4L782.5 1411.4L782.5 1435.2" stroke-width="1.2" fill="none" stroke-dasharray="5 2.6"/>
<path d="M782.5 1435.2L782.5 1449.6" stroke-width="1.2" fill="none"/>
<path d="M562.4 1435.2L562.4 1463.4L897.8 1463.4L897.8 1249.2" stroke-width="1.2" fill="none"/>
<text transform="translate(621.3,1495.4) scale(0.781,1)" text-anchor="middle" font-size="11.85">C3</text>
<text transform="translate(646.9,1508.0) scale(0.781,1)" text-anchor="middle" font-size="11.85">XAk2</text>
<text transform="translate(574.9,1447.7) scale(0.781,1)" text-anchor="middle" font-size="11.85">Dr3</text>
<text transform="translate(599.5,1445.8) scale(0.781,1)" text-anchor="middle" font-size="11.85">Fl</text>
<text transform="translate(700.9,1446.6) scale(0.781,1)" text-anchor="middle" font-size="11.85">Ck1</text>
<text transform="translate(769.2,1445.5) scale(0.781,1)" text-anchor="middle" font-size="11.85">Pol</text>
<text transform="translate(632.8,1392.6) scale(0.781,1)" text-anchor="middle" font-size="11.85">BC</text>
<text transform="translate(749.7,1367.7) scale(0.781,1)" text-anchor="middle" font-size="11.64">ANTI-</text>
<text transform="translate(752.1,1380.9) scale(0.781,1)" text-anchor="middle" font-size="11.64">CREEP</text>
<text transform="translate(741.7,1318.0) scale(0.781,1)" text-anchor="middle" font-size="11.64">ROD</text>
<text transform="translate(742.5,1346.2) scale(0.781,1)" text-anchor="middle" font-size="11.64">HEAD</text>
<text transform="translate(843.3,1318.0) scale(0.781,1)" text-anchor="middle" font-size="11.85">Ba1</text>
<text transform="translate(877.0,1332.1) scale(0.781,1)" text-anchor="middle" font-size="11.85">XAa1</text>
<text transform="translate(842.5,1346.2) scale(0.781,1)" text-anchor="middle" font-size="11.85">Aa1</text>
<path d="M535.5 1312V1363.4H562" stroke-width="1.2" fill="none" stroke-dasharray="5 2.6"/>
<path d="M860.2 1173.7L897.6 1173.7" stroke-width="1.2" fill="none"/>
<circle cx="897.6" cy="1200.8" r="1.7" fill="#000" stroke="none"/>
<path d="M897.6 1200.8L983.7 1200.8L983.7 930.3" stroke-width="1.2" fill="none"/>
<path d="M983.7 898.6L983.7 926.6" stroke-width="1.2" fill="none"/>
<circle cx="983.7" cy="943.9" r="1.7" fill="#000" stroke="none"/>
<circle cx="983.7" cy="961.8" r="1.7" fill="#000" stroke="none"/>
<path d="M944.4 898.6L944.4 928.5L980.2 928.5" stroke-width="1.2" fill="none"/>
<path d="M987.0 928.5L1009.5 928.5L1009.5 1136.3L860.2 1136.3" stroke-width="1.2" fill="none"/>
<path d="M1023.6 898.6L1023.6 1118.1L860.2 1118.1" stroke-width="1.2" fill="none"/>
<path d="M884.5 898.6L884.5 943.9L1131.1 943.9" stroke-width="1.2" fill="none"/>
<circle cx="1131.1" cy="943.9" r="1.7" fill="#000" stroke="none"/>
<path d="M901.6 898.6L901.6 961.8L1423.3 961.8" stroke-width="1.2" fill="none"/>
<path d="M1423.3 979.4L942.8 979.4L942.8 1037.4L860.2 1037.4" stroke-width="1.2" fill="none"/>
<path d="M1423.3 996.2L959.9 996.2L959.9 1022.5L860.2 1022.5" stroke-width="1.2" fill="none"/>
<path d="M1117.0 898.6L1117.0 1013.3" stroke-width="2.2" fill="none"/>
<path d="M1117.0 1013.3L1423.3 1013.3" stroke-width="1.2" fill="none"/>
<path d="M1099.4 898.6L1099.4 1030.6L1423.3 1030.6" stroke-width="1.2" fill="none"/>
<path d="M1131.1 898.6L1131.1 1047.7L1423.3 1047.7" stroke-width="1.2" fill="none"/>
<path d="M1153.6 898.6L1153.6 910.3L1389.4 910.3L1389.4 898.6" stroke-width="1.2" fill="none"/>
<path d="M1298.1 910.3L1298.1 943.9L1423.3 943.9" stroke-width="1.2" fill="none"/>
<path d="M832.0 1292.1L904.3 1292.1" stroke-width="2.2" fill="none"/>
<path d="M904.3 1292.1L955.8 1292.1" stroke-width="1.6" fill="none"/>
<polygon points="958.5,1292.1 950.5,1289.9 950.5,1294.3" fill="#000" stroke="none"/>
<path d="M904.3 1272.6H943.6V1307.3H904.3Z" stroke-width="1.3" fill="none"/>
<path d="M909.2 1277.5H938.7V1302.4H909.2Z" stroke-width="1.1" fill="none"/>
<path d="M913.8 1287.0H923.3V1297.0H913.8Z" stroke-width="1.1" fill="none"/>
<path d="M923.3 1297.0L936.8 1297.0L936.8 1292.1" stroke-width="1.2" fill="none" stroke-dasharray="5 2.6"/>
<circle cx="924.7" cy="1277.5" r="1.3549033953879088" fill="none" stroke-width="1"/>
<text transform="translate(972.6,1295.6) scale(0.781,1)" text-anchor="middle" font-size="11.85">XBa1</text>
<text transform="translate(922.5,1314.6) scale(0.781,1)" text-anchor="middle" font-size="7.73" font-weight="bold">ø1.2</text>
<path d="M917.1 1266.6L924.7 1253.1L932.8 1266.6Z" stroke-width="1" fill="none"/>
<text transform="translate(924.7,1265.8) scale(0.781,1)" text-anchor="middle" font-size="8.24">C</text>
<path d="M1024.4 1230.1H1058.2V1320.6H1024.4Z" stroke-width="1.2" fill="none"/>
<path d="M1035.8 1207.6H1047.4V1282.1H1035.8Z" stroke-width="1.2" fill="none"/>
<path d="M1030.3 1282.1H1052.6V1302.4H1030.3Z" stroke-width="1.2" fill="none"/>
<path d="M1024.4 1287.0L1058.2 1287.0" stroke-width="1.2" fill="none"/>
<path d="M1024.4 1297.8L1058.2 1297.8" stroke-width="1.2" fill="none"/>
<text transform="translate(1068.3,1271.8) scale(0.781,1)" text-anchor="middle" font-size="11.64">ARM</text>
<path d="M1024.4 1236.8L1000.5 1236.8L1000.5 1322.2L860.2 1322.2" stroke-width="1.2" fill="none"/>
<path d="M1024.4 1314.6L1012.7 1314.6L1012.7 1335.7L860.2 1335.7" stroke-width="1.2" fill="none"/>
<path d="M1463.9 1080.6H1722.5A11.9 11.9 0 0 1 1722.5 1104.5H1463.9A11.9 11.9 0 0 1 1463.9 1080.6Z" stroke-width="1.2" fill="none"/>
<text transform="translate(1427.1,1089.6) scale(0.781,1)" text-anchor="middle" font-size="11.64">CENTER</text>
<text transform="translate(1426.3,1102.6) scale(0.781,1)" text-anchor="middle" font-size="11.64">JOINT</text>
<text transform="translate(1764.5,1076.9) scale(0.781,1)" text-anchor="middle" font-size="11.64">TOP ROTARY</text>
<text transform="translate(1766.3,1116.7) scale(0.781,1)" text-anchor="middle" font-size="11.64">MAIN ROTARY</text>
<text transform="translate(1484.0,1077.4) scale(0.781,1)" text-anchor="middle" font-size="11.85">5</text>
<text transform="translate(1501.6,1077.4) scale(0.781,1)" text-anchor="middle" font-size="11.85">6</text>
<text transform="translate(1621.9,1077.4) scale(0.781,1)" text-anchor="middle" font-size="11.85">2</text>
<text transform="translate(1656.6,1077.4) scale(0.781,1)" text-anchor="middle" font-size="11.85">1</text>
<text transform="translate(1674.2,1077.4) scale(0.781,1)" text-anchor="middle" font-size="11.85">3</text>
<text transform="translate(1691.0,1077.4) scale(0.781,1)" text-anchor="middle" font-size="11.85">4</text>
<text transform="translate(1519.2,1117.2) scale(0.781,1)" text-anchor="middle" font-size="11.85">1</text>
<text transform="translate(1536.6,1117.2) scale(0.781,1)" text-anchor="middle" font-size="11.85">3</text>
<text transform="translate(1553.6,1117.2) scale(0.781,1)" text-anchor="middle" font-size="11.85">4</text>
<text transform="translate(1570.4,1117.2) scale(0.781,1)" text-anchor="middle" font-size="11.85">2</text>
<text transform="translate(1588.0,1117.2) scale(0.781,1)" text-anchor="middle" font-size="11.85">5</text>
<text transform="translate(1605.1,1117.2) scale(0.781,1)" text-anchor="middle" font-size="11.85">6</text>
<text transform="translate(1639.5,1117.2) scale(0.781,1)" text-anchor="middle" font-size="11.85">0</text>
<text transform="translate(1708.6,1117.2) scale(0.781,1)" text-anchor="middle" font-size="11.85">7</text>
<text transform="translate(1485.9,1092.0) scale(0.781,1)" text-anchor="middle" font-size="8.24">3</text>
<text transform="translate(1485.9,1102.3) scale(0.781,1)" text-anchor="middle" font-size="8.24">8</text>
<path d="M1483.7 1092.8L1488.1 1092.8" stroke-width="0.8" fill="none"/>
<text transform="translate(1503.5,1092.0) scale(0.781,1)" text-anchor="middle" font-size="8.24">3</text>
<text transform="translate(1503.5,1102.3) scale(0.781,1)" text-anchor="middle" font-size="8.24">8</text>
<path d="M1501.3 1092.8L1505.7 1092.8" stroke-width="0.8" fill="none"/>
<text transform="translate(1521.1,1098.3) scale(0.781,1)" text-anchor="middle" font-size="8.76">1</text>
<text transform="translate(1538.7,1098.3) scale(0.781,1)" text-anchor="middle" font-size="8.76">1</text>
<text transform="translate(1554.4,1092.0) scale(0.781,1)" text-anchor="middle" font-size="8.24">3</text>
<text transform="translate(1554.4,1102.3) scale(0.781,1)" text-anchor="middle" font-size="8.24">4</text>
<path d="M1552.3 1092.8L1556.6 1092.8" stroke-width="0.8" fill="none"/>
<text transform="translate(1572.6,1092.0) scale(0.781,1)" text-anchor="middle" font-size="8.24">3</text>
<text transform="translate(1572.6,1102.3) scale(0.781,1)" text-anchor="middle" font-size="8.24">4</text>
<path d="M1570.4 1092.8L1574.8 1092.8" stroke-width="0.8" fill="none"/>
<text transform="translate(1588.9,1092.0) scale(0.781,1)" text-anchor="middle" font-size="8.24">3</text>
<text transform="translate(1588.9,1102.3) scale(0.781,1)" text-anchor="middle" font-size="8.24">8</text>
<path d="M1586.7 1092.8L1591.0 1092.8" stroke-width="0.8" fill="none"/>
<text transform="translate(1606.5,1092.0) scale(0.781,1)" text-anchor="middle" font-size="8.24">3</text>
<text transform="translate(1606.5,1102.3) scale(0.781,1)" text-anchor="middle" font-size="8.24">8</text>
<path d="M1604.3 1092.8L1608.6 1092.8" stroke-width="0.8" fill="none"/>
<text transform="translate(1624.1,1092.0) scale(0.781,1)" text-anchor="middle" font-size="8.24">1</text>
<text transform="translate(1624.1,1102.3) scale(0.781,1)" text-anchor="middle" font-size="8.24">4</text>
<path d="M1621.9 1092.8L1626.3 1092.8" stroke-width="0.8" fill="none"/>
<text transform="translate(1641.2,1092.0) scale(0.781,1)" text-anchor="middle" font-size="8.24">3</text>
<text transform="translate(1641.2,1102.3) scale(0.781,1)" text-anchor="middle" font-size="8.24">4</text>
<path d="M1639.0 1092.8L1643.3 1092.8" stroke-width="0.8" fill="none"/>
<text transform="translate(1658.0,1092.0) scale(0.781,1)" text-anchor="middle" font-size="8.24">3</text>
<text transform="translate(1658.0,1102.3) scale(0.781,1)" text-anchor="middle" font-size="8.24">8</text>
<path d="M1655.8 1092.8L1660.1 1092.8" stroke-width="0.8" fill="none"/>
<text transform="translate(1675.0,1092.0) scale(0.781,1)" text-anchor="middle" font-size="8.24">3</text>
<text transform="translate(1675.0,1102.3) scale(0.781,1)" text-anchor="middle" font-size="8.24">8</text>
<path d="M1672.9 1092.8L1677.2 1092.8" stroke-width="0.8" fill="none"/>
<text transform="translate(1692.6,1092.0) scale(0.781,1)" text-anchor="middle" font-size="8.24">1</text>
<text transform="translate(1692.6,1102.3) scale(0.781,1)" text-anchor="middle" font-size="8.24">4</text>
<path d="M1690.5 1092.8L1694.8 1092.8" stroke-width="0.8" fill="none"/>
<text transform="translate(1709.4,1092.0) scale(0.781,1)" text-anchor="middle" font-size="8.24">3</text>
<text transform="translate(1709.4,1102.3) scale(0.781,1)" text-anchor="middle" font-size="8.24">4</text>
<path d="M1707.3 1092.8L1711.6 1092.8" stroke-width="0.8" fill="none"/>
<path d="M1693.9 1078.6L1697.9 1082.6M1693.9 1082.6L1697.9 1078.6" stroke-width="1" fill="none"/>
<path d="M1693.9 1102.5L1697.9 1106.5M1693.9 1106.5L1697.9 1102.5" stroke-width="1" fill="none"/>
<path d="M1198.6 1047.6L1713.0 1047.6L1713.0 1128.1L1727.1 1128.1L1727.1 1474.7" stroke-width="1.2" fill="none"/>
<circle cx="1727.1" cy="1474.7" r="1.7" fill="#000" stroke="none"/>
<path d="M1408.7 1386.3L1408.7 1143.5L1645.0 1143.5L1645.0 1038.6" stroke-width="1.2" fill="none"/>
<path d="M1408.7 1386.3L1449.3 1386.3L1449.3 1376.0" stroke-width="1.2" fill="none"/>
<path d="M1332.8 1180.4L1475.9 1180.4L1475.9 1157.1L1662.0 1157.1L1662.0 1038.6" stroke-width="1.2" fill="none"/>
<circle cx="1332.8" cy="1180.4" r="1.7" fill="#000" stroke="none"/>
<path d="M1489.9 1038.6L1489.9 1197.2L1373.4 1197.2L1373.4 1240.5" stroke-width="1.2" fill="none"/>
<path d="M1507.6 1038.6L1507.6 1214.8L1391.6 1214.8L1391.6 1240.5" stroke-width="1.2" fill="none"/>
<path d="M1524.6 1038.6L1524.6 1257.3L1627.6 1257.3L1627.6 1287.1L1434.4 1287.1L1434.4 1311.0" stroke-width="1.2" fill="none"/>
<path d="M1541.4 1038.6L1541.4 1243.2L1641.7 1243.2L1641.7 1363.8L1434.4 1363.8L1434.4 1324.5" stroke-width="1.2" fill="none"/>
<path d="M1558.5 1038.6L1558.5 1228.3L1655.2 1228.3L1655.2 1460.3L1373.4 1460.3L1373.4 1427.0L1301.6 1427.0" stroke-width="1.2" fill="none"/>
<circle cx="1301.6" cy="1427.0" r="1.7" fill="#000" stroke="none"/>
<path d="M1576.1 1038.6L1576.1 1214.8L1669.3 1214.8L1669.3 1446.2L1381.0 1446.2L1381.0 1416.7L1313.8 1416.7" stroke-width="1.2" fill="none"/>
<circle cx="1313.8" cy="1416.7" r="1.7" fill="#000" stroke="none"/>
<path d="M1593.5 1038.6L1593.5 1199.9" stroke-width="2.2" fill="none"/>
<path d="M1593.5 1199.9L1684.5 1199.9L1684.5 1322.6L1823.3 1322.6" stroke-width="1.2" fill="none"/>
<path d="M1610.5 1038.6L1610.5 1186.3L1698.6 1186.3L1698.6 1308.3" stroke-width="1.2" fill="none"/>
<path d="M1698.6 1308.3L1823.3 1308.3" stroke-width="2.2" fill="none"/>
<path d="M1627.6 1038.6L1627.6 1171.4L1741.7 1171.4L1741.7 1338.1" stroke-width="1.2" fill="none"/>
<path d="M1679.6 1038.6L1679.6 1157.1L1755.5 1157.1" stroke-width="1.2" fill="none"/>
<path d="M1755.5 1157.1L1755.5 1180.4L1823.3 1180.4" stroke-width="1.8" fill="none"/>
<circle cx="1789.4" cy="1180.4" r="1.7" fill="#000" stroke="none"/>
<path d="M1789.4 1180.4L1789.4 1486.6" stroke-width="1.2" fill="none"/>
<path d="M1357.2 1268.4L1823.3 1268.4" stroke-width="1.2" fill="none"/>
<path d="M1357.2 1271.1L1823.3 1271.1" stroke-width="1.2" fill="none"/>
<path d="M1507.6 1376.0L1507.6 1474.7L1741.7 1474.7L1741.7 1404.5" stroke-width="1.2" fill="none"/>
<path d="M1417.3 1274.4L1615.1 1274.4L1615.1 1376.0L1417.3 1376.0L1417.3 1274.4" stroke-width="1.2" fill="none" stroke-dasharray="11 6"/>
<circle cx="1434.4" cy="1317.8" r="11.381188521258434" fill="none" stroke-width="1.4"/>
<polygon points="1429.0,1308.3 1439.8,1308.3 1434.4,1312.3" fill="#000" stroke-width="1"/>
<polygon points="1429.0,1327.2 1439.8,1327.2 1434.4,1323.2" fill="#000" stroke-width="1"/>
<path d="M1418.1 1329.4L1446.1 1306.9" stroke-width="1.4" fill="none"/>
<path d="M1446.1 1310.4L1493.2 1310.4" stroke-width="1.2" fill="none"/>
<path d="M1446.1 1312.6L1493.2 1312.6" stroke-width="1.2" fill="none"/>
<path d="M1493.2 1306.9H1504.9V1315.9H1493.2Z" stroke-width="1.2" fill="none"/>
<path d="M1514.9 1274.4L1514.9 1376.0" stroke-width="1.2" fill="none"/>
<path d="M1512.4 1271.9L1517.4 1276.9M1512.4 1276.9L1517.4 1271.9" stroke-width="1" fill="none"/>
<path d="M1512.4 1373.5L1517.4 1378.5M1512.4 1378.5L1517.4 1373.5" stroke-width="1" fill="none"/>
<path d="M1446.8 1271.9L1451.8 1276.9M1446.8 1276.9L1451.8 1271.9" stroke-width="1" fill="none"/>
<circle cx="1514.9" cy="1287.1" r="1.7" fill="#000" stroke="none"/>
<circle cx="1514.9" cy="1363.8" r="1.7" fill="#000" stroke="none"/>
<path d="M1449.3 1274.4L1449.3 1376.0" stroke-width="1.2" fill="none" stroke-dasharray="5 2.6"/>
<path d="M1467.7 1281.2L1608.6 1281.2L1608.6 1324.5L1603.8 1324.5" stroke-width="1.2" fill="none" stroke-dasharray="5 2.6"/>
<path d="M1467.7 1281.2L1467.7 1319.1L1443.9 1319.1L1443.9 1351.6L1502.1 1351.6L1502.1 1321.8L1533.3 1321.8" stroke-width="1.2" fill="none" stroke-dasharray="5 2.6"/>
<path d="M1474.2 1293.4L1503.5 1293.4" stroke-width="1.2" fill="none" stroke-dasharray="5 2.6"/>
<path d="M1474.2 1293.4L1474.2 1344.9L1492.1 1344.9L1492.1 1313.7" stroke-width="1.2" fill="none" stroke-dasharray="5 2.6"/>
<path d="M1460.1 1323.2H1481.8V1335.4H1460.1Z" stroke-width="1.5" fill="none"/>
<path d="M1471.0 1323.2L1471.0 1335.4" stroke-width="1.2" fill="none"/>
<path d="M1473.7 1334.8L1480.5 1324.0" stroke-width="1.2" fill="none"/>
<path d="M1452.0 1327.2L1460.1 1327.2" stroke-width="1.1" fill="none"/>
<path d="M1452.0 1331.3L1460.1 1331.3" stroke-width="1.1" fill="none"/>
<circle cx="1449.8" cy="1326.7" r="1.7" fill="#000" stroke="none"/>
<circle cx="1445.2" cy="1332.7" r="1.7" fill="#000" stroke="none"/>
<circle cx="1474.2" cy="1344.9" r="1.7" fill="#000" stroke="none"/>
<circle cx="1481.3" cy="1353.5" r="1.7" fill="#000" stroke="none"/>
<circle cx="1449.8" cy="1353.5" r="1.7" fill="#000" stroke="none"/>
<path d="M1481.3 1335.4L1481.3 1353.5" stroke-width="1.2" fill="none"/>
<path d="M1533.3 1287.1L1533.3 1363.8" stroke-width="1.2" fill="none"/>
<circle cx="1533.3" cy="1287.1" r="1.7" fill="#000" stroke="none"/>
<circle cx="1533.3" cy="1363.8" r="1.7" fill="#000" stroke="none"/>
<path d="M1530.1 1302.3H1538.7V1311.8H1530.1Z" stroke-width="1.8" fill="none"/>
<path d="M1530.1 1338.1H1538.7V1347.6H1530.1Z" stroke-width="1.8" fill="none"/>
<path d="M1530.1 1306.9L1522.5 1306.9L1522.5 1300.1L1533.3 1300.1" stroke-width="1.1" fill="none"/>
<path d="M1530.1 1343.0L1522.5 1343.0L1522.5 1349.5L1533.3 1349.5" stroke-width="1.1" fill="none"/>
<path d="M1507.6 1376.0L1507.6 1329.4L1533.3 1329.4" stroke-width="1.8" fill="none"/>
<path d="M1502.1 1321.8L1546.9 1321.8" stroke-width="2" fill="none" stroke-dasharray="5 2.6"/>
<path d="M1553.6 1296.1H1572.6V1355.7H1553.6Z" stroke-width="1.2" fill="none"/>
<path d="M1553.6 1308.3L1572.6 1308.3" stroke-width="1.1" fill="none"/>
<path d="M1553.6 1343.5L1572.6 1343.5" stroke-width="1.1" fill="none"/>
<path d="M1553.6 1320.5L1572.6 1320.5" stroke-width="1.1" fill="none"/>
<path d="M1553.6 1331.3L1572.6 1331.3" stroke-width="1.1" fill="none"/>
<path d="M1557.7 1316.4H1569.1V1334.0H1557.7Z" stroke-width="1.1" fill="none"/>
<path d="M1548.2 1287.1L1548.2 1321.8L1579.9 1321.8L1579.9 1287.1" stroke-width="1.8" fill="none"/>
<path d="M1548.2 1363.8L1548.2 1327.8L1579.9 1327.8L1579.9 1363.8" stroke-width="1.8" fill="none"/>
<path d="M1587.5 1314.2H1603.8V1335.4H1587.5Z" stroke-width="1.2" fill="none"/>
<circle cx="1595.6" cy="1324.5" r="2.4388261116982357" fill="none" stroke-width="1.1"/>
<path d="M1595.6 1287.1L1595.6 1363.8" stroke-width="1.2" fill="none" stroke-dasharray="5 2.6"/>
<circle cx="1595.6" cy="1287.1" r="1.7" fill="#000" stroke="none"/>
<circle cx="1595.6" cy="1363.8" r="1.7" fill="#000" stroke="none"/>
<circle cx="1579.9" cy="1287.1" r="1.7" fill="#000" stroke="none"/>
<circle cx="1579.9" cy="1363.8" r="1.7" fill="#000" stroke="none"/>
<path d="M1569.3 1287.9L1571.8 1285.5L1574.2 1287.9L1571.8 1290.4Z" stroke-width="1" fill="none"/>
<path d="M1569.3 1363.3L1571.8 1360.8L1574.2 1363.3L1571.8 1365.7Z" stroke-width="1" fill="none"/>
<text transform="translate(1514.9,1264.9) scale(0.781,1)" text-anchor="middle" font-size="11.64">MB</text>
<text transform="translate(1533.8,1296.1) scale(0.781,1)" text-anchor="middle" font-size="10.81">370BAR</text>
<text transform="translate(1533.8,1359.8) scale(0.781,1)" text-anchor="middle" font-size="10.81">370BAR</text>
<text transform="translate(1625.4,1297.4) scale(0.781,1)" text-anchor="middle" font-size="11.85">B</text>
<text transform="translate(1626.8,1309.1) scale(0.781,1)" text-anchor="middle" font-size="10.3">(REV)</text>
<text transform="translate(1626.8,1349.7) scale(0.781,1)" text-anchor="middle" font-size="10.3">(FWD)</text>
<text transform="translate(1625.4,1361.1) scale(0.781,1)" text-anchor="middle" font-size="11.85">A</text>
<text transform="translate(1456.9,1385.5) scale(0.781,1)" text-anchor="middle" font-size="11.85">T</text>
<text transform="translate(1500.2,1385.5) scale(0.781,1)" text-anchor="middle" font-size="11.85">TB</text>
<text transform="translate(1523.3,1385.5) scale(0.781,1)" text-anchor="middle" font-size="11.85">MA</text>
<text transform="translate(1580.7,1384.7) scale(0.781,1)" text-anchor="middle" font-size="11.64">TRAVEL MOTOR</text>
<path d="M1362.6 1369.2L1362.6 1240.5L1397.8 1240.5L1397.8 1369.2" stroke-width="1.2" fill="none" stroke-dasharray="11 6"/>
<path d="M1362.6 1369.2L1397.8 1369.2" stroke-width="1.2" fill="none"/>
<path d="M1362.6 1240.5L1397.8 1240.5" stroke-width="1.2" fill="none"/>
<text transform="translate(1367.5,1237.3) scale(0.781,1)" text-anchor="middle" font-size="11.85">P1</text>
<text transform="translate(1400.0,1237.3) scale(0.781,1)" text-anchor="middle" font-size="11.85">P2</text>
<text transform="translate(1401.9,1350.8) scale(0.781,1)" text-anchor="middle" font-size="11.33">E</text>
<text transform="translate(1354.5,1328.6) scale(0.781,1)" text-anchor="middle" font-size="11.85">J</text>
<text transform="translate(1354.5,1344.0) scale(0.781,1)" text-anchor="middle" font-size="11.85">M</text>
<path d="M1360.1 1322.8L1365.1 1327.8M1360.1 1327.8L1365.1 1322.8" stroke-width="1" fill="none"/>
<path d="M1360.1 1336.4L1365.1 1341.4M1360.1 1341.4L1365.1 1336.4" stroke-width="1" fill="none"/>
<path d="M1368.5 1245.1L1368.5 1321.8" stroke-width="1.2" fill="none"/>
<path d="M1365.8 1245.1L1371.3 1245.1" stroke-width="1.2" fill="none"/>
<path d="M1365.8 1321.8L1371.3 1321.8" stroke-width="1.2" fill="none"/>
<path d="M1385.9 1259.5L1385.9 1336.7" stroke-width="1.2" fill="none"/>
<path d="M1383.2 1259.5L1388.6 1259.5" stroke-width="1.2" fill="none"/>
<path d="M1383.2 1336.7L1388.6 1336.7" stroke-width="1.2" fill="none"/>
<path d="M1368.5 1306.9L1417.3 1306.9" stroke-width="1.2" fill="none"/>
<path d="M1368.5 1309.1L1417.3 1309.1" stroke-width="1.2" fill="none"/>
<path d="M1373.4 1240.5L1373.4 1306.9" stroke-width="1.6" fill="none"/>
<path d="M1362.6 1325.3L1373.4 1325.3L1373.4 1309.1" stroke-width="1.2" fill="none" stroke-dasharray="5 2.6"/>
<path d="M1362.6 1338.9L1392.4 1338.9L1392.4 1273.0" stroke-width="1.2" fill="none" stroke-dasharray="5 2.6"/>
<path d="M1383.2 1277.7L1388.6 1277.7" stroke-width="2.5" fill="none"/>
<path d="M1365.8 1294.7L1371.3 1294.7" stroke-width="2.5" fill="none"/>
<path d="M1408.7 1355.2L1391.6 1355.2" stroke-width="1.2" fill="none"/>
<circle cx="1408.7" cy="1355.2" r="1.7" fill="#000" stroke="none"/>
<path d="M1391.6 1355.2L1391.6 1363.8" stroke-width="1.2" fill="none" stroke-dasharray="5 2.6"/>
<path d="M1388.3 1362.5L1388.3 1366.0L1394.6 1366.0L1394.6 1362.5" stroke-width="1.1" fill="none"/>
<path d="M1330.1 1260.8L1356.6 1260.8L1356.6 1276.3L1350.4 1266.3L1330.1 1263.6Z" stroke-width="1.2" fill="none"/>
<circle cx="1301.1" cy="1124.8" r="7.587459014172289" fill="none" stroke-width="1.3"/>
<circle cx="1301.1" cy="1139.7" r="7.587459014172289" fill="none" stroke-width="1.3"/>
<circle cx="1385.1" cy="1124.8" r="7.587459014172289" fill="none" stroke-width="1.3"/>
<circle cx="1385.1" cy="1139.7" r="7.587459014172289" fill="none" stroke-width="1.3"/>
<path d="M1326.0 1120.5H1359.9V1145.7H1326.0Z" stroke-width="1.3" fill="none"/>
<path d="M1308.4 1132.9L1326.0 1132.9" stroke-width="2" fill="none"/>
<path d="M1359.9 1132.9L1377.5 1132.9" stroke-width="2" fill="none"/>
<path d="M1328.7 1125.4L1357.2 1125.4" stroke-width="0.9" fill="none"/>
<path d="M1328.7 1129.4L1357.2 1129.4" stroke-width="0.9" fill="none"/>
<path d="M1328.7 1133.5L1357.2 1133.5" stroke-width="0.9" fill="none"/>
<path d="M1328.7 1137.6L1357.2 1137.6" stroke-width="0.9" fill="none"/>
<path d="M1328.7 1141.6L1357.2 1141.6" stroke-width="0.9" fill="none"/>
<path d="M1342.8 1120.5L1342.8 1145.7" stroke-width="1.2" fill="none"/>
<path d="M1327.9 1151.6H1340.4V1167.9H1327.9Z" stroke-width="1.2" fill="none"/>
<path d="M1329.5 1153.3L1332.2 1166.0L1334.9 1153.3L1337.7 1166.0L1339.6 1153.3" stroke-width="1" fill="none"/>
<path d="M1334.1 1145.7L1334.1 1151.6" stroke-width="1.6" fill="none"/>
<path d="M1334.1 1167.9L1334.1 1180.4" stroke-width="1.6" fill="none"/>
<path d="M1341.7 1145.7L1341.7 1523.7" stroke-width="1.2" fill="none"/>
<path d="M1344.2 1145.7L1344.2 1523.7" stroke-width="1.2" fill="none"/>
<path d="M1332.8 1180.4L1332.8 1193.1L1326.0 1193.1L1326.0 1487.7L1332.0 1487.7" stroke-width="1.2" fill="none"/>
<path d="M1235.2 1124.5H1252.3V1540.2H1235.2Z" stroke-width="1.2" fill="none"/>
<text transform="translate(1271.0,1337.3) scale(0.781,1)" text-anchor="middle" font-size="11.64">DOZER</text>
<path d="M1252.3 1193.1L1265.8 1193.1" stroke-width="1.2" fill="none"/>
<path d="M1252.3 1198.0L1265.8 1198.0" stroke-width="1.2" fill="none"/>
<path d="M1265.8 1184.4H1318.4V1204.8H1265.8Z" stroke-width="1.2" fill="none"/>
<path d="M1298.9 1184.4L1298.9 1204.8" stroke-width="1.2" fill="none"/>
<path d="M1304.3 1184.4L1304.3 1204.8" stroke-width="1.2" fill="none"/>
<path d="M1265.8 1199.9L1298.9 1199.9" stroke-width="1.2" fill="none"/>
<path d="M1271.8 1204.8L1271.8 1210.2L1296.7 1210.2" stroke-width="1.2" fill="none"/>
<path d="M1296.7 1204.8H1317.9V1225.1H1296.7Z" stroke-width="1.2" fill="none"/>
<path d="M1300.8 1213.4L1313.8 1221.0" stroke-width="1.1" fill="none"/>
<path d="M1300.8 1221.0L1313.8 1213.4" stroke-width="1.1" fill="none"/>
<circle cx="1301.6" cy="1214.8" r="1.6258840744654905" fill="none" stroke-width="1"/>
<circle cx="1313.3" cy="1214.8" r="1.6258840744654905" fill="none" stroke-width="1"/>
<path d="M1301.6 1225.1L1301.6 1439.7" stroke-width="1.2" fill="none"/>
<path d="M1313.8 1225.1L1313.8 1439.7" stroke-width="1.2" fill="none"/>
<path d="M1296.7 1439.7H1317.9V1460.0H1296.7Z" stroke-width="1.2" fill="none"/>
<path d="M1300.8 1446.5L1313.8 1454.1" stroke-width="1.1" fill="none"/>
<path d="M1300.8 1454.1L1313.8 1446.5" stroke-width="1.1" fill="none"/>
<circle cx="1301.6" cy="1450.5" r="1.6258840744654905" fill="none" stroke-width="1"/>
<circle cx="1313.3" cy="1450.5" r="1.6258840744654905" fill="none" stroke-width="1"/>
<path d="M2123.3 1252.6L2123.3 1053.7L2267.4 1053.7L2267.4 1252.6L2123.3 1252.6" stroke-width="1.2" fill="none" stroke-dasharray="11 6"/>
<text transform="translate(2192.9,1047.4) scale(0.781,1)" text-anchor="middle" font-size="11.64">STEERING VALVE</text>
<circle cx="2285.1" cy="1068.6" r="11.381188521258434" fill="none" stroke-width="1.3"/>
<path d="M2279.6 1061.8L2289.1 1068.6L2279.6 1075.3" stroke-width="1.3" fill="none"/>
<path d="M2159.9 1068.6L2273.7 1068.6" stroke-width="2.5" fill="none"/>
<path d="M2158.5 1068.6L2158.5 1168.0" stroke-width="1.2" fill="none"/>
<path d="M2161.2 1068.6L2161.2 1168.0" stroke-width="1.2" fill="none"/>
<path d="M2212.7 1068.6L2212.7 1085.4" stroke-width="1.2" fill="none"/>
<path d="M2239.5 1068.6L2239.5 1157.2" stroke-width="1.2" fill="none"/>
<circle cx="2213.2" cy="1098.9" r="13.007072595723924" fill="none" stroke-width="1.3"/>
<polygon points="2201.1,1098.9 2206.5,1094.8 2206.5,1103.0" fill="#000" stroke-width="1"/>
<polygon points="2225.4,1098.9 2220.0,1094.8 2220.0,1103.0" fill="#000" stroke-width="1"/>
<polygon points="2207.8,1098.9 2203.8,1095.4 2203.8,1102.4" fill="#000" stroke-width="1"/>
<polygon points="2218.7,1098.9 2222.7,1095.4 2222.7,1102.4" fill="#000" stroke-width="1"/>
<path d="M2201.1 1098.9L2195.6 1098.9L2195.6 1117.9L2230.9 1117.9L2230.9 1098.9L2225.4 1098.9" stroke-width="1.2" fill="none"/>
<path d="M2210.5 1117.9L2210.5 1157.2" stroke-width="1.2" fill="none"/>
<path d="M2216.0 1117.9L2216.0 1157.2" stroke-width="1.2" fill="none"/>
<path d="M2071.8 998.6L2071.8 1129.5L2131.1 1129.5" stroke-width="1.2" fill="none"/>
<path d="M2138.7 1129.5L2232.2 1129.5L2232.2 1139.0" stroke-width="1.2" fill="none"/>
<path d="M2131.7 1129.5L2135.2 1126.0L2138.7 1129.5L2135.2 1133.1Z" stroke-width="1.2" fill="none"/>
<path d="M2138.7 1129.5L2139.9 1130.9L2142.3 1128.2L2144.7 1130.9L2147.0 1128.2L2148.2 1129.5" stroke-width="1" fill="none"/>
<circle cx="2150.4" cy="1129.5" r="1.7" fill="#000" stroke="none"/>
<path d="M2150.4 1129.5L2150.4 1173.4" stroke-width="1.2" fill="none"/>
<path d="M2150.4 1182.9L2150.4 1191.0L2167.2 1191.0" stroke-width="1.2" fill="none"/>
<circle cx="2150.4" cy="1168.0" r="1.7" fill="#000" stroke="none"/>
<circle cx="2167.2" cy="1191.0" r="1.7" fill="#000" stroke="none"/>
<path d="M2145.5 1173.4H2155.8V1182.9H2145.5Z" stroke-width="1.3" fill="none"/>
<path d="M2150.4 1168.0L2139.5 1168.0L2139.5 1178.0L2145.5 1178.0" stroke-width="1.2" fill="none" stroke-dasharray="5 2.6"/>
<path d="M2167.2 1139.0L2206.5 1139.0" stroke-width="1.2" fill="none"/>
<path d="M2167.2 1139.0L2167.2 1239.8L2212.7 1239.8" stroke-width="1.2" fill="none"/>
<path d="M2159.9 1168.0L2184.8 1168.0" stroke-width="1.2" fill="none"/>
<path d="M2218.7 1157.2L2218.7 1146.3L2232.2 1146.3L2232.2 1139.0" stroke-width="1.2" fill="none"/>
<circle cx="2212.7" cy="1239.8" r="1.7" fill="#000" stroke="none"/>
<circle cx="2224.9" cy="1138.2" r="2.167845432620654" fill="none" stroke-width="1.1"/>
<circle cx="2239.5" cy="1133.3" r="1.3549033953879088" fill="none" stroke-width="1"/>
<circle cx="2159.9" cy="1168.0" r="1.3549033953879088" fill="none" stroke-width="1"/>
<path d="M2184.8 1157.2H2241.7V1178.8H2184.8Z" stroke-width="1.4" fill="none"/>
<path d="M2206.5 1157.2L2206.5 1178.8" stroke-width="1.1" fill="none"/>
<path d="M2226.8 1157.2L2226.8 1178.8" stroke-width="1.1" fill="none"/>
<path d="M2188.9 1176.1L2199.7 1159.9" stroke-width="1.1" fill="none"/>
<path d="M2230.9 1159.9L2237.6 1176.1" stroke-width="1.1" fill="none"/>
<path d="M2184.8 1157.2L2241.7 1157.2" stroke-width="2" fill="none"/>
<path d="M2176.7 1162.0L2177.7 1163.4L2179.7 1160.7L2181.7 1163.4L2183.8 1160.7L2184.8 1162.0" stroke-width="1" fill="none"/>
<path d="M2241.7 1163.9L2242.7 1165.3L2244.7 1162.6L2246.8 1165.3L2248.8 1162.6L2249.8 1163.9" stroke-width="1" fill="none"/>
<path d="M2207.3 1178.8L2207.3 1189.1L2178.6 1189.1L2178.6 1276.4L2052.6 1276.4L2052.6 998.6" stroke-width="1.2" fill="none"/>
<path d="M2218.7 1178.8L2218.7 1189.1L2248.5 1189.1" stroke-width="1.2" fill="none"/>
<path d="M2248.5 1189.1L2248.5 1294.0L2035.8 1294.0" stroke-width="2.2" fill="none"/>
<path d="M2035.8 1294.0L2035.8 998.6" stroke-width="1.2" fill="none"/>
<path d="M2178.6 1208.7L2248.5 1208.7" stroke-width="1.2" fill="none"/>
<path d="M2178.6 1225.7L2248.5 1225.7" stroke-width="1.2" fill="none"/>
<path d="M2212.7 1208.7L2212.7 1276.4L2302.7 1276.4L2302.7 998.6" stroke-width="1.2" fill="none"/>
<path d="M2178.6 1239.8L2167.2 1239.8" stroke-width="1.2" fill="none"/>
<path d="M2186.1 1204.6H2195.6V1212.7H2186.1Z" stroke-width="1.3" fill="none"/>
<path d="M2230.9 1204.6H2240.3V1212.7H2230.9Z" stroke-width="1.3" fill="none"/>
<circle cx="2193.5" cy="1225.7" r="2.167845432620654" fill="none" stroke-width="1.1"/>
<circle cx="2232.8" cy="1225.7" r="2.167845432620654" fill="none" stroke-width="1.1"/>
<path d="M2191.0 1189.1L2191.0 1204.6" stroke-width="1.2" fill="none" stroke-dasharray="5 2.6"/>
<path d="M2235.5 1189.1L2235.5 1204.6" stroke-width="1.2" fill="none" stroke-dasharray="5 2.6"/>
<circle cx="2178.6" cy="1208.7" r="1.4" fill="#000" stroke="none"/>
<circle cx="2212.7" cy="1208.7" r="1.4" fill="#000" stroke="none"/>
<circle cx="2248.5" cy="1208.7" r="1.4" fill="#000" stroke="none"/>
<circle cx="2178.6" cy="1225.7" r="1.4" fill="#000" stroke="none"/>
<circle cx="2212.7" cy="1225.7" r="1.4" fill="#000" stroke="none"/>
<circle cx="2248.5" cy="1225.7" r="1.4" fill="#000" stroke="none"/>
<circle cx="2178.6" cy="1239.8" r="1.4" fill="#000" stroke="none"/>
<circle cx="2191.0" cy="1189.1" r="1.4" fill="#000" stroke="none"/>
<circle cx="2235.5" cy="1189.1" r="1.4" fill="#000" stroke="none"/>
<text transform="translate(2187.5,1081.3) scale(0.781,1)" text-anchor="middle" font-size="11.33">200cc/rev</text>
<text transform="translate(2145.5,1202.7) scale(0.781,1)" text-anchor="middle" font-size="11.33">140BAR</text>
<text transform="translate(2213.2,1202.7) scale(0.781,1)" text-anchor="middle" font-size="11.33">200BAR</text>
<path d="M1823.0 998.6L1823.0 1013.0L1798.6 1013.0" stroke-width="1.2" fill="none"/>
<path d="M1839.8 998.6L1839.8 1029.8L1798.6 1029.8" stroke-width="1.2" fill="none"/>
<circle cx="1836.0" cy="1124.7" r="7.587459014172289" fill="none" stroke-width="1.3"/>
<circle cx="1836.0" cy="1140.9" r="7.587459014172289" fill="none" stroke-width="1.3"/>
<circle cx="1920.0" cy="1124.7" r="7.587459014172289" fill="none" stroke-width="1.3"/>
<circle cx="1920.0" cy="1140.9" r="7.587459014172289" fill="none" stroke-width="1.3"/>
<path d="M1860.2 1120.6H1895.4V1146.3H1860.2Z" stroke-width="1.3" fill="none"/>
<path d="M1843.4 1132.8L1860.2 1132.8" stroke-width="2" fill="none"/>
<path d="M1895.4 1132.8L1912.5 1132.8" stroke-width="2" fill="none"/>
<path d="M1862.9 1125.2L1892.7 1125.2" stroke-width="0.9" fill="none"/>
<path d="M1862.9 1129.3L1892.7 1129.3" stroke-width="0.9" fill="none"/>
<path d="M1862.9 1133.3L1892.7 1133.3" stroke-width="0.9" fill="none"/>
<path d="M1862.9 1137.4L1892.7 1137.4" stroke-width="0.9" fill="none"/>
<path d="M1862.9 1141.5L1892.7 1141.5" stroke-width="0.9" fill="none"/>
<path d="M1862.9 1151.7H1875.3V1169.4H1862.9Z" stroke-width="1.2" fill="none"/>
<path d="M1864.5 1153.4L1866.7 1167.5L1868.8 1153.4L1871.0 1167.5L1873.2 1153.4" stroke-width="1" fill="none"/>
<path d="M1869.1 1146.3L1869.1 1151.7" stroke-width="1.6" fill="none"/>
<path d="M1876.7 1146.3L1876.7 1523.0" stroke-width="1.2" fill="none"/>
<path d="M1879.4 1146.3L1879.4 1523.0" stroke-width="1.2" fill="none"/>
<circle cx="1878.0" cy="1190.5" r="10.297265804948108" fill="#fff" stroke-width="1.3"/>
<path d="M1798.6 1180.2L1869.1 1180.2L1869.1 1169.4" stroke-width="1.2" fill="none"/>
<path d="M1868.3 1196.5L1829.3 1218.1" stroke-width="1.2" fill="none"/>
<path d="M1828.5 1220.0L1828.5 1447.1" stroke-width="1.2" fill="none"/>
<circle cx="1828.5" cy="1219.0" r="1.3549033953879088" fill="none" stroke-width="1"/>
<path d="M1835.8 1226.3H1876.4V1239.8H1835.8Z" stroke-width="1.2" fill="none"/>
<path d="M1855.6 1226.3L1855.6 1239.8" stroke-width="1.1" fill="none"/>
<path d="M1858.3 1228.2L1874.5 1228.2L1874.5 1237.9L1858.3 1237.9" stroke-width="1.1" fill="none"/>
<text transform="translate(1854.7,1222.2) scale(0.781,1)" text-anchor="middle" font-size="11.64">CHOCK</text>
<path d="M1798.6 1232.5L1835.8 1232.5" stroke-width="1.2" fill="none"/>
<path d="M1835.8 1426.8H1876.4V1440.3H1835.8Z" stroke-width="1.2" fill="none"/>
<path d="M1855.6 1426.8L1855.6 1440.3" stroke-width="1.1" fill="none"/>
<path d="M1858.3 1428.7L1874.5 1428.7L1874.5 1438.4L1858.3 1438.4" stroke-width="1.1" fill="none"/>
<path d="M1798.6 1267.7L1865.0 1267.7" stroke-width="1.2" fill="none"/>
<path d="M1798.6 1270.4L1865.0 1270.4" stroke-width="1.2" fill="none"/>
<path d="M1865.0 1261.5L1871.0 1271.0L1890.8 1277.8L1865.0 1277.8Z" stroke-width="1.2" fill="none"/>
<path d="M1821.1 1304.9H1836.6V1361.8H1821.1Z" stroke-width="1.3" fill="none"/>
<path d="M1825.7 1284.0H1832.0V1383.4H1825.7Z" stroke-width="1.2" fill="none"/>
<path d="M1821.1 1331.1L1836.6 1331.1" stroke-width="1.2" fill="none"/>
<path d="M1821.1 1336.0L1836.6 1336.0" stroke-width="1.2" fill="none"/>
<text transform="translate(1854.7,1371.2) scale(0.781,1)" text-anchor="middle" font-size="11.64">STEER</text>
<text transform="translate(1855.6,1383.4) scale(0.781,1)" text-anchor="middle" font-size="11.64">CYLINDER</text>
<path d="M1798.6 1308.9L1821.1 1308.9" stroke-width="2" fill="none"/>
<path d="M1798.6 1322.5L1811.4 1322.5L1811.4 1357.7L1821.1 1357.7" stroke-width="1.2" fill="none"/>
<path d="M1855.6 1323.8L1855.6 1344.1" stroke-width="1.2" fill="none"/>
<path d="M1855.6 1333.8L1863.7 1333.8" stroke-width="1.2" fill="none"/>
<path d="M1877.2 1323.8L1863.7 1333.8L1877.2 1344.1" stroke-width="1.2" fill="none"/>
<circle cx="1866.4" cy="1333.8" r="1.8968647535430723" fill="none" stroke-width="1"/>
<path d="M1852.8 1327.3L1855.6 1325.2" stroke-width="0.9" fill="none"/>
<path d="M1852.8 1331.4L1855.6 1329.2" stroke-width="0.9" fill="none"/>
<path d="M1852.8 1335.5L1855.6 1333.3" stroke-width="0.9" fill="none"/>
<path d="M1852.8 1339.5L1855.6 1337.4" stroke-width="0.9" fill="none"/>
<path d="M1852.8 1343.6L1855.6 1341.4" stroke-width="0.9" fill="none"/>
<path d="M1978.6 240.4L2155.3 240.4L2155.3 551.5" stroke-width="1.2" fill="none"/>
<path d="M1978.6 262.9L2054.5 262.9L2054.5 457.2L2075.4 457.2" stroke-width="1.2" fill="none"/>
<path d="M2027.4 551.5L2027.4 300.8L2260.5 300.8L2260.5 551.5" stroke-width="1.2" fill="none" stroke-dasharray="11 6"/>
<path d="M2027.4 300.8L2066.7 300.8" stroke-width="1.2" fill="none"/>
<path d="M2223.9 300.8L2260.5 300.8" stroke-width="1.2" fill="none"/>
<path d="M2123.3 297.0L2129.3 303.0M2123.3 303.0L2129.3 297.0" stroke-width="1" fill="none"/>
<path d="M2126.3 300.0L2126.3 309.8L2155.3 309.8" stroke-width="1.2" fill="none"/>
<circle cx="2155.3" cy="309.8" r="1.7" fill="#000" stroke="none"/>
<path d="M2054.5 337.4L2155.3 337.4" stroke-width="1.2" fill="none"/>
<path d="M2054.5 368.6L2098.4 368.6" stroke-width="1.2" fill="none"/>
<path d="M2113.6 368.6L2126.3 368.6" stroke-width="1.2" fill="none"/>
<path d="M2143.9 368.6L2155.3 368.6" stroke-width="1.2" fill="none"/>
<circle cx="2054.5" cy="337.4" r="1.7" fill="#000" stroke="none"/>
<circle cx="2155.3" cy="337.4" r="1.7" fill="#000" stroke="none"/>
<circle cx="2054.5" cy="368.6" r="1.7" fill="#000" stroke="none"/>
<path d="M2098.4 360.5H2113.6V394.3H2098.4Z" stroke-width="1.3" fill="none"/>
<path d="M2098.4 377.5L2113.6 377.5" stroke-width="1.1" fill="none"/>
<path d="M2098.4 386.2L2113.6 386.2" stroke-width="1.1" fill="none"/>
<path d="M2101.1 394.3H2110.9V406.5H2101.1Z" stroke-width="1.2" fill="none"/>
<polygon points="2102.5,406.5 2109.5,406.5 2106.0,402.5" fill="#000" stroke-width="1"/>
<path d="M2126.3 368.6L2127.4 372.4L2129.6 364.8L2131.8 372.4L2134.0 364.8L2136.2 372.4L2138.4 364.8L2140.6 372.4L2142.8 364.8L2143.9 368.6" stroke-width="1.2" fill="none"/>
<path d="M2126.3 364.5L2143.9 364.5" stroke-width="1" fill="none"/>
<path d="M2126.3 373.2L2143.9 373.2" stroke-width="1" fill="none"/>
<path d="M2096.5 353.7L2118.2 357.8" stroke-width="1.1" fill="none"/>
<path d="M2106.0 360.5L2106.0 351.0L2111.4 353.7L2101.9 355.9L2110.1 357.8" stroke-width="1.1" fill="none"/>
<path d="M2144.5 329.3H2165.6V373.5H2144.5Z" stroke-width="1.2" fill="none" stroke-dasharray="5 2.6"/>
<path d="M2150.7 348.3q3 4 0 8M2159.4 348.3q-3 4 0 8" stroke-width="1" fill="none"/>
<polygon points="2155.3,373.5 2153.5,367.5 2157.1,367.5" fill="#000" stroke="none"/>
<path d="M2152.1 385.7L2155.3 382.4L2158.6 385.7L2155.3 388.9Z" stroke-width="1.2" fill="none"/>
<path d="M2105.5 407.9L2105.5 426.3L2155.3 426.3" stroke-width="1.2" fill="none" stroke-dasharray="5 2.6"/>
<circle cx="2155.3" cy="426.3" r="1.7" fill="#000" stroke="none"/>
<path d="M2075.4 449.9H2091.6V464.3H2075.4Z" stroke-width="1.3" fill="none"/>
<path d="M2075.4 460.7L2091.6 460.7" stroke-width="1.2" fill="none"/>
<path d="M2091.6 457.2L2194.1 457.2" stroke-width="1.2" fill="none"/>
<circle cx="2100.0" cy="457.2" r="1.7" fill="#000" stroke="none"/>
<circle cx="2155.3" cy="457.2" r="1.7" fill="#000" stroke="none"/>
<path d="M2100.0 457.2L2100.0 474.3L2083.5 474.3L2083.5 464.3" stroke-width="1.2" fill="none" stroke-dasharray="5 2.6"/>
<path d="M2076.2 445.8L2092.5 442.6" stroke-width="1.1" fill="none"/>
<path d="M2084.3 449.9L2084.3 444.5L2088.4 445.8" stroke-width="1.1" fill="none"/>
<circle cx="2196.2" cy="445.8" r="3.251768148930981" fill="none" stroke-width="1.3"/>
<circle cx="2196.2" cy="469.4" r="3.251768148930981" fill="none" stroke-width="1.3"/>
<path d="M2194.1 449.1L2194.1 466.1" stroke-width="1.2" fill="none"/>
<path d="M2198.4 449.1L2198.4 466.1" stroke-width="1.2" fill="none"/>
<path d="M2196.2 442.6L2196.2 438.2" stroke-width="1.2" fill="none"/>
<path d="M2196.2 438.2L2297.0 438.2" stroke-width="2.2" fill="none"/>
<path d="M2297.0 438.2L2297.0 428.2" stroke-width="1.2" fill="none"/>
<circle cx="2231.5" cy="438.2" r="1.7" fill="#000" stroke="none"/>
<path d="M2196.2 472.7L2196.2 477.5L2322.8 477.5L2322.8 428.2" stroke-width="1.2" fill="none"/>
<circle cx="2213.6" cy="477.5" r="1.7" fill="#000" stroke="none"/>
<circle cx="2240.7" cy="477.5" r="1.7" fill="#000" stroke="none"/>
<path d="M2260.5 398.4L2231.5 398.4L2231.5 540.7" stroke-width="1.2" fill="none"/>
<path d="M2240.7 477.5L2240.7 540.7" stroke-width="1.2" fill="none"/>
<path d="M2213.6 477.5L2213.6 540.7" stroke-width="2.2" fill="none"/>
<path d="M2257.5 395.4L2263.5 401.4M2257.5 401.4L2263.5 395.4" stroke-width="1" fill="none"/>
<path d="M2288.9 397.0a8.7 8.7 0 0 1 17.3 0V419.5a8.7 8.7 0 0 1 -17.3 0Z" stroke-width="1.2" fill="none"/>
<path d="M2288.9 408.3L2306.3 408.3" stroke-width="1.8" fill="none"/>
<path d="M2294.9 403.4L2300.3 403.4L2297.6 407.5Z" stroke-width="1" fill="none"/>
<path d="M2313.3 397.0a8.7 8.7 0 0 1 17.3 0V419.5a8.7 8.7 0 0 1 -17.3 0Z" stroke-width="1.2" fill="none"/>
<path d="M2313.3 408.3L2330.6 408.3" stroke-width="1.8" fill="none"/>
<path d="M2319.3 403.4L2324.7 403.4L2322.0 407.5Z" stroke-width="1" fill="none"/>
<text transform="translate(2062.6,296.2) scale(0.781,1)" text-anchor="middle" font-size="11.85">T</text>
<text transform="translate(2117.7,296.8) scale(0.781,1)" text-anchor="middle" font-size="11.85">GP</text>
<text transform="translate(2163.7,296.8) scale(0.781,1)" text-anchor="middle" font-size="11.85">P1</text>
<text transform="translate(2177.0,355.9) scale(0.781,1)" text-anchor="middle" font-size="11.85">C1</text>
<text transform="translate(2167.5,388.9) scale(0.781,1)" text-anchor="middle" font-size="11.85">C3</text>
<text transform="translate(2085.7,393.0) scale(0.781,1)" text-anchor="middle" font-size="11.85">C6</text>
<text transform="translate(2079.7,407.9) scale(0.781,1)" text-anchor="middle" font-size="11.64">103 BAR</text>
<text transform="translate(2079.7,420.1) scale(0.781,1)" text-anchor="middle" font-size="11.64">125 BAR</text>
<text transform="translate(2183.2,446.4) scale(0.781,1)" text-anchor="middle" font-size="11.85">C4</text>
<text transform="translate(2183.8,479.7) scale(0.781,1)" text-anchor="middle" font-size="11.85">C5</text>
<text transform="translate(2068.9,472.1) scale(0.781,1)" text-anchor="middle" font-size="11.85">C2</text>
<text transform="translate(2122.3,468.9) scale(0.781,1)" text-anchor="middle" font-size="11.64">160 BAR</text>
<text transform="translate(2274.8,401.9) scale(0.781,1)" text-anchor="middle" font-size="11.85">PSA</text>
<text transform="translate(2276.7,436.3) scale(0.781,1)" text-anchor="middle" font-size="11.64">ACC A</text>
<text transform="translate(2277.5,475.6) scale(0.781,1)" text-anchor="middle" font-size="11.64">ACC B</text>
<text transform="translate(2354.0,397.6) scale(0.781,1)" text-anchor="middle" font-size="11.64">2x0.7 L</text>
<text transform="translate(2350.7,409.8) scale(0.781,1)" text-anchor="middle" font-size="11.64">30BAR</text>
<text transform="translate(2072.1,503.3) scale(0.781,1)" text-anchor="middle" font-size="11.64">BRAKE</text>
<text transform="translate(2075.4,515.5) scale(0.781,1)" text-anchor="middle" font-size="11.64">SUPPLY</text>
<text transform="translate(2070.8,527.7) scale(0.781,1)" text-anchor="middle" font-size="11.64">VALVE</text>
<path d="M2027.4 551.5L2131.7 551.5" stroke-width="1.2" fill="none"/>
<path d="M2158.8 551.5L2260.5 551.5" stroke-width="1.2" fill="none"/>
<path d="M2027.4 551.5L2260.5 551.5" stroke-width="1.2" fill="none" stroke-dasharray="11 6"/>
<path d="M2152.3 548.5L2158.3 554.5M2152.3 554.5L2158.3 548.5" stroke-width="1" fill="none"/>
<path d="M2213.6 498.6L2213.6 661.8" stroke-width="2.2" fill="none"/>
<path d="M2213.6 661.8L2273.5 661.8L2273.5 774.5L2230.7 774.5" stroke-width="1.2" fill="none"/>
<path d="M2231.5 498.6L2231.5 644.4L2308.7 644.4L2308.7 856.3L2230.7 856.3" stroke-width="1.2" fill="none"/>
<path d="M2240.7 498.6L2240.7 523.8L2286.2 523.8" stroke-width="1.2" fill="none"/>
<path d="M2286.2 514.4H2302.5V533.3H2286.2Z" stroke-width="1.2" fill="none"/>
<path d="M2290.3 509.5L2290.3 540.6" stroke-width="1.1" fill="none"/>
<path d="M2290.3 551.5L2290.3 558.3" stroke-width="1.1" fill="none"/>
<circle cx="2292.2" cy="547.4" r="2.980787469853399" fill="none" stroke-width="1.2"/>
<polygon points="2290.3,559.6 2287.8,554.6 2292.8,554.6" fill="#000" stroke="none"/>
<path d="M2018.5 678.8L2290.8 678.8" stroke-width="2.2" fill="none"/>
<path d="M2018.5 678.8L2018.5 760.1L1978.6 760.1" stroke-width="1.2" fill="none"/>
<path d="M2290.8 678.8L2290.8 868.5L2230.7 868.5" stroke-width="1.2" fill="none"/>
<path d="M2230.7 785.9L2290.8 785.9" stroke-width="1.2" fill="none"/>
<circle cx="2290.8" cy="785.9" r="1.7" fill="#000" stroke="none"/>
<path d="M2191.4 901.6L2191.4 707.3L2249.6 707.3L2249.6 901.6" stroke-width="1.2" fill="none" stroke-dasharray="11 6"/>
<path d="M2191.4 707.3L2249.6 707.3" stroke-width="1.2" fill="none"/>
<path d="M2191.4 901.6L2249.6 901.6" stroke-width="1.2" fill="none"/>
<path d="M2211.1 732.5H2230.7V790.8H2211.1Z" stroke-width="1.3" fill="none"/>
<path d="M2211.1 752.0L2230.7 752.0" stroke-width="1.1" fill="none"/>
<path d="M2211.1 771.5L2230.7 771.5" stroke-width="1.1" fill="none"/>
<path d="M2212.5 746.1L2229.3 736.6" stroke-width="1.1" fill="none"/>
<path d="M2212.5 765.6L2229.3 756.1" stroke-width="1.1" fill="none"/>
<path d="M2212.5 785.1L2229.3 775.6" stroke-width="1.1" fill="none"/>
<path d="M2211.1 790.8H2219.8V800.2H2211.1Z" stroke-width="1.2" fill="none"/>
<polygon points="2211.7,800.2 2219.3,800.2 2215.5,796.2" fill="#000" stroke-width="1"/>
<path d="M2226.6 790.8L2228.5 791.8L2224.7 793.8L2228.5 795.8L2224.7 797.9L2226.6 798.9" stroke-width="1" fill="none"/>
<path d="M2211.1 814.9H2230.7V873.1H2211.1Z" stroke-width="1.3" fill="none"/>
<path d="M2211.1 834.4L2230.7 834.4" stroke-width="1.1" fill="none"/>
<path d="M2211.1 853.9L2230.7 853.9" stroke-width="1.1" fill="none"/>
<path d="M2212.5 828.4L2229.3 818.9" stroke-width="1.1" fill="none"/>
<path d="M2212.5 847.9L2229.3 838.5" stroke-width="1.1" fill="none"/>
<path d="M2212.5 867.4L2229.3 858.0" stroke-width="1.1" fill="none"/>
<path d="M2211.1 873.1H2219.8V882.6H2211.1Z" stroke-width="1.2" fill="none"/>
<polygon points="2211.7,882.6 2219.3,882.6 2215.5,878.6" fill="#000" stroke-width="1"/>
<path d="M2226.6 873.1L2228.5 874.2L2224.7 876.2L2228.5 878.2L2224.7 880.3L2226.6 881.3" stroke-width="1" fill="none"/>
<path d="M2207.1 715.4L2225.2 726.3L2230.7 723.6" stroke-width="1.2" fill="none"/>
<path d="M2218.5 726.3L2218.5 732.5" stroke-width="1.2" fill="none"/>
<path d="M2222.5 726.3L2222.5 732.5" stroke-width="1.2" fill="none"/>
<path d="M2215.2 726.3L2216.8 727.0L2213.6 728.6L2216.8 730.2L2213.6 731.7L2215.2 732.5" stroke-width="1" fill="none"/>
<path d="M2226.6 800.8L2228.5 802.0L2224.7 804.3L2228.5 806.7L2224.7 809.0L2228.5 811.4L2224.7 813.7L2226.6 814.9" stroke-width="1" fill="none"/>
<path d="M2029.6 876.7L2029.6 780.5L2211.1 780.5" stroke-width="1.2" fill="none"/>
<path d="M1978.6 876.7L2029.6 876.7" stroke-width="1.2" fill="none"/>
<circle cx="2201.7" cy="780.5" r="1.7" fill="#000" stroke="none"/>
<path d="M1978.6 843.6L2099.8 843.6L2099.8 862.3L2211.1 862.3" stroke-width="1.2" fill="none"/>
<circle cx="2201.7" cy="862.3" r="1.7" fill="#000" stroke="none"/>
<path d="M1978.6 860.4L2071.3 860.4L2071.3 960.7" stroke-width="1.2" fill="none"/>
<path d="M2147.2 799.4H2163.5V818.4H2147.2Z" stroke-width="1.3" fill="none"/>
<path d="M2148.5 800.8L2160.2 817.0" stroke-width="1.2" fill="none"/>
<path d="M2150.7 803.5L2152.1 804.4L2149.4 806.2L2152.1 808.0L2149.4 809.8L2152.1 811.6L2149.4 813.4L2150.7 814.3" stroke-width="1" fill="none"/>
<path d="M2150.7 792.7L2150.7 799.4" stroke-width="1.1" fill="none"/>
<path d="M2150.7 818.4L2150.7 828.7" stroke-width="1.1" fill="none"/>
<path d="M2150.7 837.4L2150.7 842.8" stroke-width="1.1" fill="none"/>
<circle cx="2150.7" cy="824.6" r="1.7" fill="#000" stroke="none"/>
<path d="M2150.7 824.6L2129.0 824.6" stroke-width="1.2" fill="none"/>
<polygon points="2126.3,824.6 2134.3,822.4 2134.3,826.8" fill="#000" stroke="none"/>
<circle cx="2148.0" cy="832.8" r="2.7098067907758177" fill="none" stroke-width="1.2"/>
<polygon points="2150.7,844.7 2148.2,839.7 2153.2,839.7" fill="#000" stroke="none"/>
<path d="M2201.7 780.5L2201.7 808.9L2215.5 808.9L2215.5 800.8" stroke-width="1.2" fill="none" stroke-dasharray="5 2.6"/>
<circle cx="2201.7" cy="808.9" r="1.7" fill="#000" stroke="none"/>
<path d="M2147.2 880.7H2163.5V899.7H2147.2Z" stroke-width="1.3" fill="none"/>
<path d="M2148.5 882.1L2160.2 898.3" stroke-width="1.2" fill="none"/>
<path d="M2150.7 884.8L2152.1 885.7L2149.4 887.5L2152.1 889.3L2149.4 891.1L2152.1 892.9L2149.4 894.7L2150.7 895.6" stroke-width="1" fill="none"/>
<path d="M2150.7 874.0L2150.7 880.7" stroke-width="1.1" fill="none"/>
<path d="M2150.7 899.7L2150.7 910.0" stroke-width="1.1" fill="none"/>
<path d="M2150.7 918.7L2150.7 924.1" stroke-width="1.1" fill="none"/>
<circle cx="2150.7" cy="905.9" r="1.7" fill="#000" stroke="none"/>
<path d="M2150.7 905.9L2129.0 905.9" stroke-width="1.2" fill="none"/>
<polygon points="2126.3,905.9 2134.3,903.7 2134.3,908.1" fill="#000" stroke="none"/>
<circle cx="2148.0" cy="914.1" r="2.7098067907758177" fill="none" stroke-width="1.2"/>
<polygon points="2150.7,926.0 2148.2,921.0 2153.2,921.0" fill="#000" stroke="none"/>
<path d="M2201.7 861.8L2201.7 890.2L2215.5 890.2L2215.5 882.1" stroke-width="1.2" fill="none" stroke-dasharray="5 2.6"/>
<circle cx="2201.7" cy="890.2" r="1.7" fill="#000" stroke="none"/>
<path d="M2163.5 808.9L2196.8 808.9" stroke-width="1.2" fill="none"/>
<path d="M2163.5 889.7L2196.8 889.7" stroke-width="2.2" fill="none"/>
<text transform="translate(2181.1,776.9) scale(0.781,1)" text-anchor="middle" font-size="11.64">BR1</text>
<text transform="translate(2181.1,818.9) scale(0.781,1)" text-anchor="middle" font-size="11.64">BL1</text>
<text transform="translate(2181.1,858.2) scale(0.781,1)" text-anchor="middle" font-size="11.64">BR2</text>
<text transform="translate(2181.1,900.2) scale(0.781,1)" text-anchor="middle" font-size="11.64">BL2</text>
<text transform="translate(2257.8,771.5) scale(0.781,1)" text-anchor="middle" font-size="11.64">P1</text>
<text transform="translate(2257.8,796.7) scale(0.781,1)" text-anchor="middle" font-size="11.64">T1</text>
<text transform="translate(2257.8,852.8) scale(0.781,1)" text-anchor="middle" font-size="11.64">P2</text>
<text transform="translate(2257.8,878.6) scale(0.781,1)" text-anchor="middle" font-size="11.64">T2</text>
<text transform="translate(2158.0,793.7) scale(0.781,1)" text-anchor="middle" font-size="11.64">3 BAR</text>
<text transform="translate(2158.0,874.5) scale(0.781,1)" text-anchor="middle" font-size="11.64">3 BAR</text>
<text transform="translate(2104.7,823.8) scale(0.749,1)" text-anchor="middle" font-size="9.27">CRUISE</text>
<text transform="translate(2107.4,833.8) scale(0.749,1)" text-anchor="middle" font-size="9.27">RELEASE</text>
<text transform="translate(2104.7,904.6) scale(0.749,1)" text-anchor="middle" font-size="9.27">CRUISE</text>
<text transform="translate(2107.4,914.6) scale(0.749,1)" text-anchor="middle" font-size="9.27">RELEASE</text>
<text transform="translate(2222.0,917.3) scale(0.781,1)" text-anchor="middle" font-size="11.64">BRAKE VALVE</text>
<text transform="translate(2221.2,929.0) scale(0.781,1)" text-anchor="middle" font-size="11.64">60 BAR</text>
<text transform="translate(2155.3,565.8) scale(0.781,1)" text-anchor="middle" font-size="11.64">C1</text>
<text transform="translate(2205.7,563.7) scale(0.781,1)" text-anchor="middle" font-size="11.64">AC</text>
<text transform="translate(2240.7,563.7) scale(0.781,1)" text-anchor="middle" font-size="11.64">AB</text>
<text transform="translate(2272.1,520.3) scale(0.781,1)" text-anchor="middle" font-size="11.64">PSD</text>
<text transform="translate(2327.7,519.0) scale(0.781,1)" text-anchor="middle" font-size="11.64">65 BAR</text>
<text transform="translate(2312.8,531.2) scale(0.749,1)" text-anchor="start" font-size="9.27">LOW</text>
<text transform="translate(2312.8,540.4) scale(0.749,1)" text-anchor="start" font-size="9.27">PRESSURE</text>
<text transform="translate(2312.8,549.6) scale(0.749,1)" text-anchor="start" font-size="9.27">WARNING</text>
<path d="M1423.0 944.5L2302.6 944.5L2302.6 1004.7" stroke-width="1.2" fill="none"/>
<path d="M1423.0 961.3L1552.3 961.3L1552.3 878.6" stroke-width="1.2" fill="none"/>
<path d="M1423.0 979.7L1575.6 979.7L1575.6 1042.6" stroke-width="1.2" fill="none"/>
<path d="M1423.0 996.5L1558.5 996.5L1558.5 1042.6" stroke-width="1.2" fill="none"/>
<path d="M1423.0 1013.6L1541.5 1013.6L1541.5 1042.6" stroke-width="1.2" fill="none"/>
<path d="M1423.0 1030.4L1524.7 1030.4L1524.7 1042.6" stroke-width="1.2" fill="none"/>
<path d="M1423.0 1048.0L1713.5 1048.0" stroke-width="1.2" fill="none"/>
<path d="M1489.4 1042.6L1489.4 910.3L1788.9 910.3L1788.9 878.6" stroke-width="1.2" fill="none"/>
<path d="M1507.6 1042.6L1507.6 927.4L1805.7 927.4L1805.7 878.6" stroke-width="1.2" fill="none"/>
<path d="M1592.9 1042.6L1592.9 961.3" stroke-width="2.2" fill="none"/>
<path d="M1592.9 961.3L2052.5 961.3L2052.5 1004.7" stroke-width="1.2" fill="none"/>
<path d="M1610.8 1042.6L1610.8 979.7L2035.7 979.7L2035.7 1004.7" stroke-width="1.2" fill="none"/>
<path d="M1627.6 1042.6L1627.6 996.5L1771.2 996.5" stroke-width="1.2" fill="none"/>
<path d="M1771.2 996.5L1771.2 878.6" stroke-width="2" fill="none"/>
<path d="M1644.7 878.6L1644.7 1042.6" stroke-width="1.2" fill="none"/>
<path d="M1662.0 1042.6L1662.0 1013.6L1822.7 1013.6L1822.7 878.6" stroke-width="1.2" fill="none"/>
<path d="M1679.7 1042.6L1679.7 1030.4L1839.5 1030.4L1839.5 878.6" stroke-width="1.2" fill="none"/>
<path d="M2071.8 878.6L2071.8 1004.7" stroke-width="1.2" fill="none"/>
<path d="M146.1 1438.3L146.1 1529.8" stroke-width="1.2" fill="none" stroke-dasharray="5 2.6"/>
<path d="M146.1 1529.8L325.0 1529.8" stroke-width="2.2" fill="none" stroke-dasharray="5 2.6"/>
<path d="M160.3 1438.3L160.3 1643.4L829.4 1643.4" stroke-width="1.2" fill="none"/>
<path d="M167.7 1438.3L167.7 1596.4L372.1 1596.4" stroke-width="1.2" fill="none"/>
<path d="M391.6 1596.4L753.7 1596.4" stroke-width="1.2" fill="none"/>
<circle cx="829.4" cy="1643.4" r="1.7" fill="#000" stroke="none"/>
<circle cx="753.7" cy="1596.4" r="1.7" fill="#000" stroke="none"/>
<path d="M177.7 1438.3L177.7 1561.7" stroke-width="1.2" fill="none"/>
<path d="M177.7 1561.7L404.0 1561.7L404.0 1547.6" stroke-width="2.2" fill="none"/>
<path d="M560.4 1490.4L560.4 1523.4" stroke-width="1.2" fill="none"/>
<path d="M482.4 1501.5L482.4 1523.4" stroke-width="1.2" fill="none"/>
<path d="M474.7 1523.4H565.4V1557.0H474.7Z" stroke-width="1.2" fill="none"/>
<path d="M498.2 1523.4L498.2 1557.0" stroke-width="1.2" fill="none"/>
<path d="M508.3 1523.4L508.3 1557.0" stroke-width="1.2" fill="none"/>
<path d="M508.3 1529.1H512.6V1551.0H508.3Z" stroke-width="1.1" fill="none"/>
<path d="M512.6 1534.8H587.3V1545.2H512.6Z" stroke-width="1.2" fill="none"/>
<text transform="translate(511.6,1519.0) scale(0.781,1)" text-anchor="middle" font-size="11.64">BUCKET</text>
<path d="M296.4 1624.9L296.4 1507.2L438.7 1507.2L438.7 1624.9L296.4 1624.9" stroke-width="1.2" fill="none" stroke-dasharray="11 6"/>
<path d="M296.4 1507.2L318.3 1507.2" stroke-width="1.2" fill="none"/>
<path d="M412.4 1507.2L438.7 1507.2L438.7 1540.9" stroke-width="1.2" fill="none"/>
<path d="M325.0 1520.7H361.3V1538.5H325.0Z" stroke-width="1.3" fill="none"/>
<path d="M335.8 1520.7L335.8 1538.5" stroke-width="1.2" fill="none"/>
<path d="M345.2 1520.7L345.2 1538.5" stroke-width="1.2" fill="none"/>
<path d="M333.4 1524.1L333.4 1535.8" stroke-width="1.2" fill="none"/>
<path d="M361.3 1531.5L363.5 1534.8L367.9 1528.1L372.3 1534.8L376.6 1528.1L378.8 1531.5" stroke-width="1" fill="none"/>
<path d="M352.6 1510.6H379.5V1554.3H352.6Z" stroke-width="1.2" fill="none" stroke-dasharray="5 2.6"/>
<path d="M391.6 1515.7L416.5 1515.7L416.5 1534.1L404.0 1547.6L391.6 1534.1Z" stroke-width="1.3" fill="none"/>
<path d="M391.6 1523.4L416.5 1523.4" stroke-width="1.1" fill="none"/>
<path d="M391.6 1530.8L416.5 1530.8" stroke-width="1.1" fill="none"/>
<path d="M400.7 1530.8L400.7 1540.9L406.4 1540.9" stroke-width="1.1" fill="none"/>
<path d="M379.5 1510.6L404.0 1510.6L404.0 1515.7" stroke-width="1.2" fill="none" stroke-dasharray="5 2.6"/>
<path d="M416.5 1534.8L421.9 1534.8L421.9 1618.2L399.0 1618.2" stroke-width="1.2" fill="none"/>
<path d="M390.6 1618.2L352.6 1618.2L352.6 1596.4" stroke-width="1.2" fill="none"/>
<circle cx="395.0" cy="1618.2" r="3.362474781439139" fill="none" stroke-width="1.2"/>
<circle cx="314.3" cy="1561.7" r="1.7" fill="#000" stroke="none"/>
<path d="M314.3 1554.3L352.6 1554.3" stroke-width="1.2" fill="none" stroke-dasharray="5 2.6"/>
<path d="M314.3 1554.3L314.3 1625.6" stroke-width="1.2" fill="none" stroke-dasharray="5 2.6"/>
<path d="M308.2 1626.6L308.2 1633.3L322.3 1633.3L322.3 1626.6" stroke-width="1.1" fill="none"/>
<path d="M372.1 1587.9H391.6V1604.8H372.1Z" stroke-width="1.3" fill="none"/>
<path d="M372.1 1593.0L391.6 1593.0" stroke-width="1.5" fill="none"/>
<path d="M381.5 1604.8L384.9 1606.0L378.2 1608.5L384.9 1611.1L378.2 1613.6L381.5 1614.8" stroke-width="1" fill="none"/>
<path d="M407.4 1596.4L407.4 1578.5L381.5 1578.5L381.5 1587.9" stroke-width="1.2" fill="none" stroke-dasharray="5 2.6"/>
<circle cx="314.3" cy="1596.4" r="1.5" fill="#000" stroke="none"/>
<circle cx="352.6" cy="1596.4" r="1.5" fill="#000" stroke="none"/>
<circle cx="407.4" cy="1596.4" r="1.5" fill="#000" stroke="none"/>
<circle cx="421.9" cy="1596.4" r="1.5" fill="#000" stroke="none"/>
<path d="M447.8 1589.0L457.8 1574.5L467.3 1589.0Z" stroke-width="1" fill="none"/>
<text transform="translate(457.8,1588.3) scale(0.781,1)" text-anchor="middle" font-size="8.24">E</text>
<text transform="translate(303.2,1525.7) scale(0.781,1)" text-anchor="middle" font-size="11.33">Pi</text>
<text transform="translate(300.5,1558.7) scale(0.781,1)" text-anchor="middle" font-size="11.33">A</text>
<text transform="translate(300.5,1608.1) scale(0.781,1)" text-anchor="middle" font-size="11.33">T</text>
<text transform="translate(327.7,1620.2) scale(0.781,1)" text-anchor="middle" font-size="11.33">Dr4</text>
<text transform="translate(433.6,1594.0) scale(0.781,1)" text-anchor="middle" font-size="11.85">C</text>
<text transform="translate(478.0,1608.1) scale(0.781,1)" text-anchor="middle" font-size="11.64">BOOM HOLDING</text>
<text transform="translate(470.3,1618.9) scale(0.781,1)" text-anchor="middle" font-size="11.64">VALVE</text>
<path d="M746.3 1556.7H836.1V1590.3H746.3Z" stroke-width="1.2" fill="none"/>
<path d="M768.2 1556.7L768.2 1590.3" stroke-width="1.2" fill="none"/>
<path d="M780.6 1556.7L780.6 1590.3" stroke-width="1.2" fill="none"/>
<path d="M780.6 1561.7H784.0V1585.3H780.6Z" stroke-width="1.1" fill="none"/>
<path d="M784.0 1567.8H859.0V1578.5H784.0Z" stroke-width="1.2" fill="none"/>
<path d="M746.3 1650.8H836.1V1684.5H746.3Z" stroke-width="1.2" fill="none"/>
<path d="M768.2 1650.8L768.2 1684.5" stroke-width="1.2" fill="none"/>
<path d="M780.6 1650.8L780.6 1684.5" stroke-width="1.2" fill="none"/>
<path d="M780.6 1655.9H784.0V1679.4H780.6Z" stroke-width="1.1" fill="none"/>
<path d="M784.0 1661.9H859.0V1672.7H784.0Z" stroke-width="1.2" fill="none"/>
<path d="M753.7 1590.3L753.7 1650.8" stroke-width="1.2" fill="none"/>
<path d="M829.4 1590.3L829.4 1650.8" stroke-width="1.2" fill="none"/>
<text transform="translate(781.6,1615.5) scale(0.781,1)" text-anchor="middle" font-size="11.64">BOOM</text>
<text transform="translate(2273.0,1695.5) scale(0.958,1)" text-anchor="middle" font-size="80" font-weight="bold" style="font-family:'Liberation Serif',serif">S130W-3</text>
<path d="M1733.6 1337.3H1784.5V1387.4H1733.6Z" stroke-width="1.2" fill="none"/>
<circle cx="1727.3" cy="1475.1" r="1.7" fill="#000" stroke="none"/>
<path d="M1741.7 1337.7L1741.7 1358.4L1757.9 1358.4" stroke-width="1.2" fill="none" stroke-dasharray="5 2.6"/>
<path d="M1773.6 1351.5L1773.6 1366.3L1758.8 1366.3" stroke-width="1.2" fill="none" stroke-dasharray="5 2.6"/>
<path d="M1741.7 1366.3L1741.7 1475.1" stroke-width="1.2" fill="none"/>
<path d="M1741.7 1366.3L1756.9 1366.3" stroke-width="1.2" fill="none"/>
<path d="M1753.3 1342.6H1768.7V1354.5H1753.3Z" stroke-width="1.3" fill="none"/>
<circle cx="1761.2" cy="1348.5" r="2.5625862408831064" fill="none" stroke-width="1.2"/>
<path d="M1757.9 1345.0L1761.2 1348.5L1757.9 1352.1" stroke-width="1.1" fill="none"/>
<path d="M1753.3 1370.8H1768.7V1382.6H1753.3Z" stroke-width="1.3" fill="none"/>
<circle cx="1761.2" cy="1376.7" r="2.5625862408831064" fill="none" stroke-width="1.2"/>
<path d="M1757.9 1373.2L1761.2 1376.7L1757.9 1380.3" stroke-width="1.1" fill="none"/>
<path d="M1748.6 1348.5L1753.3 1348.5" stroke-width="1.2" fill="none"/>
<path d="M1748.6 1376.1L1753.3 1376.1" stroke-width="1.2" fill="none"/>
<path d="M1748.6 1348.5L1748.6 1376.1" stroke-width="1.2" fill="none"/>
<path d="M1768.7 1348.5L1800.6 1348.5L1800.6 1233.2L1835.7 1233.2" stroke-width="1.2" fill="none"/>
<path d="M1768.7 1376.1L1800.6 1376.1L1800.6 1433.3L1835.7 1433.3" stroke-width="1.2" fill="none"/>
<path d="M1789.8 1486.5L1868.8 1486.5L1868.8 1493.4" stroke-width="1.2" fill="none"/>
<path d="M1811.1 1321.9L1811.1 1358.4L1820.9 1358.4" stroke-width="1.2" fill="none"/>
<text transform="translate(1748.4,1334.7) scale(0.781,1)" text-anchor="middle" font-size="11.85">Pi</text>
<text transform="translate(1779.5,1334.7) scale(0.781,1)" text-anchor="middle" font-size="11.85">BL</text>
<text transform="translate(1747.6,1396.4) scale(0.781,1)" text-anchor="middle" font-size="11.85">Y</text>
<text transform="translate(1780.5,1396.4) scale(0.781,1)" text-anchor="middle" font-size="11.85">BR</text>
<circle cx="1828.8" cy="1218.8" r="0.9856100926473487" fill="none" stroke-width="1"/>
<circle cx="1828.8" cy="1448.1" r="0.9856100926473487" fill="none" stroke-width="1"/>
<path d="M1829.4 1448.7L1869.2 1471.3" stroke-width="1.2" fill="none"/>
<circle cx="1878.1" cy="1476.7" r="9.856100926473486" fill="#fff" stroke-width="1.3"/>
<text transform="translate(1854.5,1451.0) scale(0.781,1)" text-anchor="middle" font-size="11.64">CHOCK</text>
<path d="M1296.9 1439.3H1318.6V1460.5H1296.9Z" stroke-width="1.2" fill="none"/>
<path d="M1300.9 1442.6L1314.0 1450.4" stroke-width="1.1" fill="none"/>
<path d="M1300.9 1450.4L1314.0 1442.6" stroke-width="1.1" fill="none"/>
<circle cx="1301.5" cy="1450.4" r="1.8341412288746233" fill="none" stroke-width="1"/>
<circle cx="1313.7" cy="1450.4" r="1.8341412288746233" fill="none" stroke-width="1"/>
<circle cx="1301.5" cy="1442.6" r="1.4" fill="#000" stroke="none"/>
<circle cx="1313.7" cy="1442.6" r="1.4" fill="#000" stroke="none"/>
<path d="M1301.5 1426.9L1301.5 1439.3" stroke-width="1.2" fill="none"/>
<path d="M1313.7 1416.8L1313.7 1439.3" stroke-width="1.2" fill="none"/>
<path d="M1271.8 1460.5L1271.8 1455.7L1296.9 1455.7" stroke-width="1.2" fill="none"/>
<circle cx="1313.7" cy="1416.8" r="1.7" fill="#000" stroke="none"/>
<circle cx="1301.5" cy="1426.9" r="1.7" fill="#000" stroke="none"/>
<path d="M1265.5 1460.5H1318.6V1480.2H1265.5Z" stroke-width="1.2" fill="none"/>
<path d="M1298.3 1460.5L1298.3 1480.2" stroke-width="1.2" fill="none"/>
<path d="M1305.5 1460.5L1305.5 1480.2" stroke-width="1.2" fill="none"/>
<path d="M1252.4 1466.8L1298.3 1466.8" stroke-width="1.2" fill="none"/>
<path d="M1252.4 1473.6L1298.3 1473.6" stroke-width="1.2" fill="none"/>
<path d="M1333.9 1473.6L1333.9 1497.6" stroke-width="2.2" fill="none"/>
<path d="M1333.9 1515.6L1333.9 1522.5" stroke-width="2.2" fill="none"/>
<path d="M1327.7 1497.6H1340.4V1515.6H1327.7Z" stroke-width="1.2" fill="none"/>
<path d="M1328.7 1503.5L1339.5 1504.8L1328.7 1507.4L1339.5 1509.4L1328.7 1512.0L1339.5 1514.0" stroke-width="1" fill="none"/>
<path d="M1327.7 1502.8L1340.4 1502.8" stroke-width="1.1" fill="none"/>
<circle cx="1300.9" cy="1526.0" r="7.598585091052011" fill="none" stroke-width="1.3"/>
<circle cx="1300.9" cy="1542.1" r="7.598585091052011" fill="none" stroke-width="1.3"/>
<circle cx="1385.0" cy="1526.0" r="7.598585091052011" fill="none" stroke-width="1.3"/>
<circle cx="1385.0" cy="1542.1" r="7.598585091052011" fill="none" stroke-width="1.3"/>
<path d="M1325.8 1522.5H1360.5V1546.1H1325.8Z" stroke-width="1.4" fill="none"/>
<path d="M1308.7 1533.9L1325.8 1533.9" stroke-width="2.2" fill="none"/>
<path d="M1360.5 1533.9L1376.9 1533.9" stroke-width="2.2" fill="none"/>
<path d="M1331.0 1525.8L1355.2 1525.8" stroke-width="0.9" fill="none"/>
<path d="M1331.0 1529.7L1355.2 1529.7" stroke-width="0.9" fill="none"/>
<path d="M1331.0 1533.6L1355.2 1533.6" stroke-width="0.9" fill="none"/>
<path d="M1331.0 1537.6L1355.2 1537.6" stroke-width="0.9" fill="none"/>
<path d="M1331.0 1541.5L1355.2 1541.5" stroke-width="0.9" fill="none"/>
<text transform="translate(1376.2,1499.8) scale(0.781,1)" text-anchor="middle" font-size="11.64">REAR AXLE</text>
<text transform="translate(1374.2,1512.4) scale(0.781,1)" text-anchor="middle" font-size="11.64">BRAKE</text>
<circle cx="1836.2" cy="1526.8" r="7.73369199731002" fill="none" stroke-width="1.3"/>
<circle cx="1836.2" cy="1541.9" r="7.73369199731002" fill="none" stroke-width="1.3"/>
<circle cx="1920.2" cy="1526.8" r="7.73369199731002" fill="none" stroke-width="1.3"/>
<circle cx="1920.2" cy="1541.9" r="7.73369199731002" fill="none" stroke-width="1.3"/>
<path d="M1860.7 1521.7H1895.4V1545.9H1860.7Z" stroke-width="1.4" fill="none"/>
<path d="M1843.9 1534.1L1860.7 1534.1" stroke-width="2.2" fill="none"/>
<path d="M1895.4 1534.1L1912.8 1534.1" stroke-width="2.2" fill="none"/>
<path d="M1865.8 1525.1L1890.3 1525.1" stroke-width="0.9" fill="none"/>
<path d="M1865.8 1529.1L1890.3 1529.1" stroke-width="0.9" fill="none"/>
<path d="M1865.8 1533.1L1890.3 1533.1" stroke-width="0.9" fill="none"/>
<path d="M1865.8 1537.2L1890.3 1537.2" stroke-width="0.9" fill="none"/>
<path d="M1865.8 1541.2L1890.3 1541.2" stroke-width="0.9" fill="none"/>
<path d="M1862.4 1497.2H1875.2V1515.7H1862.4Z" stroke-width="1.2" fill="none"/>
<path d="M1863.8 1503.2L1873.8 1504.9L1863.8 1508.3L1873.8 1510.6L1863.8 1514.0" stroke-width="1" fill="none"/>
<path d="M1869.1 1486.1L1869.1 1497.2" stroke-width="1.6" fill="none"/>
<path d="M1869.1 1515.7L1869.1 1521.7" stroke-width="1.6" fill="none"/>
<text transform="translate(1826.1,1499.9) scale(0.781,1)" text-anchor="middle" font-size="11.64">FRONT AXLE</text>
<text transform="translate(1821.0,1512.3) scale(0.781,1)" text-anchor="middle" font-size="11.64">BRAKE</text>
</svg></body></html>
